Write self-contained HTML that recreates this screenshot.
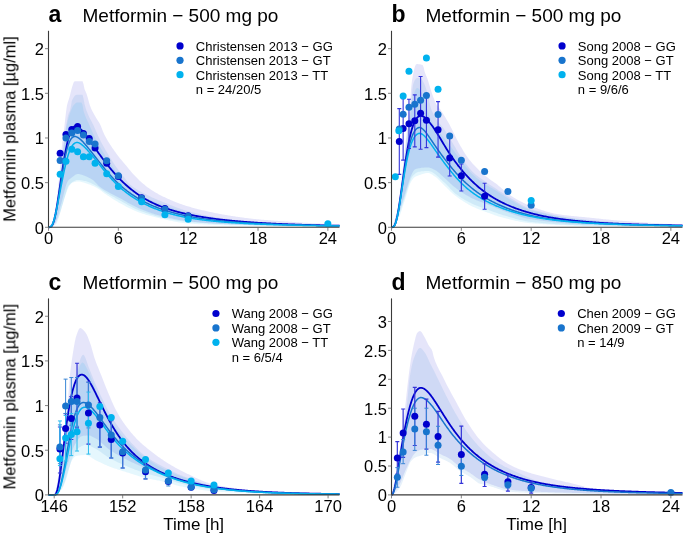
<!DOCTYPE html>
<html><head><meta charset="utf-8"><style>
html,body{margin:0;padding:0;background:#fff;}
svg{display:block;font-family:'Liberation Sans', sans-serif;-webkit-font-smoothing:antialiased;}
text{will-change:transform;}
</style></head><body>
<svg width="685" height="536" viewBox="0 0 685 536">
<rect width="685" height="536" fill="#fff"/>
<g>
<path d="M48.50,227.30 L49.47,227.00 L50.45,226.13 L51.42,224.76 L52.39,222.96 L53.37,220.79 L54.34,218.32 L55.31,213.63 L56.29,205.80 L57.26,196.08 L58.23,185.73 L59.21,175.88 L60.18,165.00 L61.15,153.50 L62.13,143.09 L63.10,135.44 L64.07,128.92 L65.05,120.40 L66.02,111.71 L66.99,105.28 L67.96,101.69 L68.94,98.90 L69.91,95.53 L70.88,91.51 L71.86,87.76 L72.83,84.75 L73.80,82.06 L74.78,81.18 L75.75,81.18 L76.72,81.18 L77.70,81.18 L78.67,81.18 L79.64,81.18 L80.62,81.18 L81.59,81.18 L82.56,81.18 L83.54,84.33 L84.51,89.02 L85.48,91.34 L86.46,93.52 L87.43,96.53 L88.40,100.11 L89.38,103.68 L90.35,106.61 L91.32,108.92 L92.30,110.96 L93.27,112.82 L94.24,114.58 L95.22,116.31 L96.19,117.90 L97.16,119.39 L98.14,120.88 L99.11,122.49 L100.08,124.34 L101.06,126.57 L102.03,129.02 L103.00,131.48 L103.97,133.76 L104.95,135.72 L105.92,137.53 L106.89,139.25 L107.87,140.88 L108.84,142.46 L109.81,143.99 L110.79,145.51 L111.76,146.99 L112.73,148.44 L113.71,149.85 L114.68,151.23 L115.65,152.58 L116.63,153.90 L117.60,155.20 L118.57,156.47 L119.55,157.71 L120.52,158.92 L121.49,160.10 L122.47,161.25 L123.44,162.40 L124.41,163.54 L125.39,164.68 L126.36,165.83 L127.33,167.01 L128.31,168.20 L129.28,169.39 L130.25,170.58 L131.23,171.75 L132.20,172.90 L133.17,174.01 L134.15,175.08 L135.12,176.10 L136.09,177.10 L137.07,178.08 L138.04,179.03 L139.01,179.96 L139.98,180.88 L140.96,181.76 L141.93,182.63 L142.90,183.48 L143.88,184.30 L144.85,185.11 L145.82,185.90 L146.80,186.66 L147.77,187.40 L148.74,188.11 L149.72,188.78 L150.69,189.43 L151.66,190.06 L152.64,190.68 L153.61,191.29 L154.58,191.89 L155.56,192.47 L156.53,193.04 L157.50,193.60 L158.48,194.14 L159.45,194.67 L160.42,195.18 L161.40,195.69 L162.37,196.18 L163.34,196.65 L164.32,197.12 L165.29,197.57 L166.26,198.03 L167.24,198.47 L168.21,198.91 L169.18,199.34 L170.16,199.76 L171.13,200.18 L172.10,200.59 L173.08,201.00 L174.05,201.40 L175.02,201.79 L175.99,202.17 L176.97,202.55 L177.94,202.92 L178.91,203.28 L179.89,203.64 L180.86,203.99 L181.83,204.34 L182.81,204.67 L183.78,205.00 L184.75,205.32 L185.73,205.64 L186.70,205.95 L187.67,206.25 L188.65,206.54 L189.62,206.83 L190.59,207.11 L191.57,207.39 L192.54,207.66 L193.51,207.93 L194.49,208.19 L195.46,208.44 L196.43,208.70 L197.41,208.94 L198.38,209.19 L199.35,209.43 L200.33,209.66 L201.30,209.90 L202.27,210.13 L203.25,210.36 L204.22,210.58 L205.19,210.81 L206.17,211.03 L207.14,211.25 L208.11,211.47 L209.09,211.68 L210.06,211.90 L211.03,212.11 L212.01,212.32 L212.98,212.53 L213.95,212.73 L214.92,212.93 L215.90,213.13 L216.87,213.32 L217.84,213.52 L218.82,213.70 L219.79,213.89 L220.76,214.07 L221.74,214.25 L222.71,214.43 L223.68,214.60 L224.66,214.76 L225.63,214.93 L226.60,215.09 L227.58,215.25 L228.55,215.41 L229.52,215.57 L230.50,215.73 L231.47,215.89 L232.44,216.04 L233.42,216.20 L234.39,216.35 L235.36,216.50 L236.34,216.65 L237.31,216.79 L238.28,216.94 L239.26,217.08 L240.23,217.22 L241.20,217.35 L242.18,217.49 L243.15,217.62 L244.12,217.75 L245.10,217.88 L246.07,218.00 L247.04,218.12 L248.02,218.24 L248.99,218.36 L249.96,218.47 L250.93,218.58 L251.91,218.69 L252.88,218.79 L253.85,218.89 L254.83,218.99 L255.80,219.08 L256.77,219.18 L257.75,219.27 L258.72,219.36 L259.69,219.45 L260.67,219.54 L261.64,219.63 L262.61,219.71 L263.59,219.80 L264.56,219.88 L265.53,219.96 L266.51,220.04 L267.48,220.12 L268.45,220.20 L269.43,220.28 L270.40,220.36 L271.37,220.43 L272.35,220.51 L273.32,220.58 L274.29,220.65 L275.27,220.72 L276.24,220.79 L277.21,220.87 L278.19,220.94 L279.16,221.00 L280.13,221.07 L281.11,221.14 L282.08,221.21 L283.05,221.28 L284.03,221.34 L285.00,221.41 L285.97,221.47 L286.94,221.54 L287.92,221.61 L288.89,221.67 L289.86,221.74 L290.84,221.80 L291.81,221.87 L292.78,221.93 L293.76,222.00 L294.73,222.06 L295.70,222.12 L296.68,222.19 L297.65,222.25 L298.62,222.31 L299.60,222.38 L300.57,222.44 L301.54,222.50 L302.52,222.56 L303.49,222.63 L304.46,222.69 L305.44,222.75 L306.41,222.81 L307.38,222.87 L308.36,222.93 L309.33,222.99 L310.30,223.05 L311.28,223.11 L312.25,223.17 L313.22,223.22 L314.20,223.28 L315.17,223.34 L316.14,223.40 L317.12,223.45 L318.09,223.51 L319.06,223.56 L320.04,223.62 L321.01,223.67 L321.98,223.73 L322.95,223.78 L323.93,223.83 L324.90,223.89 L325.87,223.94 L326.85,223.99 L327.82,224.04 L328.79,224.09 L329.77,224.14 L330.74,224.19 L331.71,224.24 L332.69,224.29 L333.66,224.34 L334.63,224.39 L335.61,224.44 L336.58,224.48 L337.55,224.53 L338.53,224.58 L339.50,224.62 L339.50,226.59 L338.53,226.58 L337.55,226.58 L336.58,226.58 L335.61,226.58 L334.63,226.57 L333.66,226.57 L332.69,226.56 L331.71,226.56 L330.74,226.55 L329.77,226.55 L328.79,226.54 L327.82,226.54 L326.85,226.53 L325.87,226.52 L324.90,226.51 L323.93,226.51 L322.95,226.50 L321.98,226.49 L321.01,226.48 L320.04,226.47 L319.06,226.46 L318.09,226.45 L317.12,226.44 L316.14,226.43 L315.17,226.42 L314.20,226.40 L313.22,226.39 L312.25,226.38 L311.28,226.37 L310.30,226.35 L309.33,226.34 L308.36,226.33 L307.38,226.31 L306.41,226.30 L305.44,226.28 L304.46,226.27 L303.49,226.25 L302.52,226.24 L301.54,226.22 L300.57,226.21 L299.60,226.19 L298.62,226.17 L297.65,226.16 L296.68,226.14 L295.70,226.12 L294.73,226.11 L293.76,226.09 L292.78,226.07 L291.81,226.05 L290.84,226.03 L289.86,226.02 L288.89,226.00 L287.92,225.98 L286.94,225.96 L285.97,225.94 L285.00,225.92 L284.03,225.90 L283.05,225.88 L282.08,225.86 L281.11,225.84 L280.13,225.82 L279.16,225.80 L278.19,225.78 L277.21,225.76 L276.24,225.74 L275.27,225.72 L274.29,225.70 L273.32,225.68 L272.35,225.65 L271.37,225.63 L270.40,225.61 L269.43,225.59 L268.45,225.57 L267.48,225.55 L266.51,225.53 L265.53,225.50 L264.56,225.48 L263.59,225.46 L262.61,225.44 L261.64,225.42 L260.67,225.39 L259.69,225.37 L258.72,225.35 L257.75,225.33 L256.77,225.31 L255.80,225.28 L254.83,225.26 L253.85,225.23 L252.88,225.21 L251.91,225.18 L250.93,225.16 L249.96,225.13 L248.99,225.10 L248.02,225.07 L247.04,225.04 L246.07,225.01 L245.10,224.98 L244.12,224.95 L243.15,224.92 L242.18,224.89 L241.20,224.85 L240.23,224.82 L239.26,224.78 L238.28,224.75 L237.31,224.71 L236.34,224.67 L235.36,224.64 L234.39,224.60 L233.42,224.56 L232.44,224.52 L231.47,224.48 L230.50,224.43 L229.52,224.39 L228.55,224.35 L227.58,224.30 L226.60,224.26 L225.63,224.21 L224.66,224.16 L223.68,224.12 L222.71,224.07 L221.74,224.02 L220.76,223.96 L219.79,223.91 L218.82,223.85 L217.84,223.80 L216.87,223.74 L215.90,223.68 L214.92,223.62 L213.95,223.55 L212.98,223.49 L212.01,223.42 L211.03,223.35 L210.06,223.28 L209.09,223.21 L208.11,223.14 L207.14,223.06 L206.17,222.99 L205.19,222.91 L204.22,222.83 L203.25,222.74 L202.27,222.66 L201.30,222.57 L200.33,222.49 L199.35,222.40 L198.38,222.31 L197.41,222.21 L196.43,222.12 L195.46,222.02 L194.49,221.92 L193.51,221.82 L192.54,221.72 L191.57,221.62 L190.59,221.51 L189.62,221.40 L188.65,221.29 L187.67,221.18 L186.70,221.06 L185.73,220.94 L184.75,220.80 L183.78,220.67 L182.81,220.52 L181.83,220.37 L180.86,220.21 L179.89,220.05 L178.91,219.88 L177.94,219.71 L176.97,219.53 L175.99,219.34 L175.02,219.16 L174.05,218.96 L173.08,218.76 L172.10,218.56 L171.13,218.35 L170.16,218.14 L169.18,217.93 L168.21,217.71 L167.24,217.49 L166.26,217.27 L165.29,217.04 L164.32,216.81 L163.34,216.58 L162.37,216.34 L161.40,216.09 L160.42,215.83 L159.45,215.56 L158.48,215.29 L157.50,215.01 L156.53,214.72 L155.56,214.43 L154.58,214.13 L153.61,213.82 L152.64,213.50 L151.66,213.18 L150.69,212.85 L149.72,212.51 L148.74,212.17 L147.77,211.82 L146.80,211.46 L145.82,211.10 L144.85,210.73 L143.88,210.36 L142.90,209.98 L141.93,209.59 L140.96,209.20 L139.98,208.81 L139.01,208.40 L138.04,207.97 L137.07,207.53 L136.09,207.06 L135.12,206.59 L134.15,206.09 L133.17,205.59 L132.20,205.07 L131.23,204.55 L130.25,204.01 L129.28,203.47 L128.31,202.93 L127.33,202.38 L126.36,201.83 L125.39,201.27 L124.41,200.72 L123.44,200.17 L122.47,199.62 L121.49,199.08 L120.52,198.55 L119.55,198.02 L118.57,197.50 L117.60,196.99 L116.63,196.49 L115.65,195.99 L114.68,195.50 L113.71,195.00 L112.73,194.50 L111.76,193.99 L110.79,193.47 L109.81,192.94 L108.84,192.40 L107.87,191.86 L106.89,191.33 L105.92,190.79 L104.95,190.24 L103.97,189.68 L103.00,189.09 L102.03,188.47 L101.06,187.81 L100.08,187.11 L99.11,186.34 L98.14,185.41 L97.16,184.37 L96.19,183.29 L95.22,182.22 L94.24,181.22 L93.27,180.36 L92.30,179.67 L91.32,179.06 L90.35,178.48 L89.38,177.95 L88.40,177.46 L87.43,177.00 L86.46,176.58 L85.48,176.19 L84.51,175.83 L83.54,175.46 L82.56,175.09 L81.59,174.74 L80.62,174.42 L79.64,174.18 L78.67,174.02 L77.70,173.98 L76.72,174.16 L75.75,174.57 L74.78,175.16 L73.80,175.88 L72.83,176.67 L71.86,177.47 L70.88,178.24 L69.91,178.96 L68.94,179.80 L67.96,180.91 L66.99,182.73 L66.02,185.48 L65.05,188.89 L64.07,192.72 L63.10,196.69 L62.13,200.56 L61.15,204.06 L60.18,207.32 L59.21,210.88 L58.23,214.51 L57.26,217.95 L56.29,220.95 L55.31,223.25 L54.34,224.60 L53.37,225.34 L52.39,225.98 L51.42,226.53 L50.45,226.94 L49.47,227.21 L48.50,227.30Z" fill="#0000CD" fill-opacity="0.1"/>
<path d="M48.50,227.30 L49.47,227.06 L50.45,226.36 L51.42,225.26 L52.39,223.82 L53.37,222.08 L54.34,220.11 L55.31,216.48 L56.29,210.38 L57.26,202.65 L58.23,194.10 L59.21,185.57 L60.18,177.27 L61.15,167.84 L62.13,157.85 L63.10,148.04 L64.07,139.16 L65.05,131.95 L66.02,126.34 L66.99,120.93 L67.96,115.83 L68.94,112.88 L69.91,110.93 L70.88,106.57 L71.86,100.77 L72.83,98.76 L73.80,97.25 L74.78,95.75 L75.75,94.88 L76.72,94.84 L77.70,94.84 L78.67,94.84 L79.64,94.84 L80.62,94.84 L81.59,94.84 L82.56,94.84 L83.54,98.84 L84.51,103.92 L85.48,107.51 L86.46,110.45 L87.43,113.05 L88.40,115.37 L89.38,117.42 L90.35,119.30 L91.32,121.10 L92.30,122.92 L93.27,124.87 L94.24,126.99 L95.22,129.21 L96.19,131.47 L97.16,133.74 L98.14,135.95 L99.11,138.07 L100.08,140.05 L101.06,141.94 L102.03,143.77 L103.00,145.55 L103.97,147.28 L104.95,148.98 L105.92,150.65 L106.89,152.30 L107.87,153.94 L108.84,155.56 L109.81,157.16 L110.79,158.74 L111.76,160.29 L112.73,161.81 L113.71,163.30 L114.68,164.75 L115.65,166.17 L116.63,167.55 L117.60,168.90 L118.57,170.22 L119.55,171.52 L120.52,172.80 L121.49,174.06 L122.47,175.31 L123.44,176.55 L124.41,177.79 L125.39,179.04 L126.36,180.34 L127.33,181.63 L128.31,182.83 L129.28,183.86 L130.25,184.71 L131.23,185.51 L132.20,186.27 L133.17,187.00 L134.15,187.69 L135.12,188.35 L136.09,188.98 L137.07,189.59 L138.04,190.17 L139.01,190.74 L139.98,191.28 L140.96,191.81 L141.93,192.33 L142.90,192.84 L143.88,193.34 L144.85,193.83 L145.82,194.32 L146.80,194.82 L147.77,195.31 L148.74,195.80 L149.72,196.28 L150.69,196.74 L151.66,197.20 L152.64,197.64 L153.61,198.08 L154.58,198.51 L155.56,198.93 L156.53,199.35 L157.50,199.75 L158.48,200.16 L159.45,200.56 L160.42,200.96 L161.40,201.35 L162.37,201.74 L163.34,202.13 L164.32,202.52 L165.29,202.92 L166.26,203.31 L167.24,203.70 L168.21,204.10 L169.18,204.49 L170.16,204.88 L171.13,205.27 L172.10,205.66 L173.08,206.05 L174.05,206.43 L175.02,206.81 L175.99,207.18 L176.97,207.55 L177.94,207.91 L178.91,208.27 L179.89,208.62 L180.86,208.96 L181.83,209.29 L182.81,209.62 L183.78,209.93 L184.75,210.24 L185.73,210.53 L186.70,210.81 L187.67,211.09 L188.65,211.35 L189.62,211.60 L190.59,211.86 L191.57,212.11 L192.54,212.35 L193.51,212.60 L194.49,212.84 L195.46,213.08 L196.43,213.31 L197.41,213.54 L198.38,213.77 L199.35,214.00 L200.33,214.22 L201.30,214.43 L202.27,214.65 L203.25,214.86 L204.22,215.07 L205.19,215.27 L206.17,215.47 L207.14,215.67 L208.11,215.86 L209.09,216.05 L210.06,216.24 L211.03,216.42 L212.01,216.60 L212.98,216.77 L213.95,216.95 L214.92,217.11 L215.90,217.28 L216.87,217.44 L217.84,217.59 L218.82,217.75 L219.79,217.89 L220.76,218.04 L221.74,218.18 L222.71,218.31 L223.68,218.45 L224.66,218.58 L225.63,218.71 L226.60,218.84 L227.58,218.96 L228.55,219.09 L229.52,219.21 L230.50,219.33 L231.47,219.45 L232.44,219.56 L233.42,219.68 L234.39,219.79 L235.36,219.90 L236.34,220.01 L237.31,220.12 L238.28,220.23 L239.26,220.33 L240.23,220.43 L241.20,220.53 L242.18,220.63 L243.15,220.73 L244.12,220.82 L245.10,220.91 L246.07,221.00 L247.04,221.09 L248.02,221.18 L248.99,221.26 L249.96,221.34 L250.93,221.42 L251.91,221.50 L252.88,221.58 L253.85,221.65 L254.83,221.72 L255.80,221.79 L256.77,221.86 L257.75,221.92 L258.72,221.99 L259.69,222.05 L260.67,222.11 L261.64,222.18 L262.61,222.24 L263.59,222.30 L264.56,222.36 L265.53,222.43 L266.51,222.49 L267.48,222.55 L268.45,222.61 L269.43,222.67 L270.40,222.74 L271.37,222.80 L272.35,222.86 L273.32,222.92 L274.29,222.98 L275.27,223.04 L276.24,223.10 L277.21,223.16 L278.19,223.22 L279.16,223.28 L280.13,223.34 L281.11,223.39 L282.08,223.45 L283.05,223.51 L284.03,223.57 L285.00,223.62 L285.97,223.68 L286.94,223.73 L287.92,223.79 L288.89,223.84 L289.86,223.90 L290.84,223.95 L291.81,224.00 L292.78,224.05 L293.76,224.10 L294.73,224.16 L295.70,224.21 L296.68,224.25 L297.65,224.30 L298.62,224.35 L299.60,224.40 L300.57,224.45 L301.54,224.49 L302.52,224.54 L303.49,224.58 L304.46,224.62 L305.44,224.67 L306.41,224.71 L307.38,224.75 L308.36,224.79 L309.33,224.83 L310.30,224.87 L311.28,224.90 L312.25,224.94 L313.22,224.98 L314.20,225.01 L315.17,225.04 L316.14,225.08 L317.12,225.11 L318.09,225.14 L319.06,225.17 L320.04,225.20 L321.01,225.22 L321.98,225.25 L322.95,225.27 L323.93,225.30 L324.90,225.32 L325.87,225.34 L326.85,225.36 L327.82,225.38 L328.79,225.40 L329.77,225.42 L330.74,225.43 L331.71,225.45 L332.69,225.46 L333.66,225.47 L334.63,225.48 L335.61,225.49 L336.58,225.50 L337.55,225.51 L338.53,225.51 L339.50,225.51 L339.50,226.76 L338.53,226.76 L337.55,226.76 L336.58,226.76 L335.61,226.76 L334.63,226.76 L333.66,226.75 L332.69,226.75 L331.71,226.75 L330.74,226.74 L329.77,226.74 L328.79,226.73 L327.82,226.73 L326.85,226.72 L325.87,226.71 L324.90,226.71 L323.93,226.70 L322.95,226.69 L321.98,226.68 L321.01,226.67 L320.04,226.66 L319.06,226.65 L318.09,226.64 L317.12,226.63 L316.14,226.62 L315.17,226.61 L314.20,226.60 L313.22,226.58 L312.25,226.57 L311.28,226.56 L310.30,226.54 L309.33,226.53 L308.36,226.51 L307.38,226.50 L306.41,226.48 L305.44,226.47 L304.46,226.45 L303.49,226.43 L302.52,226.42 L301.54,226.40 L300.57,226.38 L299.60,226.36 L298.62,226.34 L297.65,226.33 L296.68,226.31 L295.70,226.29 L294.73,226.27 L293.76,226.25 L292.78,226.22 L291.81,226.20 L290.84,226.18 L289.86,226.16 L288.89,226.14 L287.92,226.12 L286.94,226.09 L285.97,226.07 L285.00,226.05 L284.03,226.02 L283.05,226.00 L282.08,225.97 L281.11,225.95 L280.13,225.92 L279.16,225.90 L278.19,225.87 L277.21,225.85 L276.24,225.82 L275.27,225.80 L274.29,225.77 L273.32,225.74 L272.35,225.72 L271.37,225.69 L270.40,225.66 L269.43,225.63 L268.45,225.60 L267.48,225.58 L266.51,225.55 L265.53,225.52 L264.56,225.49 L263.59,225.46 L262.61,225.43 L261.64,225.40 L260.67,225.37 L259.69,225.34 L258.72,225.31 L257.75,225.28 L256.77,225.25 L255.80,225.22 L254.83,225.19 L253.85,225.15 L252.88,225.12 L251.91,225.09 L250.93,225.06 L249.96,225.03 L248.99,224.99 L248.02,224.96 L247.04,224.93 L246.07,224.90 L245.10,224.86 L244.12,224.83 L243.15,224.80 L242.18,224.76 L241.20,224.73 L240.23,224.70 L239.26,224.66 L238.28,224.63 L237.31,224.59 L236.34,224.56 L235.36,224.53 L234.39,224.49 L233.42,224.46 L232.44,224.42 L231.47,224.39 L230.50,224.35 L229.52,224.32 L228.55,224.28 L227.58,224.25 L226.60,224.21 L225.63,224.18 L224.66,224.14 L223.68,224.11 L222.71,224.07 L221.74,224.03 L220.76,224.00 L219.79,223.96 L218.82,223.92 L217.84,223.88 L216.87,223.83 L215.90,223.79 L214.92,223.75 L213.95,223.70 L212.98,223.65 L212.01,223.61 L211.03,223.56 L210.06,223.50 L209.09,223.45 L208.11,223.40 L207.14,223.34 L206.17,223.29 L205.19,223.23 L204.22,223.17 L203.25,223.11 L202.27,223.04 L201.30,222.98 L200.33,222.91 L199.35,222.84 L198.38,222.78 L197.41,222.70 L196.43,222.63 L195.46,222.56 L194.49,222.48 L193.51,222.40 L192.54,222.32 L191.57,222.24 L190.59,222.16 L189.62,222.07 L188.65,221.98 L187.67,221.89 L186.70,221.80 L185.73,221.69 L184.75,221.58 L183.78,221.46 L182.81,221.34 L181.83,221.21 L180.86,221.07 L179.89,220.93 L178.91,220.78 L177.94,220.63 L176.97,220.47 L175.99,220.31 L175.02,220.14 L174.05,219.97 L173.08,219.79 L172.10,219.61 L171.13,219.42 L170.16,219.24 L169.18,219.05 L168.21,218.85 L167.24,218.65 L166.26,218.45 L165.29,218.25 L164.32,218.04 L163.34,217.84 L162.37,217.62 L161.40,217.40 L160.42,217.17 L159.45,216.94 L158.48,216.69 L157.50,216.44 L156.53,216.18 L155.56,215.92 L154.58,215.65 L153.61,215.37 L152.64,215.08 L151.66,214.79 L150.69,214.49 L149.72,214.18 L148.74,213.87 L147.77,213.55 L146.80,213.23 L145.82,212.89 L144.85,212.56 L143.88,212.21 L142.90,211.86 L141.93,211.51 L140.96,211.14 L139.98,210.77 L139.01,210.39 L138.04,209.99 L137.07,209.57 L136.09,209.13 L135.12,208.68 L134.15,208.21 L133.17,207.73 L132.20,207.24 L131.23,206.73 L130.25,206.22 L129.28,205.69 L128.31,205.16 L127.33,204.63 L126.36,204.09 L125.39,203.54 L124.41,203.00 L123.44,202.45 L122.47,201.90 L121.49,201.35 L120.52,200.81 L119.55,200.27 L118.57,199.74 L117.60,199.21 L116.63,198.68 L115.65,198.15 L114.68,197.62 L113.71,197.08 L112.73,196.54 L111.76,196.00 L110.79,195.45 L109.81,194.89 L108.84,194.33 L107.87,193.75 L106.89,193.17 L105.92,192.58 L104.95,191.98 L103.97,191.36 L103.00,190.69 L102.03,189.98 L101.06,189.26 L100.08,188.53 L99.11,187.81 L98.14,187.10 L97.16,186.43 L96.19,185.80 L95.22,185.23 L94.24,184.72 L93.27,184.23 L92.30,183.75 L91.32,183.28 L90.35,182.83 L89.38,182.41 L88.40,182.02 L87.43,181.67 L86.46,181.35 L85.48,181.09 L84.51,180.88 L83.54,180.68 L82.56,180.49 L81.59,180.32 L80.62,180.17 L79.64,180.05 L78.67,179.98 L77.70,179.96 L76.72,180.06 L75.75,180.31 L74.78,180.69 L73.80,181.20 L72.83,181.82 L71.86,182.55 L70.88,183.37 L69.91,184.27 L68.94,185.25 L67.96,186.76 L66.99,189.23 L66.02,192.39 L65.05,195.92 L64.07,199.55 L63.10,202.99 L62.13,206.01 L61.15,209.21 L60.18,212.62 L59.21,216.00 L58.23,219.13 L57.26,221.78 L56.29,223.72 L55.31,224.74 L54.34,225.35 L53.37,225.90 L52.39,226.38 L51.42,226.77 L50.45,227.06 L49.47,227.24 L48.50,227.30Z" fill="#1874CD" fill-opacity="0.1"/>
<path d="M48.50,227.30 L49.47,227.08 L50.45,226.47 L51.42,225.51 L52.39,224.24 L53.37,222.73 L54.34,221.01 L55.31,217.89 L56.29,212.65 L57.26,205.87 L58.23,198.16 L59.21,190.12 L60.18,182.34 L61.15,173.78 L62.13,163.85 L63.10,153.46 L64.07,143.55 L65.05,135.00 L66.02,128.75 L66.99,124.12 L67.96,120.09 L68.94,116.57 L69.91,113.50 L70.88,110.80 L71.86,108.39 L72.83,106.34 L73.80,105.00 L74.78,103.92 L75.75,103.04 L76.72,102.51 L77.70,102.43 L78.67,102.43 L79.64,102.43 L80.62,102.43 L81.59,102.43 L82.56,105.10 L83.54,110.63 L84.51,114.12 L85.48,116.62 L86.46,118.76 L87.43,120.75 L88.40,122.78 L89.38,124.98 L90.35,127.24 L91.32,129.50 L92.30,131.74 L93.27,133.92 L94.24,136.03 L95.22,138.03 L96.19,139.93 L97.16,141.77 L98.14,143.56 L99.11,145.30 L100.08,147.01 L101.06,148.68 L102.03,150.34 L103.00,151.98 L103.97,153.60 L104.95,155.19 L105.92,156.76 L106.89,158.30 L107.87,159.82 L108.84,161.32 L109.81,162.80 L110.79,164.26 L111.76,165.69 L112.73,167.09 L113.71,168.47 L114.68,169.82 L115.65,171.17 L116.63,172.52 L117.60,173.87 L118.57,175.23 L119.55,176.65 L120.52,178.14 L121.49,179.63 L122.47,181.08 L123.44,182.42 L124.41,183.60 L125.39,184.59 L126.36,185.52 L127.33,186.40 L128.31,187.25 L129.28,188.07 L130.25,188.85 L131.23,189.60 L132.20,190.31 L133.17,191.00 L134.15,191.66 L135.12,192.30 L136.09,192.91 L137.07,193.50 L138.04,194.08 L139.01,194.63 L139.98,195.17 L140.96,195.69 L141.93,196.20 L142.90,196.70 L143.88,197.18 L144.85,197.64 L145.82,198.09 L146.80,198.53 L147.77,198.95 L148.74,199.37 L149.72,199.77 L150.69,200.17 L151.66,200.55 L152.64,200.93 L153.61,201.30 L154.58,201.67 L155.56,202.03 L156.53,202.38 L157.50,202.73 L158.48,203.08 L159.45,203.43 L160.42,203.78 L161.40,204.13 L162.37,204.48 L163.34,204.83 L164.32,205.18 L165.29,205.54 L166.26,205.89 L167.24,206.25 L168.21,206.61 L169.18,206.96 L170.16,207.32 L171.13,207.67 L172.10,208.02 L173.08,208.37 L174.05,208.71 L175.02,209.05 L175.99,209.39 L176.97,209.72 L177.94,210.05 L178.91,210.37 L179.89,210.68 L180.86,210.99 L181.83,211.29 L182.81,211.58 L183.78,211.86 L184.75,212.13 L185.73,212.39 L186.70,212.65 L187.67,212.89 L188.65,213.12 L189.62,213.35 L190.59,213.57 L191.57,213.79 L192.54,214.01 L193.51,214.22 L194.49,214.43 L195.46,214.64 L196.43,214.85 L197.41,215.05 L198.38,215.25 L199.35,215.45 L200.33,215.64 L201.30,215.83 L202.27,216.02 L203.25,216.20 L204.22,216.39 L205.19,216.56 L206.17,216.74 L207.14,216.91 L208.11,217.08 L209.09,217.24 L210.06,217.41 L211.03,217.56 L212.01,217.72 L212.98,217.87 L213.95,218.02 L214.92,218.17 L215.90,218.31 L216.87,218.45 L217.84,218.58 L218.82,218.72 L219.79,218.85 L220.76,218.97 L221.74,219.10 L222.71,219.21 L223.68,219.33 L224.66,219.45 L225.63,219.56 L226.60,219.67 L227.58,219.78 L228.55,219.89 L229.52,219.99 L230.50,220.10 L231.47,220.20 L232.44,220.30 L233.42,220.40 L234.39,220.50 L235.36,220.60 L236.34,220.69 L237.31,220.79 L238.28,220.88 L239.26,220.97 L240.23,221.06 L241.20,221.15 L242.18,221.23 L243.15,221.32 L244.12,221.40 L245.10,221.48 L246.07,221.56 L247.04,221.63 L248.02,221.71 L248.99,221.78 L249.96,221.86 L250.93,221.93 L251.91,221.99 L252.88,222.06 L253.85,222.13 L254.83,222.19 L255.80,222.25 L256.77,222.31 L257.75,222.37 L258.72,222.43 L259.69,222.49 L260.67,222.54 L261.64,222.60 L262.61,222.66 L263.59,222.71 L264.56,222.77 L265.53,222.83 L266.51,222.88 L267.48,222.94 L268.45,223.00 L269.43,223.05 L270.40,223.11 L271.37,223.16 L272.35,223.22 L273.32,223.27 L274.29,223.33 L275.27,223.38 L276.24,223.43 L277.21,223.49 L278.19,223.54 L279.16,223.60 L280.13,223.65 L281.11,223.70 L282.08,223.75 L283.05,223.80 L284.03,223.86 L285.00,223.91 L285.97,223.96 L286.94,224.01 L287.92,224.06 L288.89,224.11 L289.86,224.15 L290.84,224.20 L291.81,224.25 L292.78,224.30 L293.76,224.34 L294.73,224.39 L295.70,224.44 L296.68,224.48 L297.65,224.52 L298.62,224.57 L299.60,224.61 L300.57,224.65 L301.54,224.70 L302.52,224.74 L303.49,224.78 L304.46,224.82 L305.44,224.86 L306.41,224.90 L307.38,224.93 L308.36,224.97 L309.33,225.01 L310.30,225.04 L311.28,225.08 L312.25,225.11 L313.22,225.14 L314.20,225.18 L315.17,225.21 L316.14,225.24 L317.12,225.27 L318.09,225.30 L319.06,225.33 L320.04,225.35 L321.01,225.38 L321.98,225.41 L322.95,225.43 L323.93,225.45 L324.90,225.48 L325.87,225.50 L326.85,225.52 L327.82,225.54 L328.79,225.56 L329.77,225.57 L330.74,225.59 L331.71,225.61 L332.69,225.62 L333.66,225.63 L334.63,225.65 L335.61,225.66 L336.58,225.67 L337.55,225.68 L338.53,225.69 L339.50,225.69 L339.50,226.85 L338.53,226.85 L337.55,226.85 L336.58,226.84 L335.61,226.84 L334.63,226.83 L333.66,226.83 L332.69,226.82 L331.71,226.82 L330.74,226.81 L329.77,226.81 L328.79,226.80 L327.82,226.80 L326.85,226.79 L325.87,226.78 L324.90,226.78 L323.93,226.77 L322.95,226.76 L321.98,226.76 L321.01,226.75 L320.04,226.74 L319.06,226.73 L318.09,226.73 L317.12,226.72 L316.14,226.71 L315.17,226.70 L314.20,226.69 L313.22,226.68 L312.25,226.67 L311.28,226.66 L310.30,226.65 L309.33,226.64 L308.36,226.63 L307.38,226.62 L306.41,226.61 L305.44,226.60 L304.46,226.59 L303.49,226.58 L302.52,226.57 L301.54,226.56 L300.57,226.55 L299.60,226.54 L298.62,226.53 L297.65,226.51 L296.68,226.50 L295.70,226.49 L294.73,226.48 L293.76,226.47 L292.78,226.45 L291.81,226.44 L290.84,226.43 L289.86,226.42 L288.89,226.40 L287.92,226.39 L286.94,226.38 L285.97,226.36 L285.00,226.35 L284.03,226.34 L283.05,226.32 L282.08,226.31 L281.11,226.30 L280.13,226.28 L279.16,226.27 L278.19,226.25 L277.21,226.24 L276.24,226.23 L275.27,226.21 L274.29,226.20 L273.32,226.18 L272.35,226.17 L271.37,226.15 L270.40,226.14 L269.43,226.12 L268.45,226.11 L267.48,226.10 L266.51,226.08 L265.53,226.07 L264.56,226.05 L263.59,226.04 L262.61,226.02 L261.64,226.00 L260.67,225.99 L259.69,225.97 L258.72,225.96 L257.75,225.94 L256.77,225.93 L255.80,225.91 L254.83,225.90 L253.85,225.88 L252.88,225.87 L251.91,225.85 L250.93,225.84 L249.96,225.82 L248.99,225.80 L248.02,225.79 L247.04,225.77 L246.07,225.75 L245.10,225.73 L244.12,225.71 L243.15,225.69 L242.18,225.68 L241.20,225.66 L240.23,225.64 L239.26,225.61 L238.28,225.59 L237.31,225.57 L236.34,225.55 L235.36,225.53 L234.39,225.50 L233.42,225.48 L232.44,225.46 L231.47,225.43 L230.50,225.41 L229.52,225.38 L228.55,225.35 L227.58,225.33 L226.60,225.30 L225.63,225.27 L224.66,225.24 L223.68,225.21 L222.71,225.18 L221.74,225.15 L220.76,225.12 L219.79,225.09 L218.82,225.05 L217.84,225.02 L216.87,224.99 L215.90,224.95 L214.92,224.92 L213.95,224.88 L212.98,224.84 L212.01,224.81 L211.03,224.77 L210.06,224.73 L209.09,224.68 L208.11,224.64 L207.14,224.60 L206.17,224.55 L205.19,224.51 L204.22,224.46 L203.25,224.41 L202.27,224.36 L201.30,224.31 L200.33,224.26 L199.35,224.20 L198.38,224.15 L197.41,224.09 L196.43,224.03 L195.46,223.97 L194.49,223.90 L193.51,223.84 L192.54,223.77 L191.57,223.70 L190.59,223.63 L189.62,223.56 L188.65,223.49 L187.67,223.41 L186.70,223.33 L185.73,223.25 L184.75,223.17 L183.78,223.07 L182.81,222.96 L181.83,222.84 L180.86,222.70 L179.89,222.55 L178.91,222.40 L177.94,222.23 L176.97,222.05 L175.99,221.87 L175.02,221.67 L174.05,221.47 L173.08,221.27 L172.10,221.06 L171.13,220.84 L170.16,220.63 L169.18,220.41 L168.21,220.18 L167.24,219.96 L166.26,219.74 L165.29,219.52 L164.32,219.30 L163.34,219.08 L162.37,218.87 L161.40,218.65 L160.42,218.43 L159.45,218.20 L158.48,217.97 L157.50,217.74 L156.53,217.51 L155.56,217.27 L154.58,217.03 L153.61,216.79 L152.64,216.54 L151.66,216.28 L150.69,216.02 L149.72,215.75 L148.74,215.48 L147.77,215.21 L146.80,214.92 L145.82,214.63 L144.85,214.34 L143.88,214.03 L142.90,213.72 L141.93,213.40 L140.96,213.07 L139.98,212.74 L139.01,212.39 L138.04,212.03 L137.07,211.65 L136.09,211.25 L135.12,210.85 L134.15,210.42 L133.17,209.99 L132.20,209.54 L131.23,209.08 L130.25,208.62 L129.28,208.14 L128.31,207.65 L127.33,207.15 L126.36,206.65 L125.39,206.14 L124.41,205.62 L123.44,205.10 L122.47,204.57 L121.49,204.04 L120.52,203.50 L119.55,202.96 L118.57,202.42 L117.60,201.87 L116.63,201.31 L115.65,200.72 L114.68,200.12 L113.71,199.51 L112.73,198.88 L111.76,198.25 L110.79,197.61 L109.81,196.96 L108.84,196.30 L107.87,195.65 L106.89,195.00 L105.92,194.33 L104.95,193.64 L103.97,192.91 L103.00,192.17 L102.03,191.43 L101.06,190.70 L100.08,189.99 L99.11,189.31 L98.14,188.67 L97.16,188.08 L96.19,187.56 L95.22,187.05 L94.24,186.57 L93.27,186.11 L92.30,185.68 L91.32,185.26 L90.35,184.87 L89.38,184.50 L88.40,184.16 L87.43,183.85 L86.46,183.52 L85.48,183.19 L84.51,182.86 L83.54,182.54 L82.56,182.25 L81.59,181.99 L80.62,181.77 L79.64,181.61 L78.67,181.51 L77.70,181.48 L76.72,181.54 L75.75,181.69 L74.78,181.91 L73.80,182.18 L72.83,182.50 L71.86,183.05 L70.88,183.90 L69.91,184.97 L68.94,186.49 L67.96,188.60 L66.99,191.10 L66.02,193.80 L65.05,196.49 L64.07,199.30 L63.10,202.57 L62.13,206.07 L61.15,209.56 L60.18,212.82 L59.21,215.61 L58.23,217.71 L57.26,219.20 L56.29,220.62 L55.31,221.98 L54.34,223.24 L53.37,224.37 L52.39,225.36 L51.42,226.17 L50.45,226.78 L49.47,227.17 L48.50,227.30Z" fill="#00B2EE" fill-opacity="0.1"/>
<path d="M48.50,227.30 L49.08,227.29 L49.67,227.24 L50.25,227.09 L50.83,226.78 L51.42,226.24 L52.00,225.42 L52.58,224.30 L53.17,222.85 L53.75,221.06 L54.33,218.95 L54.91,216.51 L55.50,213.79 L56.08,210.79 L56.66,207.55 L57.25,204.11 L57.83,200.49 L58.41,196.73 L59.00,192.87 L59.58,188.94 L60.16,184.97 L60.75,180.99 L61.33,177.04 L61.91,173.14 L62.50,169.31 L63.08,165.58 L63.66,161.96 L64.25,158.48 L64.83,155.14 L65.41,151.96 L65.99,148.95 L66.58,146.11 L67.16,143.46 L67.74,141.00 L68.33,138.72 L68.91,136.64 L69.49,134.75 L70.08,133.05 L70.66,131.55 L71.24,130.25 L71.83,129.13 L72.41,128.21 L72.99,127.47 L73.58,126.92 L74.16,126.54 L74.74,126.31 L75.33,126.23 L75.91,126.28 L76.49,126.44 L77.08,126.68 L77.66,127.00 L78.24,127.32 L78.82,127.69 L79.41,128.11 L79.99,128.57 L80.57,129.07 L81.16,129.62 L81.74,130.20 L82.32,130.81 L82.91,131.46 L83.49,132.13 L84.07,132.84 L84.66,133.56 L85.24,134.31 L85.82,135.07 L86.41,135.86 L86.99,136.65 L87.57,137.46 L88.16,138.28 L88.74,139.10 L89.32,139.93 L89.90,140.77 L90.49,141.61 L91.07,142.45 L91.65,143.29 L92.24,144.13 L92.82,144.96 L93.40,145.80 L93.99,146.63 L94.57,147.46 L95.15,148.29 L95.74,149.11 L96.32,149.93 L96.90,150.75 L97.49,151.56 L98.07,152.37 L98.65,153.17 L99.24,153.98 L99.82,154.78 L100.40,155.57 L100.98,156.37 L101.57,157.15 L102.15,157.94 L102.73,158.72 L103.32,159.50 L103.90,160.27 L104.48,161.04 L105.07,161.80 L105.65,162.56 L106.23,163.31 L106.82,164.06 L107.40,164.80 L107.98,165.54 L108.57,166.27 L109.15,166.99 L109.73,167.71 L110.32,168.42 L110.90,169.13 L111.48,169.82 L112.07,170.51 L112.65,171.20 L113.23,171.87 L113.81,172.54 L114.40,173.21 L114.98,173.86 L115.56,174.51 L116.15,175.15 L116.73,175.79 L117.31,176.41 L117.90,177.03 L118.48,177.65 L119.06,178.25 L119.65,178.85 L120.23,179.44 L120.81,180.03 L121.40,180.61 L121.98,181.18 L122.56,181.75 L123.15,182.31 L123.73,182.86 L124.31,183.40 L124.89,183.94 L125.48,184.47 L126.06,185.00 L126.64,185.52 L127.23,186.03 L127.81,186.54 L128.39,187.04 L128.98,187.53 L129.56,188.02 L130.14,188.50 L130.73,188.98 L131.31,189.45 L131.89,189.91 L132.48,190.37 L133.06,190.82 L133.64,191.26 L134.23,191.70 L134.81,192.13 L135.39,192.56 L135.97,192.98 L136.56,193.40 L137.14,193.81 L137.72,194.22 L138.31,194.62 L138.89,195.01 L139.47,195.40 L140.06,195.78 L140.64,196.16 L141.22,196.53 L141.81,196.90 L142.39,197.26 L142.97,197.62 L143.56,197.97 L144.14,198.32 L144.72,198.66 L145.31,199.00 L145.89,199.33 L146.47,199.66 L147.06,199.98 L147.64,200.30 L148.22,200.62 L148.80,200.93 L149.39,201.23 L149.97,201.53 L150.55,201.83 L151.14,202.12 L151.72,202.41 L152.30,202.70 L152.89,202.98 L153.47,203.25 L154.05,203.52 L154.64,203.79 L155.22,204.06 L155.80,204.32 L156.39,204.57 L156.97,204.82 L157.55,205.07 L158.14,205.32 L158.72,205.56 L159.30,205.80 L159.88,206.04 L160.47,206.27 L161.05,206.50 L161.63,206.72 L162.22,206.94 L162.80,207.16 L163.38,207.38 L163.97,207.59 L164.55,207.80 L165.13,208.01 L165.72,208.21 L166.30,208.41 L166.88,208.61 L167.47,208.81 L168.05,209.00 L168.63,209.19 L169.22,209.38 L169.80,209.56 L170.38,209.74 L170.96,209.92 L171.55,210.10 L172.13,210.28 L172.71,210.45 L173.30,210.62 L173.88,210.79 L174.46,210.96 L175.05,211.12 L175.63,211.28 L176.21,211.44 L176.80,211.60 L177.38,211.76 L177.96,211.91 L178.55,212.06 L179.13,212.21 L179.71,212.36 L180.30,212.51 L180.88,212.65 L181.46,212.80 L182.05,212.94 L182.63,213.08 L183.21,213.22 L183.79,213.36 L184.38,213.49 L184.96,213.62 L185.54,213.76 L186.13,213.89 L186.71,214.02 L187.29,214.14 L187.88,214.27 L188.46,214.39 L189.04,214.52 L189.63,214.64 L190.21,214.76 L190.79,214.88 L191.38,215.00 L191.96,215.11 L192.54,215.23 L193.13,215.34 L193.71,215.46 L194.29,215.57 L194.87,215.68 L195.46,215.79 L196.04,215.90 L196.62,216.00 L197.21,216.11 L197.79,216.21 L198.37,216.32 L198.96,216.42 L199.54,216.52 L200.12,216.62 L200.71,216.72 L201.29,216.82 L201.87,216.92 L202.46,217.01 L203.04,217.11 L203.62,217.20 L204.21,217.29 L204.79,217.39 L205.37,217.48 L205.95,217.57 L206.54,217.66 L207.12,217.75 L207.70,217.83 L208.29,217.92 L208.87,218.00 L209.45,218.09 L210.04,218.17 L210.62,218.26 L211.20,218.34 L211.79,218.42 L212.37,218.50 L212.95,218.58 L213.54,218.66 L214.12,218.73 L214.70,218.81 L215.29,218.89 L215.87,218.96 L216.45,219.04 L217.04,219.11 L217.62,219.18 L218.20,219.26 L218.78,219.33 L219.37,219.40 L219.95,219.47 L220.53,219.54 L221.12,219.61 L221.70,219.67 L222.28,219.74 L222.87,219.81 L223.45,219.87 L224.03,219.94 L224.62,220.00 L225.20,220.07 L225.78,220.13 L226.37,220.19 L226.95,220.25 L227.53,220.31 L228.12,220.38 L228.70,220.44 L229.28,220.49 L229.86,220.55 L230.45,220.61 L231.03,220.67 L231.61,220.73 L232.20,220.78 L232.78,220.84 L233.36,220.89 L233.95,220.95 L234.53,221.00 L235.11,221.05 L235.70,221.11 L236.28,221.16 L236.86,221.21 L237.45,221.26 L238.03,221.31 L238.61,221.36 L239.20,221.41 L239.78,221.46 L240.36,221.51 L240.94,221.56 L241.53,221.61 L242.11,221.66 L242.69,221.70 L243.28,221.75 L243.86,221.80 L244.44,221.84 L245.03,221.89 L245.61,221.93 L246.19,221.97 L246.78,222.02 L247.36,222.06 L247.94,222.11 L248.53,222.15 L249.11,222.19 L249.69,222.23 L250.28,222.27 L250.86,222.31 L251.44,222.35 L252.03,222.39 L252.61,222.43 L253.19,222.47 L253.77,222.51 L254.36,222.55 L254.94,222.59 L255.52,222.63 L256.11,222.67 L256.69,222.70 L257.27,222.74 L257.86,222.78 L258.44,222.81 L259.02,222.85 L259.61,222.88 L260.19,222.92 L260.77,222.95 L261.36,222.99 L261.94,223.02 L262.52,223.06 L263.11,223.09 L263.69,223.12 L264.27,223.16 L264.85,223.19 L265.44,223.22 L266.02,223.25 L266.60,223.28 L267.19,223.32 L267.77,223.35 L268.35,223.38 L268.94,223.41 L269.52,223.44 L270.10,223.47 L270.69,223.50 L271.27,223.53 L271.85,223.56 L272.44,223.59 L273.02,223.62 L273.60,223.64 L274.19,223.67 L274.77,223.70 L275.35,223.73 L275.93,223.76 L276.52,223.78 L277.10,223.81 L277.68,223.84 L278.27,223.86 L278.85,223.89 L279.43,223.92 L280.02,223.94 L280.60,223.97 L281.18,223.99 L281.77,224.02 L282.35,224.04 L282.93,224.07 L283.52,224.09 L284.10,224.12 L284.68,224.14 L285.27,224.17 L285.85,224.19 L286.43,224.21 L287.02,224.24 L287.60,224.26 L288.18,224.28 L288.76,224.30 L289.35,224.33 L289.93,224.35 L290.51,224.37 L291.10,224.39 L291.68,224.42 L292.26,224.44 L292.85,224.46 L293.43,224.48 L294.01,224.50 L294.60,224.52 L295.18,224.54 L295.76,224.56 L296.35,224.58 L296.93,224.60 L297.51,224.62 L298.10,224.64 L298.68,224.66 L299.26,224.68 L299.84,224.70 L300.43,224.72 L301.01,224.74 L301.59,224.76 L302.18,224.78 L302.76,224.80 L303.34,224.81 L303.93,224.83 L304.51,224.85 L305.09,224.87 L305.68,224.89 L306.26,224.90 L306.84,224.92 L307.43,224.94 L308.01,224.96 L308.59,224.97 L309.18,224.99 L309.76,225.01 L310.34,225.02 L310.92,225.04 L311.51,225.06 L312.09,225.07 L312.67,225.09 L313.26,225.10 L313.84,225.12 L314.42,225.14 L315.01,225.15 L315.59,225.17 L316.17,225.18 L316.76,225.20 L317.34,225.21 L317.92,225.23 L318.51,225.24 L319.09,225.26 L319.67,225.27 L320.26,225.29 L320.84,225.30 L321.42,225.31 L322.01,225.33 L322.59,225.34 L323.17,225.36 L323.75,225.37 L324.34,225.38 L324.92,225.40 L325.50,225.41 L326.09,225.42 L326.67,225.44 L327.25,225.45 L327.84,225.46 L328.42,225.48 L329.00,225.49 L329.59,225.50 L330.17,225.52 L330.75,225.53 L331.34,225.54 L331.92,225.55 L332.50,225.56 L333.09,225.58 L333.67,225.59 L334.25,225.60 L334.83,225.61 L335.42,225.62 L336.00,225.64 L336.58,225.65 L337.17,225.66 L337.75,225.67 L338.33,225.68 L338.92,225.69 L339.50,225.70" fill="none" stroke="#0000CD" stroke-width="1.8" stroke-linejoin="round"/>
<path d="M48.50,227.30 L49.08,227.29 L49.67,227.26 L50.25,227.16 L50.83,226.92 L51.42,226.49 L52.00,225.81 L52.58,224.84 L53.17,223.56 L53.75,221.94 L54.33,219.99 L54.91,217.71 L55.50,215.13 L56.08,212.26 L56.66,209.14 L57.25,205.80 L57.83,202.28 L58.41,198.62 L59.00,194.84 L59.58,190.99 L60.16,187.10 L60.75,183.24 L61.33,179.41 L61.91,175.66 L62.50,172.00 L63.08,168.47 L63.66,165.08 L64.25,161.86 L64.83,158.81 L65.41,155.96 L65.99,153.31 L66.58,150.87 L67.16,148.63 L67.74,146.61 L68.33,144.80 L68.91,143.20 L69.49,141.79 L70.08,140.57 L70.66,139.53 L71.24,138.67 L71.83,137.97 L72.41,137.41 L72.99,137.00 L73.58,136.72 L74.16,136.55 L74.74,136.49 L75.33,136.52 L75.91,136.64 L76.49,136.84 L77.08,137.11 L77.66,137.43 L78.24,137.77 L78.82,138.15 L79.41,138.58 L79.99,139.04 L80.57,139.55 L81.16,140.09 L81.74,140.65 L82.32,141.24 L82.91,141.85 L83.49,142.48 L84.07,143.13 L84.66,143.79 L85.24,144.46 L85.82,145.14 L86.41,145.83 L86.99,146.52 L87.57,147.22 L88.16,147.93 L88.74,148.64 L89.32,149.36 L89.90,150.08 L90.49,150.80 L91.07,151.53 L91.65,152.26 L92.24,152.99 L92.82,153.72 L93.40,154.46 L93.99,155.20 L94.57,155.94 L95.15,156.68 L95.74,157.43 L96.32,158.17 L96.90,158.92 L97.49,159.66 L98.07,160.41 L98.65,161.15 L99.24,161.90 L99.82,162.64 L100.40,163.38 L100.98,164.12 L101.57,164.86 L102.15,165.59 L102.73,166.32 L103.32,167.05 L103.90,167.77 L104.48,168.48 L105.07,169.20 L105.65,169.90 L106.23,170.60 L106.82,171.29 L107.40,171.98 L107.98,172.66 L108.57,173.34 L109.15,174.01 L109.73,174.67 L110.32,175.32 L110.90,175.97 L111.48,176.60 L112.07,177.24 L112.65,177.86 L113.23,178.48 L113.81,179.09 L114.40,179.69 L114.98,180.28 L115.56,180.87 L116.15,181.44 L116.73,182.01 L117.31,182.58 L117.90,183.13 L118.48,183.68 L119.06,184.22 L119.65,184.76 L120.23,185.28 L120.81,185.80 L121.40,186.31 L121.98,186.82 L122.56,187.32 L123.15,187.81 L123.73,188.29 L124.31,188.77 L124.89,189.24 L125.48,189.71 L126.06,190.16 L126.64,190.62 L127.23,191.06 L127.81,191.50 L128.39,191.94 L128.98,192.37 L129.56,192.79 L130.14,193.21 L130.73,193.62 L131.31,194.02 L131.89,194.43 L132.48,194.82 L133.06,195.21 L133.64,195.60 L134.23,195.98 L134.81,196.35 L135.39,196.72 L135.97,197.09 L136.56,197.45 L137.14,197.81 L137.72,198.16 L138.31,198.51 L138.89,198.85 L139.47,199.19 L140.06,199.52 L140.64,199.85 L141.22,200.18 L141.81,200.50 L142.39,200.81 L142.97,201.13 L143.56,201.43 L144.14,201.74 L144.72,202.04 L145.31,202.34 L145.89,202.63 L146.47,202.92 L147.06,203.20 L147.64,203.48 L148.22,203.76 L148.80,204.04 L149.39,204.31 L149.97,204.57 L150.55,204.83 L151.14,205.09 L151.72,205.35 L152.30,205.60 L152.89,205.85 L153.47,206.10 L154.05,206.34 L154.64,206.58 L155.22,206.81 L155.80,207.05 L156.39,207.28 L156.97,207.50 L157.55,207.73 L158.14,207.95 L158.72,208.16 L159.30,208.38 L159.88,208.59 L160.47,208.80 L161.05,209.01 L161.63,209.21 L162.22,209.41 L162.80,209.61 L163.38,209.80 L163.97,210.00 L164.55,210.19 L165.13,210.37 L165.72,210.56 L166.30,210.74 L166.88,210.92 L167.47,211.10 L168.05,211.28 L168.63,211.45 L169.22,211.62 L169.80,211.79 L170.38,211.96 L170.96,212.12 L171.55,212.29 L172.13,212.45 L172.71,212.61 L173.30,212.76 L173.88,212.92 L174.46,213.07 L175.05,213.22 L175.63,213.37 L176.21,213.52 L176.80,213.67 L177.38,213.81 L177.96,213.95 L178.55,214.09 L179.13,214.23 L179.71,214.37 L180.30,214.51 L180.88,214.64 L181.46,214.77 L182.05,214.90 L182.63,215.03 L183.21,215.16 L183.79,215.29 L184.38,215.41 L184.96,215.54 L185.54,215.66 L186.13,215.78 L186.71,215.90 L187.29,216.01 L187.88,216.13 L188.46,216.25 L189.04,216.36 L189.63,216.47 L190.21,216.58 L190.79,216.69 L191.38,216.80 L191.96,216.91 L192.54,217.01 L193.13,217.12 L193.71,217.22 L194.29,217.32 L194.87,217.42 L195.46,217.52 L196.04,217.62 L196.62,217.72 L197.21,217.81 L197.79,217.91 L198.37,218.00 L198.96,218.10 L199.54,218.19 L200.12,218.28 L200.71,218.37 L201.29,218.45 L201.87,218.54 L202.46,218.63 L203.04,218.71 L203.62,218.80 L204.21,218.88 L204.79,218.96 L205.37,219.04 L205.95,219.12 L206.54,219.20 L207.12,219.28 L207.70,219.36 L208.29,219.43 L208.87,219.51 L209.45,219.58 L210.04,219.66 L210.62,219.73 L211.20,219.80 L211.79,219.87 L212.37,219.94 L212.95,220.01 L213.54,220.08 L214.12,220.15 L214.70,220.21 L215.29,220.28 L215.87,220.35 L216.45,220.41 L217.04,220.47 L217.62,220.54 L218.20,220.60 L218.78,220.66 L219.37,220.72 L219.95,220.78 L220.53,220.84 L221.12,220.90 L221.70,220.95 L222.28,221.01 L222.87,221.07 L223.45,221.12 L224.03,221.18 L224.62,221.23 L225.20,221.29 L225.78,221.34 L226.37,221.39 L226.95,221.44 L227.53,221.49 L228.12,221.54 L228.70,221.59 L229.28,221.64 L229.86,221.69 L230.45,221.74 L231.03,221.79 L231.61,221.84 L232.20,221.88 L232.78,221.93 L233.36,221.97 L233.95,222.02 L234.53,222.06 L235.11,222.11 L235.70,222.15 L236.28,222.19 L236.86,222.24 L237.45,222.28 L238.03,222.32 L238.61,222.36 L239.20,222.40 L239.78,222.44 L240.36,222.48 L240.94,222.52 L241.53,222.56 L242.11,222.60 L242.69,222.64 L243.28,222.67 L243.86,222.71 L244.44,222.75 L245.03,222.78 L245.61,222.82 L246.19,222.86 L246.78,222.89 L247.36,222.93 L247.94,222.96 L248.53,223.00 L249.11,223.03 L249.69,223.06 L250.28,223.10 L250.86,223.13 L251.44,223.16 L252.03,223.19 L252.61,223.22 L253.19,223.26 L253.77,223.29 L254.36,223.32 L254.94,223.35 L255.52,223.38 L256.11,223.41 L256.69,223.44 L257.27,223.47 L257.86,223.50 L258.44,223.53 L259.02,223.55 L259.61,223.58 L260.19,223.61 L260.77,223.64 L261.36,223.67 L261.94,223.69 L262.52,223.72 L263.11,223.75 L263.69,223.77 L264.27,223.80 L264.85,223.82 L265.44,223.85 L266.02,223.88 L266.60,223.90 L267.19,223.93 L267.77,223.95 L268.35,223.97 L268.94,224.00 L269.52,224.02 L270.10,224.05 L270.69,224.07 L271.27,224.09 L271.85,224.12 L272.44,224.14 L273.02,224.16 L273.60,224.18 L274.19,224.21 L274.77,224.23 L275.35,224.25 L275.93,224.27 L276.52,224.29 L277.10,224.31 L277.68,224.34 L278.27,224.36 L278.85,224.38 L279.43,224.40 L280.02,224.42 L280.60,224.44 L281.18,224.46 L281.77,224.48 L282.35,224.50 L282.93,224.52 L283.52,224.54 L284.10,224.55 L284.68,224.57 L285.27,224.59 L285.85,224.61 L286.43,224.63 L287.02,224.65 L287.60,224.67 L288.18,224.68 L288.76,224.70 L289.35,224.72 L289.93,224.74 L290.51,224.75 L291.10,224.77 L291.68,224.79 L292.26,224.80 L292.85,224.82 L293.43,224.84 L294.01,224.85 L294.60,224.87 L295.18,224.89 L295.76,224.90 L296.35,224.92 L296.93,224.93 L297.51,224.95 L298.10,224.96 L298.68,224.98 L299.26,224.99 L299.84,225.01 L300.43,225.02 L301.01,225.04 L301.59,225.05 L302.18,225.07 L302.76,225.08 L303.34,225.10 L303.93,225.11 L304.51,225.12 L305.09,225.14 L305.68,225.15 L306.26,225.16 L306.84,225.18 L307.43,225.19 L308.01,225.20 L308.59,225.22 L309.18,225.23 L309.76,225.24 L310.34,225.26 L310.92,225.27 L311.51,225.28 L312.09,225.29 L312.67,225.31 L313.26,225.32 L313.84,225.33 L314.42,225.34 L315.01,225.35 L315.59,225.37 L316.17,225.38 L316.76,225.39 L317.34,225.40 L317.92,225.41 L318.51,225.42 L319.09,225.43 L319.67,225.45 L320.26,225.46 L320.84,225.47 L321.42,225.48 L322.01,225.49 L322.59,225.50 L323.17,225.51 L323.75,225.52 L324.34,225.53 L324.92,225.54 L325.50,225.55 L326.09,225.56 L326.67,225.57 L327.25,225.58 L327.84,225.59 L328.42,225.60 L329.00,225.61 L329.59,225.62 L330.17,225.63 L330.75,225.64 L331.34,225.65 L331.92,225.66 L332.50,225.67 L333.09,225.68 L333.67,225.69 L334.25,225.69 L334.83,225.70 L335.42,225.71 L336.00,225.72 L336.58,225.73 L337.17,225.74 L337.75,225.75 L338.33,225.76 L338.92,225.76 L339.50,225.77" fill="none" stroke="#1874CD" stroke-width="1.5" stroke-linejoin="round"/>
<path d="M48.50,227.30 L49.08,227.28 L49.67,227.19 L50.25,226.95 L50.83,226.51 L51.42,225.83 L52.00,224.90 L52.58,223.71 L53.17,222.25 L53.75,220.54 L54.33,218.59 L54.91,216.42 L55.50,214.06 L56.08,211.53 L56.66,208.85 L57.25,206.06 L57.83,203.17 L58.41,200.21 L59.00,197.21 L59.58,194.18 L60.16,191.14 L60.75,188.09 L61.33,185.06 L61.91,182.07 L62.50,179.13 L63.08,176.24 L63.66,173.42 L64.25,170.68 L64.83,168.02 L65.41,165.46 L65.99,163.02 L66.58,160.69 L67.16,158.51 L67.74,156.46 L68.33,154.57 L68.91,152.83 L69.49,151.25 L70.08,149.81 L70.66,148.53 L71.24,147.38 L71.83,146.37 L72.41,145.49 L72.99,144.73 L73.58,144.09 L74.16,143.57 L74.74,143.15 L75.33,142.84 L75.91,142.62 L76.49,142.49 L77.08,142.46 L77.66,142.51 L78.24,142.64 L78.82,142.83 L79.41,143.09 L79.99,143.40 L80.57,143.75 L81.16,144.15 L81.74,144.59 L82.32,145.06 L82.91,145.56 L83.49,146.08 L84.07,146.63 L84.66,147.19 L85.24,147.77 L85.82,148.37 L86.41,148.98 L86.99,149.61 L87.57,150.24 L88.16,150.89 L88.74,151.55 L89.32,152.21 L89.90,152.89 L90.49,153.57 L91.07,154.26 L91.65,154.95 L92.24,155.66 L92.82,156.36 L93.40,157.08 L93.99,157.79 L94.57,158.51 L95.15,159.24 L95.74,159.97 L96.32,160.70 L96.90,161.43 L97.49,162.16 L98.07,162.90 L98.65,163.63 L99.24,164.36 L99.82,165.10 L100.40,165.83 L100.98,166.56 L101.57,167.29 L102.15,168.02 L102.73,168.75 L103.32,169.47 L103.90,170.18 L104.48,170.90 L105.07,171.61 L105.65,172.31 L106.23,173.01 L106.82,173.70 L107.40,174.39 L107.98,175.06 L108.57,175.74 L109.15,176.40 L109.73,177.06 L110.32,177.71 L110.90,178.36 L111.48,178.99 L112.07,179.62 L112.65,180.24 L113.23,180.85 L113.81,181.46 L114.40,182.06 L114.98,182.64 L115.56,183.22 L116.15,183.80 L116.73,184.36 L117.31,184.92 L117.90,185.46 L118.48,186.01 L119.06,186.54 L119.65,187.06 L120.23,187.58 L120.81,188.09 L121.40,188.60 L121.98,189.09 L122.56,189.58 L123.15,190.07 L123.73,190.54 L124.31,191.01 L124.89,191.47 L125.48,191.93 L126.06,192.38 L126.64,192.82 L127.23,193.26 L127.81,193.69 L128.39,194.12 L128.98,194.54 L129.56,194.95 L130.14,195.36 L130.73,195.76 L131.31,196.16 L131.89,196.55 L132.48,196.94 L133.06,197.32 L133.64,197.70 L134.23,198.07 L134.81,198.44 L135.39,198.80 L135.97,199.16 L136.56,199.51 L137.14,199.86 L137.72,200.20 L138.31,200.54 L138.89,200.87 L139.47,201.20 L140.06,201.53 L140.64,201.85 L141.22,202.17 L141.81,202.48 L142.39,202.79 L142.97,203.10 L143.56,203.40 L144.14,203.70 L144.72,203.99 L145.31,204.28 L145.89,204.57 L146.47,204.85 L147.06,205.13 L147.64,205.41 L148.22,205.68 L148.80,205.95 L149.39,206.21 L149.97,206.48 L150.55,206.74 L151.14,206.99 L151.72,207.24 L152.30,207.49 L152.89,207.74 L153.47,207.98 L154.05,208.22 L154.64,208.46 L155.22,208.69 L155.80,208.92 L156.39,209.15 L156.97,209.38 L157.55,209.60 L158.14,209.82 L158.72,210.03 L159.30,210.24 L159.88,210.45 L160.47,210.66 L161.05,210.87 L161.63,211.07 L162.22,211.27 L162.80,211.46 L163.38,211.65 L163.97,211.84 L164.55,212.03 L165.13,212.22 L165.72,212.40 L166.30,212.58 L166.88,212.76 L167.47,212.93 L168.05,213.10 L168.63,213.27 L169.22,213.44 L169.80,213.60 L170.38,213.77 L170.96,213.93 L171.55,214.08 L172.13,214.24 L172.71,214.39 L173.30,214.54 L173.88,214.69 L174.46,214.84 L175.05,214.98 L175.63,215.13 L176.21,215.27 L176.80,215.41 L177.38,215.54 L177.96,215.68 L178.55,215.81 L179.13,215.94 L179.71,216.07 L180.30,216.19 L180.88,216.32 L181.46,216.44 L182.05,216.56 L182.63,216.68 L183.21,216.80 L183.79,216.92 L184.38,217.03 L184.96,217.14 L185.54,217.26 L186.13,217.37 L186.71,217.47 L187.29,217.58 L187.88,217.69 L188.46,217.79 L189.04,217.89 L189.63,217.99 L190.21,218.09 L190.79,218.19 L191.38,218.29 L191.96,218.38 L192.54,218.48 L193.13,218.57 L193.71,218.66 L194.29,218.75 L194.87,218.84 L195.46,218.93 L196.04,219.01 L196.62,219.10 L197.21,219.18 L197.79,219.27 L198.37,219.35 L198.96,219.43 L199.54,219.51 L200.12,219.59 L200.71,219.67 L201.29,219.74 L201.87,219.82 L202.46,219.89 L203.04,219.97 L203.62,220.04 L204.21,220.11 L204.79,220.18 L205.37,220.25 L205.95,220.32 L206.54,220.39 L207.12,220.46 L207.70,220.53 L208.29,220.59 L208.87,220.66 L209.45,220.72 L210.04,220.78 L210.62,220.85 L211.20,220.91 L211.79,220.97 L212.37,221.03 L212.95,221.09 L213.54,221.15 L214.12,221.20 L214.70,221.26 L215.29,221.32 L215.87,221.37 L216.45,221.43 L217.04,221.48 L217.62,221.54 L218.20,221.59 L218.78,221.64 L219.37,221.69 L219.95,221.74 L220.53,221.79 L221.12,221.84 L221.70,221.89 L222.28,221.94 L222.87,221.99 L223.45,222.04 L224.03,222.08 L224.62,222.13 L225.20,222.17 L225.78,222.22 L226.37,222.26 L226.95,222.31 L227.53,222.35 L228.12,222.40 L228.70,222.44 L229.28,222.48 L229.86,222.52 L230.45,222.56 L231.03,222.60 L231.61,222.64 L232.20,222.68 L232.78,222.72 L233.36,222.76 L233.95,222.80 L234.53,222.84 L235.11,222.87 L235.70,222.91 L236.28,222.95 L236.86,222.98 L237.45,223.02 L238.03,223.05 L238.61,223.09 L239.20,223.12 L239.78,223.16 L240.36,223.19 L240.94,223.22 L241.53,223.26 L242.11,223.29 L242.69,223.32 L243.28,223.35 L243.86,223.39 L244.44,223.42 L245.03,223.45 L245.61,223.48 L246.19,223.51 L246.78,223.54 L247.36,223.57 L247.94,223.60 L248.53,223.63 L249.11,223.65 L249.69,223.68 L250.28,223.71 L250.86,223.74 L251.44,223.77 L252.03,223.79 L252.61,223.82 L253.19,223.85 L253.77,223.87 L254.36,223.90 L254.94,223.92 L255.52,223.95 L256.11,223.97 L256.69,224.00 L257.27,224.02 L257.86,224.05 L258.44,224.07 L259.02,224.10 L259.61,224.12 L260.19,224.14 L260.77,224.17 L261.36,224.19 L261.94,224.21 L262.52,224.24 L263.11,224.26 L263.69,224.28 L264.27,224.30 L264.85,224.32 L265.44,224.35 L266.02,224.37 L266.60,224.39 L267.19,224.41 L267.77,224.43 L268.35,224.45 L268.94,224.47 L269.52,224.49 L270.10,224.51 L270.69,224.53 L271.27,224.55 L271.85,224.57 L272.44,224.59 L273.02,224.61 L273.60,224.63 L274.19,224.64 L274.77,224.66 L275.35,224.68 L275.93,224.70 L276.52,224.72 L277.10,224.73 L277.68,224.75 L278.27,224.77 L278.85,224.79 L279.43,224.80 L280.02,224.82 L280.60,224.84 L281.18,224.85 L281.77,224.87 L282.35,224.89 L282.93,224.90 L283.52,224.92 L284.10,224.94 L284.68,224.95 L285.27,224.97 L285.85,224.98 L286.43,225.00 L287.02,225.01 L287.60,225.03 L288.18,225.04 L288.76,225.06 L289.35,225.07 L289.93,225.09 L290.51,225.10 L291.10,225.12 L291.68,225.13 L292.26,225.14 L292.85,225.16 L293.43,225.17 L294.01,225.19 L294.60,225.20 L295.18,225.21 L295.76,225.23 L296.35,225.24 L296.93,225.25 L297.51,225.26 L298.10,225.28 L298.68,225.29 L299.26,225.30 L299.84,225.32 L300.43,225.33 L301.01,225.34 L301.59,225.35 L302.18,225.36 L302.76,225.38 L303.34,225.39 L303.93,225.40 L304.51,225.41 L305.09,225.42 L305.68,225.44 L306.26,225.45 L306.84,225.46 L307.43,225.47 L308.01,225.48 L308.59,225.49 L309.18,225.50 L309.76,225.51 L310.34,225.52 L310.92,225.54 L311.51,225.55 L312.09,225.56 L312.67,225.57 L313.26,225.58 L313.84,225.59 L314.42,225.60 L315.01,225.61 L315.59,225.62 L316.17,225.63 L316.76,225.64 L317.34,225.65 L317.92,225.66 L318.51,225.67 L319.09,225.68 L319.67,225.69 L320.26,225.69 L320.84,225.70 L321.42,225.71 L322.01,225.72 L322.59,225.73 L323.17,225.74 L323.75,225.75 L324.34,225.76 L324.92,225.77 L325.50,225.78 L326.09,225.79 L326.67,225.79 L327.25,225.80 L327.84,225.81 L328.42,225.82 L329.00,225.83 L329.59,225.84 L330.17,225.84 L330.75,225.85 L331.34,225.86 L331.92,225.87 L332.50,225.88 L333.09,225.88 L333.67,225.89 L334.25,225.90 L334.83,225.91 L335.42,225.92 L336.00,225.92 L336.58,225.93 L337.17,225.94 L337.75,225.95 L338.33,225.95 L338.92,225.96 L339.50,225.97" fill="none" stroke="#00B2EE" stroke-width="1.5" stroke-linejoin="round"/>
<circle cx="60.14" cy="153.34" r="3.5" fill="#0000CD"/>
<circle cx="65.96" cy="134.50" r="3.5" fill="#0000CD"/>
<circle cx="71.78" cy="129.59" r="3.5" fill="#0000CD"/>
<circle cx="77.60" cy="126.55" r="3.5" fill="#0000CD"/>
<circle cx="83.42" cy="133.52" r="3.5" fill="#0000CD"/>
<circle cx="89.24" cy="138.52" r="3.5" fill="#0000CD"/>
<circle cx="95.06" cy="147.90" r="3.5" fill="#0000CD"/>
<circle cx="106.70" cy="163.26" r="3.5" fill="#0000CD"/>
<circle cx="118.34" cy="176.39" r="3.5" fill="#0000CD"/>
<circle cx="141.62" cy="197.83" r="3.5" fill="#0000CD"/>
<circle cx="164.90" cy="208.54" r="3.5" fill="#0000CD"/>
<circle cx="188.18" cy="215.69" r="3.5" fill="#0000CD"/>
<circle cx="60.14" cy="160.58" r="3.5" fill="#1874CD"/>
<circle cx="65.96" cy="137.98" r="3.5" fill="#1874CD"/>
<circle cx="71.78" cy="132.98" r="3.5" fill="#1874CD"/>
<circle cx="77.60" cy="130.57" r="3.5" fill="#1874CD"/>
<circle cx="83.42" cy="135.03" r="3.5" fill="#1874CD"/>
<circle cx="89.24" cy="141.47" r="3.5" fill="#1874CD"/>
<circle cx="95.06" cy="143.97" r="3.5" fill="#1874CD"/>
<circle cx="106.70" cy="160.76" r="3.5" fill="#1874CD"/>
<circle cx="118.34" cy="175.67" r="3.5" fill="#1874CD"/>
<circle cx="141.62" cy="198.36" r="3.5" fill="#1874CD"/>
<circle cx="164.90" cy="209.35" r="3.5" fill="#1874CD"/>
<circle cx="188.18" cy="216.22" r="3.5" fill="#1874CD"/>
<circle cx="60.14" cy="174.33" r="3.5" fill="#00B2EE"/>
<circle cx="65.96" cy="161.29" r="3.5" fill="#00B2EE"/>
<circle cx="71.78" cy="149.33" r="3.5" fill="#00B2EE"/>
<circle cx="77.60" cy="151.83" r="3.5" fill="#00B2EE"/>
<circle cx="83.42" cy="156.83" r="3.5" fill="#00B2EE"/>
<circle cx="89.24" cy="156.83" r="3.5" fill="#00B2EE"/>
<circle cx="95.06" cy="163.26" r="3.5" fill="#00B2EE"/>
<circle cx="106.70" cy="173.71" r="3.5" fill="#00B2EE"/>
<circle cx="118.34" cy="186.48" r="3.5" fill="#00B2EE"/>
<circle cx="141.62" cy="201.84" r="3.5" fill="#00B2EE"/>
<circle cx="164.90" cy="214.71" r="3.5" fill="#00B2EE"/>
<circle cx="188.18" cy="219.17" r="3.5" fill="#00B2EE"/>
<circle cx="327.86" cy="223.82" r="3.5" fill="#00B2EE"/>
</g>
<path d="M391.50,227.30 L392.47,226.04 L393.45,223.88 L394.42,220.97 L395.39,217.47 L396.37,213.54 L397.34,209.35 L398.31,204.16 L399.29,197.47 L400.26,189.72 L401.23,181.35 L402.21,172.78 L403.18,164.45 L404.15,155.91 L405.13,146.93 L406.10,138.09 L407.07,130.11 L408.05,123.57 L409.02,116.59 L409.99,106.83 L410.96,89.64 L411.94,80.83 L412.91,75.04 L413.88,70.62 L414.86,66.84 L415.83,64.46 L416.80,64.03 L417.78,64.06 L418.75,64.14 L419.72,64.28 L420.70,64.46 L421.67,64.71 L422.64,65.04 L423.62,67.14 L424.59,71.38 L425.56,74.21 L426.54,76.62 L427.51,79.07 L428.48,81.96 L429.46,85.21 L430.43,88.56 L431.40,91.70 L432.38,94.48 L433.35,97.20 L434.32,99.78 L435.30,102.13 L436.27,104.14 L437.24,105.75 L438.22,107.03 L439.19,108.17 L440.16,109.34 L441.14,110.69 L442.11,112.14 L443.08,113.65 L444.06,115.20 L445.03,116.81 L446.00,118.45 L446.97,120.13 L447.95,121.84 L448.92,123.58 L449.89,125.34 L450.87,127.14 L451.84,129.04 L452.81,131.02 L453.79,133.03 L454.76,135.05 L455.73,137.05 L456.71,138.99 L457.68,140.85 L458.65,142.63 L459.63,144.40 L460.60,146.15 L461.57,147.87 L462.55,149.56 L463.52,151.20 L464.49,152.79 L465.47,154.31 L466.44,155.76 L467.41,157.12 L468.39,158.42 L469.36,159.67 L470.33,160.87 L471.31,162.04 L472.28,163.16 L473.25,164.26 L474.23,165.32 L475.20,166.35 L476.17,167.35 L477.15,168.34 L478.12,169.30 L479.09,170.24 L480.07,171.16 L481.04,172.06 L482.01,172.93 L482.98,173.78 L483.96,174.62 L484.93,175.43 L485.90,176.23 L486.88,177.02 L487.85,177.79 L488.82,178.54 L489.80,179.28 L490.77,179.99 L491.74,180.66 L492.72,181.32 L493.69,181.97 L494.66,182.64 L495.64,183.33 L496.61,184.07 L497.58,184.84 L498.56,185.65 L499.53,186.48 L500.50,187.33 L501.48,188.19 L502.45,189.05 L503.42,189.92 L504.40,190.77 L505.37,191.61 L506.34,192.43 L507.32,193.22 L508.29,193.97 L509.26,194.68 L510.24,195.34 L511.21,195.97 L512.18,196.58 L513.16,197.18 L514.13,197.77 L515.10,198.35 L516.08,198.92 L517.05,199.47 L518.02,200.02 L518.99,200.55 L519.97,201.07 L520.94,201.58 L521.91,202.08 L522.89,202.57 L523.86,203.04 L524.83,203.51 L525.81,203.96 L526.78,204.40 L527.75,204.82 L528.73,205.24 L529.70,205.64 L530.67,206.02 L531.65,206.40 L532.62,206.77 L533.59,207.13 L534.57,207.49 L535.54,207.85 L536.51,208.21 L537.49,208.56 L538.46,208.90 L539.43,209.24 L540.41,209.57 L541.38,209.90 L542.35,210.22 L543.33,210.54 L544.30,210.84 L545.27,211.14 L546.25,211.44 L547.22,211.72 L548.19,211.99 L549.17,212.26 L550.14,212.51 L551.11,212.76 L552.09,212.99 L553.06,213.22 L554.03,213.43 L555.01,213.63 L555.98,213.82 L556.95,214.00 L557.92,214.17 L558.90,214.32 L559.87,214.47 L560.84,214.61 L561.82,214.75 L562.79,214.88 L563.76,215.01 L564.74,215.13 L565.71,215.25 L566.68,215.37 L567.66,215.48 L568.63,215.59 L569.60,215.69 L570.58,215.79 L571.55,215.89 L572.52,215.99 L573.50,216.09 L574.47,216.18 L575.44,216.27 L576.42,216.36 L577.39,216.46 L578.36,216.55 L579.34,216.64 L580.31,216.73 L581.28,216.82 L582.26,216.91 L583.23,217.00 L584.20,217.10 L585.18,217.19 L586.15,217.29 L587.12,217.39 L588.10,217.49 L589.07,217.60 L590.04,217.70 L591.02,217.80 L591.99,217.91 L592.96,218.01 L593.93,218.11 L594.91,218.21 L595.88,218.32 L596.85,218.42 L597.83,218.52 L598.80,218.62 L599.77,218.73 L600.75,218.83 L601.72,218.93 L602.69,219.03 L603.67,219.13 L604.64,219.23 L605.61,219.32 L606.59,219.42 L607.56,219.52 L608.53,219.61 L609.51,219.71 L610.48,219.80 L611.45,219.89 L612.43,219.98 L613.40,220.07 L614.37,220.16 L615.35,220.24 L616.32,220.33 L617.29,220.41 L618.27,220.49 L619.24,220.57 L620.21,220.65 L621.19,220.72 L622.16,220.80 L623.13,220.88 L624.11,220.95 L625.08,221.03 L626.05,221.10 L627.03,221.18 L628.00,221.25 L628.97,221.33 L629.94,221.40 L630.92,221.48 L631.89,221.55 L632.86,221.62 L633.84,221.70 L634.81,221.77 L635.78,221.84 L636.76,221.91 L637.73,221.98 L638.70,222.05 L639.68,222.13 L640.65,222.20 L641.62,222.26 L642.60,222.33 L643.57,222.40 L644.54,222.47 L645.52,222.54 L646.49,222.60 L647.46,222.67 L648.44,222.74 L649.41,222.80 L650.38,222.87 L651.36,222.93 L652.33,222.99 L653.30,223.06 L654.28,223.12 L655.25,223.18 L656.22,223.24 L657.20,223.30 L658.17,223.36 L659.14,223.42 L660.12,223.48 L661.09,223.54 L662.06,223.60 L663.04,223.65 L664.01,223.71 L664.98,223.76 L665.95,223.82 L666.93,223.87 L667.90,223.92 L668.87,223.98 L669.85,224.03 L670.82,224.08 L671.79,224.13 L672.77,224.18 L673.74,224.22 L674.71,224.27 L675.69,224.32 L676.66,224.36 L677.63,224.41 L678.61,224.45 L679.58,224.50 L680.55,224.54 L681.53,224.58 L682.50,224.62 L682.50,226.41 L681.53,226.41 L680.55,226.41 L679.58,226.40 L678.61,226.40 L677.63,226.40 L676.66,226.40 L675.69,226.40 L674.71,226.39 L673.74,226.39 L672.77,226.38 L671.79,226.38 L670.82,226.37 L669.85,226.37 L668.87,226.36 L667.90,226.36 L666.93,226.35 L665.95,226.34 L664.98,226.34 L664.01,226.33 L663.04,226.32 L662.06,226.31 L661.09,226.30 L660.12,226.29 L659.14,226.28 L658.17,226.27 L657.20,226.26 L656.22,226.25 L655.25,226.24 L654.28,226.23 L653.30,226.21 L652.33,226.20 L651.36,226.19 L650.38,226.17 L649.41,226.16 L648.44,226.15 L647.46,226.13 L646.49,226.12 L645.52,226.10 L644.54,226.09 L643.57,226.07 L642.60,226.05 L641.62,226.04 L640.65,226.02 L639.68,226.00 L638.70,225.99 L637.73,225.97 L636.76,225.95 L635.78,225.93 L634.81,225.91 L633.84,225.89 L632.86,225.87 L631.89,225.85 L630.92,225.83 L629.94,225.81 L628.97,225.79 L628.00,225.77 L627.03,225.75 L626.05,225.73 L625.08,225.70 L624.11,225.68 L623.13,225.66 L622.16,225.63 L621.19,225.61 L620.21,225.59 L619.24,225.56 L618.27,225.54 L617.29,225.51 L616.32,225.49 L615.35,225.46 L614.37,225.44 L613.40,225.41 L612.43,225.39 L611.45,225.36 L610.48,225.33 L609.51,225.31 L608.53,225.28 L607.56,225.25 L606.59,225.23 L605.61,225.20 L604.64,225.17 L603.67,225.14 L602.69,225.11 L601.72,225.08 L600.75,225.05 L599.77,225.03 L598.80,225.00 L597.83,224.97 L596.85,224.94 L595.88,224.91 L594.91,224.87 L593.93,224.84 L592.96,224.81 L591.99,224.78 L591.02,224.75 L590.04,224.72 L589.07,224.69 L588.10,224.66 L587.12,224.62 L586.15,224.59 L585.18,224.55 L584.20,224.52 L583.23,224.48 L582.26,224.43 L581.28,224.39 L580.31,224.34 L579.34,224.29 L578.36,224.24 L577.39,224.19 L576.42,224.13 L575.44,224.08 L574.47,224.02 L573.50,223.95 L572.52,223.89 L571.55,223.82 L570.58,223.75 L569.60,223.68 L568.63,223.61 L567.66,223.54 L566.68,223.46 L565.71,223.38 L564.74,223.30 L563.76,223.22 L562.79,223.13 L561.82,223.04 L560.84,222.95 L559.87,222.86 L558.90,222.77 L557.92,222.67 L556.95,222.57 L555.98,222.47 L555.01,222.37 L554.03,222.27 L553.06,222.16 L552.09,222.05 L551.11,221.94 L550.14,221.83 L549.17,221.72 L548.19,221.60 L547.22,221.48 L546.25,221.36 L545.27,221.24 L544.30,221.12 L543.33,220.99 L542.35,220.87 L541.38,220.74 L540.41,220.60 L539.43,220.47 L538.46,220.33 L537.49,220.20 L536.51,220.06 L535.54,219.92 L534.57,219.77 L533.59,219.63 L532.62,219.48 L531.65,219.33 L530.67,219.18 L529.70,219.01 L528.73,218.83 L527.75,218.63 L526.78,218.42 L525.81,218.20 L524.83,217.96 L523.86,217.71 L522.89,217.45 L521.91,217.18 L520.94,216.89 L519.97,216.60 L518.99,216.30 L518.02,215.99 L517.05,215.67 L516.08,215.35 L515.10,215.02 L514.13,214.68 L513.16,214.34 L512.18,214.00 L511.21,213.65 L510.24,213.30 L509.26,212.95 L508.29,212.59 L507.32,212.23 L506.34,211.88 L505.37,211.52 L504.40,211.17 L503.42,210.81 L502.45,210.46 L501.48,210.11 L500.50,209.74 L499.53,209.36 L498.56,208.97 L497.58,208.57 L496.61,208.16 L495.64,207.75 L494.66,207.33 L493.69,206.92 L492.72,206.50 L491.74,206.09 L490.77,205.68 L489.80,205.28 L488.82,204.88 L487.85,204.50 L486.88,204.13 L485.90,203.77 L484.93,203.41 L483.96,203.06 L482.98,202.71 L482.01,202.36 L481.04,202.01 L480.07,201.65 L479.09,201.29 L478.12,200.91 L477.15,200.53 L476.17,200.14 L475.20,199.72 L474.23,199.30 L473.25,198.85 L472.28,198.38 L471.31,197.89 L470.33,197.39 L469.36,196.87 L468.39,196.34 L467.41,195.79 L466.44,195.22 L465.47,194.64 L464.49,194.05 L463.52,193.43 L462.55,192.81 L461.57,192.17 L460.60,191.52 L459.63,190.85 L458.65,190.17 L457.68,189.48 L456.71,188.78 L455.73,188.06 L454.76,187.33 L453.79,186.55 L452.81,185.72 L451.84,184.85 L450.87,183.95 L449.89,183.03 L448.92,182.10 L447.95,181.17 L446.97,180.25 L446.00,179.34 L445.03,178.47 L444.06,177.61 L443.08,176.72 L442.11,175.81 L441.14,174.89 L440.16,173.98 L439.19,173.10 L438.22,172.27 L437.24,171.50 L436.27,170.81 L435.30,170.22 L434.32,169.72 L433.35,169.23 L432.38,168.76 L431.40,168.32 L430.43,167.95 L429.46,167.66 L428.48,167.49 L427.51,167.46 L426.54,167.47 L425.56,167.51 L424.59,167.56 L423.62,167.64 L422.64,167.73 L421.67,167.85 L420.70,168.00 L419.72,168.17 L418.75,168.36 L417.78,168.59 L416.80,168.84 L415.83,169.12 L414.86,169.44 L413.88,170.39 L412.91,171.93 L411.94,173.74 L410.96,175.96 L409.99,178.51 L409.02,181.32 L408.05,184.31 L407.07,187.40 L406.10,190.51 L405.13,193.56 L404.15,196.49 L403.18,199.52 L402.21,202.70 L401.23,205.91 L400.26,209.00 L399.29,211.84 L398.31,214.31 L397.34,216.56 L396.37,218.72 L395.39,220.75 L394.42,222.65 L393.45,224.38 L392.47,225.94 L391.50,227.30Z" fill="#0000CD" fill-opacity="0.1"/>
<path d="M391.50,227.30 L392.47,226.28 L393.45,224.38 L394.42,221.75 L395.39,218.56 L396.37,214.97 L397.34,211.14 L398.31,206.37 L399.29,200.15 L400.26,192.89 L401.23,185.00 L402.21,176.88 L403.18,168.93 L404.15,160.76 L405.13,152.06 L406.10,143.25 L407.07,134.72 L408.05,126.78 L409.02,119.24 L409.99,111.68 L410.96,103.70 L411.94,93.96 L412.91,84.95 L413.88,82.15 L414.86,80.04 L415.83,78.64 L416.80,78.00 L417.78,77.96 L418.75,77.96 L419.72,77.96 L420.70,78.19 L421.67,79.21 L422.64,80.75 L423.62,82.52 L424.59,84.51 L425.56,87.17 L426.54,90.32 L427.51,93.74 L428.48,97.63 L429.46,102.41 L430.43,106.77 L431.40,109.68 L432.38,112.05 L433.35,114.12 L434.32,115.95 L435.30,117.60 L436.27,119.15 L437.24,120.64 L438.22,121.99 L439.19,123.22 L440.16,124.36 L441.14,125.47 L442.11,126.60 L443.08,127.80 L444.06,129.12 L445.03,130.54 L446.00,132.04 L446.97,133.59 L447.95,135.18 L448.92,136.79 L449.89,138.42 L450.87,140.04 L451.84,141.64 L452.81,143.27 L453.79,144.93 L454.76,146.62 L455.73,148.32 L456.71,150.01 L457.68,151.67 L458.65,153.29 L459.63,154.86 L460.60,156.35 L461.57,157.77 L462.55,159.16 L463.52,160.54 L464.49,161.89 L465.47,163.23 L466.44,164.53 L467.41,165.80 L468.39,167.03 L469.36,168.22 L470.33,169.35 L471.31,170.44 L472.28,171.47 L473.25,172.43 L474.23,173.34 L475.20,174.19 L476.17,175.00 L477.15,175.78 L478.12,176.52 L479.09,177.24 L480.07,177.93 L481.04,178.61 L482.01,179.28 L482.98,179.94 L483.96,180.60 L484.93,181.27 L485.90,181.94 L486.88,182.63 L487.85,183.30 L488.82,183.97 L489.80,184.63 L490.77,185.28 L491.74,185.93 L492.72,186.57 L493.69,187.21 L494.66,187.85 L495.64,188.49 L496.61,189.12 L497.58,189.76 L498.56,190.40 L499.53,191.04 L500.50,191.68 L501.48,192.32 L502.45,192.96 L503.42,193.59 L504.40,194.22 L505.37,194.84 L506.34,195.45 L507.32,196.06 L508.29,196.66 L509.26,197.25 L510.24,197.83 L511.21,198.41 L512.18,199.00 L513.16,199.60 L514.13,200.21 L515.10,200.82 L516.08,201.43 L517.05,202.04 L518.02,202.64 L518.99,203.24 L519.97,203.83 L520.94,204.42 L521.91,204.98 L522.89,205.54 L523.86,206.07 L524.83,206.59 L525.81,207.08 L526.78,207.55 L527.75,207.99 L528.73,208.40 L529.70,208.78 L530.67,209.13 L531.65,209.44 L532.62,209.72 L533.59,210.01 L534.57,210.29 L535.54,210.56 L536.51,210.83 L537.49,211.10 L538.46,211.36 L539.43,211.61 L540.41,211.87 L541.38,212.11 L542.35,212.36 L543.33,212.60 L544.30,212.83 L545.27,213.07 L546.25,213.29 L547.22,213.52 L548.19,213.74 L549.17,213.95 L550.14,214.16 L551.11,214.37 L552.09,214.58 L553.06,214.78 L554.03,214.97 L555.01,215.17 L555.98,215.36 L556.95,215.54 L557.92,215.73 L558.90,215.90 L559.87,216.08 L560.84,216.25 L561.82,216.42 L562.79,216.58 L563.76,216.75 L564.74,216.90 L565.71,217.06 L566.68,217.21 L567.66,217.36 L568.63,217.50 L569.60,217.65 L570.58,217.79 L571.55,217.92 L572.52,218.06 L573.50,218.19 L574.47,218.31 L575.44,218.44 L576.42,218.56 L577.39,218.68 L578.36,218.79 L579.34,218.91 L580.31,219.02 L581.28,219.12 L582.26,219.23 L583.23,219.33 L584.20,219.43 L585.18,219.53 L586.15,219.62 L587.12,219.71 L588.10,219.81 L589.07,219.90 L590.04,219.99 L591.02,220.08 L591.99,220.17 L592.96,220.26 L593.93,220.35 L594.91,220.44 L595.88,220.53 L596.85,220.61 L597.83,220.70 L598.80,220.79 L599.77,220.88 L600.75,220.96 L601.72,221.05 L602.69,221.14 L603.67,221.22 L604.64,221.31 L605.61,221.39 L606.59,221.48 L607.56,221.56 L608.53,221.64 L609.51,221.73 L610.48,221.81 L611.45,221.89 L612.43,221.97 L613.40,222.05 L614.37,222.13 L615.35,222.21 L616.32,222.29 L617.29,222.37 L618.27,222.45 L619.24,222.52 L620.21,222.60 L621.19,222.67 L622.16,222.75 L623.13,222.82 L624.11,222.89 L625.08,222.97 L626.05,223.04 L627.03,223.11 L628.00,223.18 L628.97,223.25 L629.94,223.31 L630.92,223.38 L631.89,223.45 L632.86,223.51 L633.84,223.58 L634.81,223.64 L635.78,223.71 L636.76,223.77 L637.73,223.83 L638.70,223.89 L639.68,223.95 L640.65,224.00 L641.62,224.06 L642.60,224.12 L643.57,224.17 L644.54,224.23 L645.52,224.28 L646.49,224.33 L647.46,224.38 L648.44,224.43 L649.41,224.48 L650.38,224.52 L651.36,224.57 L652.33,224.62 L653.30,224.66 L654.28,224.70 L655.25,224.74 L656.22,224.78 L657.20,224.82 L658.17,224.86 L659.14,224.89 L660.12,224.93 L661.09,224.96 L662.06,224.99 L663.04,225.02 L664.01,225.05 L664.98,225.08 L665.95,225.11 L666.93,225.13 L667.90,225.16 L668.87,225.18 L669.85,225.20 L670.82,225.22 L671.79,225.24 L672.77,225.25 L673.74,225.27 L674.71,225.28 L675.69,225.30 L676.66,225.31 L677.63,225.31 L678.61,225.32 L679.58,225.33 L680.55,225.33 L681.53,225.33 L682.50,225.34 L682.50,226.59 L681.53,226.59 L680.55,226.58 L679.58,226.58 L678.61,226.58 L677.63,226.58 L676.66,226.58 L675.69,226.58 L674.71,226.58 L673.74,226.57 L672.77,226.57 L671.79,226.57 L670.82,226.57 L669.85,226.56 L668.87,226.56 L667.90,226.56 L666.93,226.55 L665.95,226.55 L664.98,226.54 L664.01,226.54 L663.04,226.53 L662.06,226.53 L661.09,226.52 L660.12,226.52 L659.14,226.51 L658.17,226.51 L657.20,226.50 L656.22,226.49 L655.25,226.49 L654.28,226.48 L653.30,226.47 L652.33,226.46 L651.36,226.46 L650.38,226.45 L649.41,226.44 L648.44,226.43 L647.46,226.42 L646.49,226.42 L645.52,226.41 L644.54,226.40 L643.57,226.39 L642.60,226.38 L641.62,226.37 L640.65,226.36 L639.68,226.35 L638.70,226.34 L637.73,226.33 L636.76,226.32 L635.78,226.30 L634.81,226.29 L633.84,226.28 L632.86,226.27 L631.89,226.26 L630.92,226.25 L629.94,226.23 L628.97,226.22 L628.00,226.21 L627.03,226.19 L626.05,226.18 L625.08,226.17 L624.11,226.16 L623.13,226.14 L622.16,226.13 L621.19,226.11 L620.21,226.10 L619.24,226.08 L618.27,226.07 L617.29,226.06 L616.32,226.04 L615.35,226.03 L614.37,226.01 L613.40,225.99 L612.43,225.98 L611.45,225.96 L610.48,225.95 L609.51,225.93 L608.53,225.91 L607.56,225.90 L606.59,225.88 L605.61,225.86 L604.64,225.85 L603.67,225.83 L602.69,225.81 L601.72,225.80 L600.75,225.78 L599.77,225.76 L598.80,225.74 L597.83,225.72 L596.85,225.71 L595.88,225.69 L594.91,225.67 L593.93,225.65 L592.96,225.63 L591.99,225.61 L591.02,225.59 L590.04,225.57 L589.07,225.55 L588.10,225.53 L587.12,225.52 L586.15,225.49 L585.18,225.47 L584.20,225.45 L583.23,225.42 L582.26,225.40 L581.28,225.37 L580.31,225.34 L579.34,225.31 L578.36,225.28 L577.39,225.24 L576.42,225.21 L575.44,225.17 L574.47,225.14 L573.50,225.10 L572.52,225.05 L571.55,225.01 L570.58,224.97 L569.60,224.92 L568.63,224.88 L567.66,224.83 L566.68,224.78 L565.71,224.73 L564.74,224.67 L563.76,224.62 L562.79,224.56 L561.82,224.51 L560.84,224.45 L559.87,224.39 L558.90,224.33 L557.92,224.26 L556.95,224.20 L555.98,224.13 L555.01,224.06 L554.03,224.00 L553.06,223.93 L552.09,223.85 L551.11,223.78 L550.14,223.70 L549.17,223.63 L548.19,223.55 L547.22,223.47 L546.25,223.39 L545.27,223.31 L544.30,223.22 L543.33,223.14 L542.35,223.05 L541.38,222.96 L540.41,222.87 L539.43,222.78 L538.46,222.69 L537.49,222.59 L536.51,222.49 L535.54,222.40 L534.57,222.30 L533.59,222.20 L532.62,222.09 L531.65,221.99 L530.67,221.88 L529.70,221.76 L528.73,221.63 L527.75,221.48 L526.78,221.33 L525.81,221.15 L524.83,220.97 L523.86,220.78 L522.89,220.58 L521.91,220.36 L520.94,220.14 L519.97,219.91 L518.99,219.67 L518.02,219.42 L517.05,219.17 L516.08,218.91 L515.10,218.64 L514.13,218.37 L513.16,218.10 L512.18,217.82 L511.21,217.53 L510.24,217.24 L509.26,216.96 L508.29,216.66 L507.32,216.37 L506.34,216.08 L505.37,215.78 L504.40,215.49 L503.42,215.20 L502.45,214.91 L501.48,214.61 L500.50,214.31 L499.53,213.99 L498.56,213.66 L497.58,213.32 L496.61,212.97 L495.64,212.61 L494.66,212.25 L493.69,211.89 L492.72,211.52 L491.74,211.16 L490.77,210.79 L489.80,210.43 L488.82,210.07 L487.85,209.72 L486.88,209.37 L485.90,209.03 L484.93,208.69 L483.96,208.35 L482.98,208.01 L482.01,207.66 L481.04,207.31 L480.07,206.96 L479.09,206.60 L478.12,206.23 L477.15,205.85 L476.17,205.46 L475.20,205.06 L474.23,204.64 L473.25,204.20 L472.28,203.75 L471.31,203.29 L470.33,202.81 L469.36,202.33 L468.39,201.83 L467.41,201.32 L466.44,200.79 L465.47,200.25 L464.49,199.69 L463.52,199.12 L462.55,198.53 L461.57,197.92 L460.60,197.29 L459.63,196.65 L458.65,195.99 L457.68,195.31 L456.71,194.60 L455.73,193.88 L454.76,193.13 L453.79,192.29 L452.81,191.35 L451.84,190.35 L450.87,189.29 L449.89,188.21 L448.92,187.11 L447.95,186.04 L446.97,185.00 L446.00,184.01 L445.03,183.11 L444.06,182.27 L443.08,181.40 L442.11,180.50 L441.14,179.59 L440.16,178.66 L439.19,177.74 L438.22,176.84 L437.24,175.95 L436.27,175.11 L435.30,174.31 L434.32,173.57 L433.35,172.90 L432.38,172.31 L431.40,171.81 L430.43,171.42 L429.46,171.13 L428.48,170.97 L427.51,170.94 L426.54,170.96 L425.56,171.00 L424.59,171.06 L423.62,171.14 L422.64,171.24 L421.67,171.37 L420.70,171.50 L419.72,171.66 L418.75,171.83 L417.78,172.05 L416.80,172.47 L415.83,173.09 L414.86,173.88 L413.88,174.81 L412.91,175.86 L411.94,177.08 L410.96,178.88 L409.99,181.19 L409.02,183.91 L408.05,186.90 L407.07,190.04 L406.10,193.22 L405.13,196.29 L404.15,199.15 L403.18,202.07 L402.21,205.14 L401.23,208.21 L400.26,211.15 L399.29,213.81 L398.31,216.05 L397.34,218.08 L396.37,220.00 L395.39,221.80 L394.42,223.46 L393.45,224.94 L392.47,226.23 L391.50,227.30Z" fill="#1874CD" fill-opacity="0.1"/>
<path d="M391.50,227.30 L392.47,226.52 L393.45,224.87 L394.42,222.52 L395.39,219.65 L396.37,216.40 L397.34,212.94 L398.31,208.52 L399.29,202.65 L400.26,195.76 L401.23,188.30 L402.21,180.71 L403.18,173.43 L404.15,166.27 L405.13,158.87 L406.10,151.31 L407.07,143.67 L408.05,135.97 L409.02,127.23 L409.99,117.91 L410.96,109.03 L411.94,101.66 L412.91,96.83 L413.88,93.73 L414.86,91.04 L415.83,89.04 L416.80,88.03 L417.78,88.10 L418.75,88.73 L419.72,89.79 L420.70,91.18 L421.67,92.79 L422.64,94.53 L423.62,96.83 L424.59,100.20 L425.56,103.98 L426.54,107.45 L427.51,110.28 L428.48,113.04 L429.46,115.71 L430.43,118.23 L431.40,120.57 L432.38,122.67 L433.35,124.49 L434.32,126.05 L435.30,127.42 L436.27,128.67 L437.24,129.83 L438.22,130.95 L439.19,132.07 L440.16,133.23 L441.14,134.46 L442.11,135.67 L443.08,136.87 L444.06,138.06 L445.03,139.26 L446.00,140.46 L446.97,141.66 L447.95,142.88 L448.92,144.12 L449.89,145.38 L450.87,146.67 L451.84,148.00 L452.81,149.34 L453.79,150.70 L454.76,152.06 L455.73,153.43 L456.71,154.78 L457.68,156.12 L458.65,157.43 L459.63,158.71 L460.60,159.96 L461.57,161.21 L462.55,162.46 L463.52,163.70 L464.49,164.95 L465.47,166.17 L466.44,167.38 L467.41,168.57 L468.39,169.73 L469.36,170.85 L470.33,171.92 L471.31,172.95 L472.28,173.93 L473.25,174.85 L474.23,175.74 L475.20,176.59 L476.17,177.41 L477.15,178.20 L478.12,178.97 L479.09,179.72 L480.07,180.44 L481.04,181.15 L482.01,181.85 L482.98,182.53 L483.96,183.20 L484.93,183.86 L485.90,184.51 L486.88,185.14 L487.85,185.75 L488.82,186.34 L489.80,186.91 L490.77,187.48 L491.74,188.04 L492.72,188.59 L493.69,189.15 L494.66,189.72 L495.64,190.30 L496.61,190.90 L497.58,191.51 L498.56,192.13 L499.53,192.77 L500.50,193.41 L501.48,194.06 L502.45,194.71 L503.42,195.35 L504.40,195.99 L505.37,196.63 L506.34,197.26 L507.32,197.87 L508.29,198.47 L509.26,199.05 L510.24,199.62 L511.21,200.17 L512.18,200.73 L513.16,201.30 L514.13,201.86 L515.10,202.43 L516.08,203.00 L517.05,203.56 L518.02,204.11 L518.99,204.66 L519.97,205.20 L520.94,205.74 L521.91,206.25 L522.89,206.76 L523.86,207.24 L524.83,207.71 L525.81,208.16 L526.78,208.59 L527.75,208.99 L528.73,209.37 L529.70,209.72 L530.67,210.04 L531.65,210.33 L532.62,210.60 L533.59,210.87 L534.57,211.13 L535.54,211.39 L536.51,211.65 L537.49,211.90 L538.46,212.15 L539.43,212.39 L540.41,212.63 L541.38,212.87 L542.35,213.10 L543.33,213.33 L544.30,213.56 L545.27,213.78 L546.25,213.99 L547.22,214.21 L548.19,214.42 L549.17,214.62 L550.14,214.83 L551.11,215.03 L552.09,215.22 L553.06,215.41 L554.03,215.60 L555.01,215.79 L555.98,215.97 L556.95,216.15 L557.92,216.32 L558.90,216.50 L559.87,216.66 L560.84,216.83 L561.82,216.99 L562.79,217.15 L563.76,217.31 L564.74,217.46 L565.71,217.61 L566.68,217.75 L567.66,217.90 L568.63,218.04 L569.60,218.17 L570.58,218.31 L571.55,218.44 L572.52,218.57 L573.50,218.69 L574.47,218.81 L575.44,218.93 L576.42,219.05 L577.39,219.17 L578.36,219.28 L579.34,219.39 L580.31,219.49 L581.28,219.59 L582.26,219.70 L583.23,219.79 L584.20,219.89 L585.18,219.98 L586.15,220.07 L587.12,220.16 L588.10,220.25 L589.07,220.33 L590.04,220.42 L591.02,220.51 L591.99,220.59 L592.96,220.68 L593.93,220.76 L594.91,220.85 L595.88,220.93 L596.85,221.02 L597.83,221.10 L598.80,221.19 L599.77,221.27 L600.75,221.35 L601.72,221.43 L602.69,221.52 L603.67,221.60 L604.64,221.68 L605.61,221.76 L606.59,221.84 L607.56,221.92 L608.53,222.00 L609.51,222.08 L610.48,222.16 L611.45,222.23 L612.43,222.31 L613.40,222.39 L614.37,222.46 L615.35,222.54 L616.32,222.61 L617.29,222.69 L618.27,222.76 L619.24,222.84 L620.21,222.91 L621.19,222.98 L622.16,223.05 L623.13,223.12 L624.11,223.19 L625.08,223.26 L626.05,223.33 L627.03,223.39 L628.00,223.46 L628.97,223.53 L629.94,223.59 L630.92,223.66 L631.89,223.72 L632.86,223.78 L633.84,223.84 L634.81,223.90 L635.78,223.96 L636.76,224.02 L637.73,224.08 L638.70,224.14 L639.68,224.19 L640.65,224.25 L641.62,224.30 L642.60,224.35 L643.57,224.41 L644.54,224.46 L645.52,224.51 L646.49,224.56 L647.46,224.61 L648.44,224.65 L649.41,224.70 L650.38,224.74 L651.36,224.79 L652.33,224.83 L653.30,224.87 L654.28,224.91 L655.25,224.95 L656.22,224.99 L657.20,225.02 L658.17,225.06 L659.14,225.09 L660.12,225.13 L661.09,225.16 L662.06,225.19 L663.04,225.22 L664.01,225.25 L664.98,225.27 L665.95,225.30 L666.93,225.32 L667.90,225.34 L668.87,225.37 L669.85,225.39 L670.82,225.40 L671.79,225.42 L672.77,225.44 L673.74,225.45 L674.71,225.46 L675.69,225.48 L676.66,225.49 L677.63,225.49 L678.61,225.50 L679.58,225.51 L680.55,225.51 L681.53,225.51 L682.50,225.51 L682.50,226.85 L681.53,226.85 L680.55,226.85 L679.58,226.85 L678.61,226.85 L677.63,226.85 L676.66,226.85 L675.69,226.85 L674.71,226.85 L673.74,226.84 L672.77,226.84 L671.79,226.84 L670.82,226.84 L669.85,226.83 L668.87,226.83 L667.90,226.83 L666.93,226.83 L665.95,226.82 L664.98,226.82 L664.01,226.81 L663.04,226.81 L662.06,226.81 L661.09,226.80 L660.12,226.80 L659.14,226.79 L658.17,226.79 L657.20,226.78 L656.22,226.77 L655.25,226.77 L654.28,226.76 L653.30,226.76 L652.33,226.75 L651.36,226.74 L650.38,226.74 L649.41,226.73 L648.44,226.72 L647.46,226.72 L646.49,226.71 L645.52,226.70 L644.54,226.69 L643.57,226.69 L642.60,226.68 L641.62,226.67 L640.65,226.66 L639.68,226.65 L638.70,226.64 L637.73,226.63 L636.76,226.62 L635.78,226.62 L634.81,226.61 L633.84,226.60 L632.86,226.59 L631.89,226.58 L630.92,226.57 L629.94,226.56 L628.97,226.55 L628.00,226.53 L627.03,226.52 L626.05,226.51 L625.08,226.50 L624.11,226.49 L623.13,226.48 L622.16,226.47 L621.19,226.46 L620.21,226.44 L619.24,226.43 L618.27,226.42 L617.29,226.41 L616.32,226.39 L615.35,226.38 L614.37,226.37 L613.40,226.36 L612.43,226.34 L611.45,226.33 L610.48,226.32 L609.51,226.30 L608.53,226.29 L607.56,226.28 L606.59,226.26 L605.61,226.25 L604.64,226.23 L603.67,226.22 L602.69,226.21 L601.72,226.19 L600.75,226.18 L599.77,226.16 L598.80,226.15 L597.83,226.13 L596.85,226.12 L595.88,226.10 L594.91,226.09 L593.93,226.07 L592.96,226.06 L591.99,226.04 L591.02,226.03 L590.04,226.01 L589.07,225.99 L588.10,225.98 L587.12,225.96 L586.15,225.94 L585.18,225.93 L584.20,225.91 L583.23,225.89 L582.26,225.87 L581.28,225.85 L580.31,225.82 L579.34,225.80 L578.36,225.78 L577.39,225.75 L576.42,225.73 L575.44,225.70 L574.47,225.67 L573.50,225.64 L572.52,225.61 L571.55,225.58 L570.58,225.55 L569.60,225.51 L568.63,225.48 L567.66,225.44 L566.68,225.40 L565.71,225.37 L564.74,225.33 L563.76,225.29 L562.79,225.25 L561.82,225.20 L560.84,225.16 L559.87,225.12 L558.90,225.07 L557.92,225.02 L556.95,224.98 L555.98,224.93 L555.01,224.88 L554.03,224.83 L553.06,224.77 L552.09,224.72 L551.11,224.67 L550.14,224.61 L549.17,224.55 L548.19,224.49 L547.22,224.44 L546.25,224.37 L545.27,224.31 L544.30,224.25 L543.33,224.19 L542.35,224.12 L541.38,224.05 L540.41,223.99 L539.43,223.92 L538.46,223.85 L537.49,223.78 L536.51,223.70 L535.54,223.63 L534.57,223.55 L533.59,223.48 L532.62,223.40 L531.65,223.32 L530.67,223.24 L529.70,223.15 L528.73,223.04 L527.75,222.93 L526.78,222.81 L525.81,222.67 L524.83,222.53 L523.86,222.38 L522.89,222.22 L521.91,222.05 L520.94,221.88 L519.97,221.70 L518.99,221.51 L518.02,221.31 L517.05,221.11 L516.08,220.90 L515.10,220.68 L514.13,220.47 L513.16,220.24 L512.18,220.01 L511.21,219.78 L510.24,219.54 L509.26,219.30 L508.29,219.06 L507.32,218.82 L506.34,218.57 L505.37,218.32 L504.40,218.07 L503.42,217.82 L502.45,217.57 L501.48,217.32 L500.50,217.04 L499.53,216.76 L498.56,216.45 L497.58,216.14 L496.61,215.82 L495.64,215.48 L494.66,215.14 L493.69,214.79 L492.72,214.44 L491.74,214.08 L490.77,213.73 L489.80,213.37 L488.82,213.02 L487.85,212.67 L486.88,212.32 L485.90,211.97 L484.93,211.62 L483.96,211.26 L482.98,210.91 L482.01,210.55 L481.04,210.18 L480.07,209.80 L479.09,209.42 L478.12,209.03 L477.15,208.63 L476.17,208.21 L475.20,207.78 L474.23,207.34 L473.25,206.89 L472.28,206.42 L471.31,205.93 L470.33,205.43 L469.36,204.91 L468.39,204.38 L467.41,203.83 L466.44,203.27 L465.47,202.69 L464.49,202.10 L463.52,201.49 L462.55,200.87 L461.57,200.24 L460.60,199.58 L459.63,198.92 L458.65,198.24 L457.68,197.54 L456.71,196.83 L455.73,196.11 L454.76,195.37 L453.79,194.57 L452.81,193.73 L451.84,192.85 L450.87,191.92 L449.89,190.98 L448.92,190.01 L447.95,189.04 L446.97,188.07 L446.00,187.11 L445.03,186.17 L444.06,185.24 L443.08,184.26 L442.11,183.26 L441.14,182.24 L440.16,181.22 L439.19,180.23 L438.22,179.27 L437.24,178.37 L436.27,177.55 L435.30,176.81 L434.32,176.16 L433.35,175.50 L432.38,174.85 L431.40,174.23 L430.43,173.70 L429.46,173.29 L428.48,173.05 L427.51,173.00 L426.54,173.07 L425.56,173.21 L424.59,173.42 L423.62,173.67 L422.64,173.97 L421.67,174.30 L420.70,174.64 L419.72,174.99 L418.75,175.33 L417.78,175.66 L416.80,176.00 L415.83,176.41 L414.86,176.95 L413.88,177.77 L412.91,178.94 L411.94,180.37 L410.96,182.00 L409.99,184.10 L409.02,186.78 L408.05,189.83 L407.07,193.07 L406.10,196.30 L405.13,199.34 L404.15,202.27 L403.18,205.36 L402.21,208.50 L401.23,211.53 L400.26,214.32 L399.29,216.75 L398.31,218.67 L397.34,220.36 L396.37,221.95 L395.39,223.42 L394.42,224.73 L393.45,225.84 L392.47,226.70 L391.50,227.30Z" fill="#00B2EE" fill-opacity="0.1"/>
<path d="M391.50,227.30 L392.08,227.29 L392.67,227.20 L393.25,226.93 L393.83,226.41 L394.42,225.57 L395.00,224.38 L395.58,222.83 L396.17,220.89 L396.75,218.59 L397.33,215.94 L397.91,212.96 L398.50,209.69 L399.08,206.16 L399.66,202.41 L400.25,198.49 L400.83,194.42 L401.41,190.25 L402.00,186.02 L402.58,181.75 L403.16,177.50 L403.75,173.31 L404.33,169.19 L404.91,165.16 L405.50,161.24 L406.08,157.46 L406.66,153.83 L407.25,150.35 L407.83,147.05 L408.41,143.92 L408.99,140.97 L409.58,138.21 L410.16,135.63 L410.74,133.24 L411.33,131.03 L411.91,128.99 L412.49,127.12 L413.08,125.42 L413.66,123.89 L414.24,122.50 L414.83,121.27 L415.41,120.18 L415.99,119.23 L416.58,118.40 L417.16,117.71 L417.74,117.13 L418.33,116.66 L418.91,116.30 L419.49,116.05 L420.08,115.89 L420.66,115.83 L421.24,115.85 L421.82,115.95 L422.41,116.13 L422.99,116.38 L423.57,116.70 L424.16,117.08 L424.74,117.51 L425.32,117.98 L425.91,118.50 L426.49,119.06 L427.07,119.65 L427.66,120.26 L428.24,120.91 L428.82,121.58 L429.41,122.27 L429.99,122.98 L430.57,123.71 L431.16,124.47 L431.74,125.24 L432.32,126.03 L432.90,126.85 L433.49,127.68 L434.07,128.53 L434.65,129.40 L435.24,130.29 L435.82,131.19 L436.40,132.11 L436.99,133.04 L437.57,133.98 L438.15,134.93 L438.74,135.89 L439.32,136.86 L439.90,137.83 L440.49,138.81 L441.07,139.79 L441.65,140.77 L442.24,141.75 L442.82,142.72 L443.40,143.69 L443.98,144.66 L444.57,145.62 L445.15,146.58 L445.73,147.53 L446.32,148.47 L446.90,149.40 L447.48,150.32 L448.07,151.24 L448.65,152.14 L449.23,153.04 L449.82,153.92 L450.40,154.80 L450.98,155.67 L451.57,156.52 L452.15,157.37 L452.73,158.21 L453.32,159.03 L453.90,159.85 L454.48,160.66 L455.07,161.46 L455.65,162.25 L456.23,163.03 L456.81,163.81 L457.40,164.57 L457.98,165.33 L458.56,166.07 L459.15,166.81 L459.73,167.54 L460.31,168.26 L460.90,168.98 L461.48,169.68 L462.06,170.38 L462.65,171.07 L463.23,171.75 L463.81,172.43 L464.40,173.09 L464.98,173.75 L465.56,174.41 L466.15,175.05 L466.73,175.69 L467.31,176.32 L467.89,176.94 L468.48,177.56 L469.06,178.17 L469.64,178.77 L470.23,179.36 L470.81,179.95 L471.39,180.53 L471.98,181.10 L472.56,181.67 L473.14,182.23 L473.73,182.78 L474.31,183.33 L474.89,183.86 L475.48,184.40 L476.06,184.92 L476.64,185.44 L477.23,185.95 L477.81,186.46 L478.39,186.95 L478.97,187.45 L479.56,187.93 L480.14,188.41 L480.72,188.88 L481.31,189.35 L481.89,189.81 L482.47,190.26 L483.06,190.71 L483.64,191.15 L484.22,191.59 L484.81,192.02 L485.39,192.44 L485.97,192.86 L486.56,193.27 L487.14,193.68 L487.72,194.08 L488.31,194.47 L488.89,194.87 L489.47,195.25 L490.06,195.63 L490.64,196.01 L491.22,196.38 L491.80,196.74 L492.39,197.10 L492.97,197.46 L493.55,197.81 L494.14,198.16 L494.72,198.50 L495.30,198.84 L495.89,199.17 L496.47,199.50 L497.05,199.82 L497.64,200.14 L498.22,200.46 L498.80,200.77 L499.39,201.08 L499.97,201.39 L500.55,201.69 L501.14,201.98 L501.72,202.28 L502.30,202.57 L502.88,202.85 L503.47,203.13 L504.05,203.41 L504.63,203.69 L505.22,203.96 L505.80,204.23 L506.38,204.49 L506.97,204.76 L507.55,205.01 L508.13,205.27 L508.72,205.52 L509.30,205.77 L509.88,206.02 L510.47,206.26 L511.05,206.50 L511.63,206.74 L512.22,206.97 L512.80,207.21 L513.38,207.43 L513.96,207.66 L514.55,207.88 L515.13,208.10 L515.71,208.32 L516.30,208.54 L516.88,208.75 L517.46,208.96 L518.05,209.17 L518.63,209.37 L519.21,209.57 L519.80,209.77 L520.38,209.97 L520.96,210.17 L521.55,210.36 L522.13,210.55 L522.71,210.74 L523.30,210.92 L523.88,211.11 L524.46,211.29 L525.05,211.46 L525.63,211.64 L526.21,211.82 L526.79,211.99 L527.38,212.16 L527.96,212.33 L528.54,212.49 L529.13,212.66 L529.71,212.82 L530.29,212.98 L530.88,213.13 L531.46,213.29 L532.04,213.44 L532.63,213.60 L533.21,213.75 L533.79,213.89 L534.38,214.04 L534.96,214.18 L535.54,214.33 L536.13,214.47 L536.71,214.61 L537.29,214.74 L537.87,214.88 L538.46,215.01 L539.04,215.15 L539.62,215.28 L540.21,215.40 L540.79,215.53 L541.37,215.66 L541.96,215.78 L542.54,215.90 L543.12,216.02 L543.71,216.14 L544.29,216.26 L544.87,216.38 L545.46,216.49 L546.04,216.61 L546.62,216.72 L547.21,216.83 L547.79,216.94 L548.37,217.04 L548.95,217.15 L549.54,217.26 L550.12,217.36 L550.70,217.46 L551.29,217.56 L551.87,217.66 L552.45,217.76 L553.04,217.86 L553.62,217.95 L554.20,218.05 L554.79,218.14 L555.37,218.23 L555.95,218.33 L556.54,218.42 L557.12,218.51 L557.70,218.59 L558.29,218.68 L558.87,218.77 L559.45,218.85 L560.04,218.93 L560.62,219.02 L561.20,219.10 L561.78,219.18 L562.37,219.26 L562.95,219.34 L563.53,219.41 L564.12,219.49 L564.70,219.57 L565.28,219.64 L565.87,219.71 L566.45,219.79 L567.03,219.86 L567.62,219.93 L568.20,220.00 L568.78,220.07 L569.37,220.14 L569.95,220.21 L570.53,220.27 L571.12,220.34 L571.70,220.40 L572.28,220.47 L572.86,220.53 L573.45,220.60 L574.03,220.66 L574.61,220.72 L575.20,220.78 L575.78,220.84 L576.36,220.90 L576.95,220.96 L577.53,221.02 L578.11,221.07 L578.70,221.13 L579.28,221.19 L579.86,221.24 L580.45,221.30 L581.03,221.35 L581.61,221.40 L582.20,221.46 L582.78,221.51 L583.36,221.56 L583.94,221.61 L584.53,221.66 L585.11,221.71 L585.69,221.76 L586.28,221.81 L586.86,221.85 L587.44,221.90 L588.03,221.95 L588.61,221.99 L589.19,222.04 L589.78,222.09 L590.36,222.13 L590.94,222.17 L591.53,222.22 L592.11,222.26 L592.69,222.30 L593.28,222.35 L593.86,222.39 L594.44,222.43 L595.03,222.47 L595.61,222.51 L596.19,222.55 L596.77,222.59 L597.36,222.63 L597.94,222.67 L598.52,222.70 L599.11,222.74 L599.69,222.78 L600.27,222.81 L600.86,222.85 L601.44,222.89 L602.02,222.92 L602.61,222.96 L603.19,222.99 L603.77,223.03 L604.36,223.06 L604.94,223.09 L605.52,223.13 L606.11,223.16 L606.69,223.19 L607.27,223.22 L607.85,223.26 L608.44,223.29 L609.02,223.32 L609.60,223.35 L610.19,223.38 L610.77,223.41 L611.35,223.44 L611.94,223.47 L612.52,223.50 L613.10,223.53 L613.69,223.55 L614.27,223.58 L614.85,223.61 L615.44,223.64 L616.02,223.66 L616.60,223.69 L617.19,223.72 L617.77,223.74 L618.35,223.77 L618.93,223.79 L619.52,223.82 L620.10,223.85 L620.68,223.87 L621.27,223.89 L621.85,223.92 L622.43,223.94 L623.02,223.97 L623.60,223.99 L624.18,224.01 L624.77,224.04 L625.35,224.06 L625.93,224.08 L626.52,224.10 L627.10,224.13 L627.68,224.15 L628.27,224.17 L628.85,224.19 L629.43,224.21 L630.02,224.23 L630.60,224.25 L631.18,224.27 L631.76,224.29 L632.35,224.31 L632.93,224.33 L633.51,224.35 L634.10,224.37 L634.68,224.39 L635.26,224.41 L635.85,224.43 L636.43,224.45 L637.01,224.47 L637.60,224.48 L638.18,224.50 L638.76,224.52 L639.35,224.54 L639.93,224.55 L640.51,224.57 L641.10,224.59 L641.68,224.61 L642.26,224.62 L642.84,224.64 L643.43,224.66 L644.01,224.67 L644.59,224.69 L645.18,224.70 L645.76,224.72 L646.34,224.73 L646.93,224.75 L647.51,224.76 L648.09,224.78 L648.68,224.79 L649.26,224.81 L649.84,224.82 L650.43,224.84 L651.01,224.85 L651.59,224.87 L652.18,224.88 L652.76,224.89 L653.34,224.91 L653.92,224.92 L654.51,224.93 L655.09,224.95 L655.67,224.96 L656.26,224.97 L656.84,224.99 L657.42,225.00 L658.01,225.01 L658.59,225.02 L659.17,225.04 L659.76,225.05 L660.34,225.06 L660.92,225.07 L661.51,225.08 L662.09,225.10 L662.67,225.11 L663.26,225.12 L663.84,225.13 L664.42,225.14 L665.01,225.15 L665.59,225.16 L666.17,225.17 L666.75,225.18 L667.34,225.19 L667.92,225.21 L668.50,225.22 L669.09,225.23 L669.67,225.24 L670.25,225.25 L670.84,225.26 L671.42,225.27 L672.00,225.28 L672.59,225.29 L673.17,225.30 L673.75,225.30 L674.34,225.31 L674.92,225.32 L675.50,225.33 L676.09,225.34 L676.67,225.35 L677.25,225.36 L677.83,225.37 L678.42,225.38 L679.00,225.39 L679.58,225.39 L680.17,225.40 L680.75,225.41 L681.33,225.42 L681.92,225.43 L682.50,225.44" fill="none" stroke="#0000CD" stroke-width="1.8" stroke-linejoin="round"/>
<path d="M391.50,227.30 L392.08,227.29 L392.67,227.22 L393.25,227.00 L393.83,226.55 L394.42,225.81 L395.00,224.73 L395.58,223.29 L396.17,221.47 L396.75,219.28 L397.33,216.74 L397.91,213.87 L398.50,210.71 L399.08,207.31 L399.66,203.69 L400.25,199.90 L400.83,195.98 L401.41,191.99 L402.00,187.95 L402.58,183.90 L403.16,179.88 L403.75,175.95 L404.33,172.10 L404.91,168.37 L405.50,164.78 L406.08,161.33 L406.66,158.06 L407.25,154.96 L407.83,152.05 L408.41,149.33 L408.99,146.79 L409.58,144.44 L410.16,142.28 L410.74,140.29 L411.33,138.48 L411.91,136.83 L412.49,135.34 L413.08,134.00 L413.66,132.80 L414.24,131.74 L414.83,130.81 L415.41,130.00 L415.99,129.31 L416.58,128.74 L417.16,128.28 L417.74,127.94 L418.33,127.69 L418.91,127.56 L419.49,127.52 L420.08,127.58 L420.66,127.74 L421.24,128.01 L421.82,128.37 L422.41,128.79 L422.99,129.29 L423.57,129.84 L424.16,130.45 L424.74,131.10 L425.32,131.79 L425.91,132.51 L426.49,133.26 L427.07,134.04 L427.66,134.84 L428.24,135.66 L428.82,136.49 L429.41,137.33 L429.99,138.19 L430.57,139.05 L431.16,139.91 L431.74,140.78 L432.32,141.64 L432.90,142.51 L433.49,143.37 L434.07,144.23 L434.65,145.09 L435.24,145.93 L435.82,146.78 L436.40,147.62 L436.99,148.45 L437.57,149.28 L438.15,150.10 L438.74,150.92 L439.32,151.73 L439.90,152.54 L440.49,153.34 L441.07,154.14 L441.65,154.94 L442.24,155.73 L442.82,156.51 L443.40,157.30 L443.98,158.08 L444.57,158.85 L445.15,159.62 L445.73,160.38 L446.32,161.14 L446.90,161.89 L447.48,162.64 L448.07,163.38 L448.65,164.12 L449.23,164.85 L449.82,165.58 L450.40,166.30 L450.98,167.01 L451.57,167.72 L452.15,168.42 L452.73,169.11 L453.32,169.80 L453.90,170.49 L454.48,171.16 L455.07,171.83 L455.65,172.49 L456.23,173.15 L456.81,173.79 L457.40,174.44 L457.98,175.07 L458.56,175.70 L459.15,176.32 L459.73,176.93 L460.31,177.54 L460.90,178.14 L461.48,178.73 L462.06,179.31 L462.65,179.89 L463.23,180.46 L463.81,181.03 L464.40,181.58 L464.98,182.13 L465.56,182.68 L466.15,183.22 L466.73,183.75 L467.31,184.27 L467.89,184.79 L468.48,185.30 L469.06,185.80 L469.64,186.30 L470.23,186.80 L470.81,187.28 L471.39,187.76 L471.98,188.24 L472.56,188.70 L473.14,189.17 L473.73,189.62 L474.31,190.08 L474.89,190.52 L475.48,190.96 L476.06,191.39 L476.64,191.82 L477.23,192.25 L477.81,192.67 L478.39,193.08 L478.97,193.49 L479.56,193.89 L480.14,194.29 L480.72,194.68 L481.31,195.07 L481.89,195.45 L482.47,195.83 L483.06,196.20 L483.64,196.57 L484.22,196.94 L484.81,197.30 L485.39,197.65 L485.97,198.01 L486.56,198.35 L487.14,198.70 L487.72,199.03 L488.31,199.37 L488.89,199.70 L489.47,200.03 L490.06,200.35 L490.64,200.67 L491.22,200.98 L491.80,201.29 L492.39,201.60 L492.97,201.90 L493.55,202.20 L494.14,202.50 L494.72,202.79 L495.30,203.08 L495.89,203.37 L496.47,203.65 L497.05,203.93 L497.64,204.21 L498.22,204.48 L498.80,204.75 L499.39,205.02 L499.97,205.28 L500.55,205.54 L501.14,205.80 L501.72,206.05 L502.30,206.30 L502.88,206.55 L503.47,206.79 L504.05,207.03 L504.63,207.27 L505.22,207.51 L505.80,207.74 L506.38,207.97 L506.97,208.20 L507.55,208.42 L508.13,208.65 L508.72,208.87 L509.30,209.08 L509.88,209.30 L510.47,209.51 L511.05,209.72 L511.63,209.92 L512.22,210.13 L512.80,210.33 L513.38,210.53 L513.96,210.72 L514.55,210.92 L515.13,211.11 L515.71,211.30 L516.30,211.48 L516.88,211.67 L517.46,211.85 L518.05,212.03 L518.63,212.21 L519.21,212.38 L519.80,212.56 L520.38,212.73 L520.96,212.90 L521.55,213.07 L522.13,213.23 L522.71,213.39 L523.30,213.55 L523.88,213.71 L524.46,213.87 L525.05,214.02 L525.63,214.18 L526.21,214.33 L526.79,214.48 L527.38,214.62 L527.96,214.77 L528.54,214.91 L529.13,215.05 L529.71,215.19 L530.29,215.33 L530.88,215.46 L531.46,215.60 L532.04,215.73 L532.63,215.86 L533.21,215.99 L533.79,216.12 L534.38,216.24 L534.96,216.36 L535.54,216.49 L536.13,216.61 L536.71,216.73 L537.29,216.84 L537.87,216.96 L538.46,217.07 L539.04,217.18 L539.62,217.29 L540.21,217.40 L540.79,217.51 L541.37,217.62 L541.96,217.72 L542.54,217.83 L543.12,217.93 L543.71,218.03 L544.29,218.13 L544.87,218.22 L545.46,218.32 L546.04,218.42 L546.62,218.51 L547.21,218.60 L547.79,218.69 L548.37,218.78 L548.95,218.87 L549.54,218.96 L550.12,219.04 L550.70,219.13 L551.29,219.21 L551.87,219.29 L552.45,219.38 L553.04,219.46 L553.62,219.54 L554.20,219.61 L554.79,219.69 L555.37,219.77 L555.95,219.84 L556.54,219.91 L557.12,219.99 L557.70,220.06 L558.29,220.13 L558.87,220.20 L559.45,220.27 L560.04,220.34 L560.62,220.40 L561.20,220.47 L561.78,220.54 L562.37,220.60 L562.95,220.66 L563.53,220.73 L564.12,220.79 L564.70,220.85 L565.28,220.91 L565.87,220.97 L566.45,221.03 L567.03,221.09 L567.62,221.14 L568.20,221.20 L568.78,221.26 L569.37,221.31 L569.95,221.37 L570.53,221.42 L571.12,221.47 L571.70,221.53 L572.28,221.58 L572.86,221.63 L573.45,221.68 L574.03,221.73 L574.61,221.78 L575.20,221.83 L575.78,221.88 L576.36,221.92 L576.95,221.97 L577.53,222.02 L578.11,222.06 L578.70,222.11 L579.28,222.15 L579.86,222.20 L580.45,222.24 L581.03,222.29 L581.61,222.33 L582.20,222.37 L582.78,222.41 L583.36,222.45 L583.94,222.50 L584.53,222.54 L585.11,222.58 L585.69,222.62 L586.28,222.65 L586.86,222.69 L587.44,222.73 L588.03,222.77 L588.61,222.81 L589.19,222.84 L589.78,222.88 L590.36,222.92 L590.94,222.95 L591.53,222.99 L592.11,223.02 L592.69,223.06 L593.28,223.09 L593.86,223.13 L594.44,223.16 L595.03,223.19 L595.61,223.22 L596.19,223.26 L596.77,223.29 L597.36,223.32 L597.94,223.35 L598.52,223.38 L599.11,223.41 L599.69,223.44 L600.27,223.47 L600.86,223.50 L601.44,223.53 L602.02,223.56 L602.61,223.59 L603.19,223.62 L603.77,223.65 L604.36,223.68 L604.94,223.70 L605.52,223.73 L606.11,223.76 L606.69,223.78 L607.27,223.81 L607.85,223.84 L608.44,223.86 L609.02,223.89 L609.60,223.91 L610.19,223.94 L610.77,223.96 L611.35,223.99 L611.94,224.01 L612.52,224.04 L613.10,224.06 L613.69,224.08 L614.27,224.11 L614.85,224.13 L615.44,224.15 L616.02,224.18 L616.60,224.20 L617.19,224.22 L617.77,224.24 L618.35,224.27 L618.93,224.29 L619.52,224.31 L620.10,224.33 L620.68,224.35 L621.27,224.37 L621.85,224.39 L622.43,224.41 L623.02,224.43 L623.60,224.45 L624.18,224.47 L624.77,224.49 L625.35,224.51 L625.93,224.53 L626.52,224.55 L627.10,224.57 L627.68,224.59 L628.27,224.61 L628.85,224.62 L629.43,224.64 L630.02,224.66 L630.60,224.68 L631.18,224.70 L631.76,224.71 L632.35,224.73 L632.93,224.75 L633.51,224.76 L634.10,224.78 L634.68,224.80 L635.26,224.81 L635.85,224.83 L636.43,224.85 L637.01,224.86 L637.60,224.88 L638.18,224.89 L638.76,224.91 L639.35,224.92 L639.93,224.94 L640.51,224.95 L641.10,224.97 L641.68,224.98 L642.26,225.00 L642.84,225.01 L643.43,225.03 L644.01,225.04 L644.59,225.05 L645.18,225.07 L645.76,225.08 L646.34,225.10 L646.93,225.11 L647.51,225.12 L648.09,225.14 L648.68,225.15 L649.26,225.16 L649.84,225.17 L650.43,225.19 L651.01,225.20 L651.59,225.21 L652.18,225.22 L652.76,225.24 L653.34,225.25 L653.92,225.26 L654.51,225.27 L655.09,225.28 L655.67,225.30 L656.26,225.31 L656.84,225.32 L657.42,225.33 L658.01,225.34 L658.59,225.35 L659.17,225.36 L659.76,225.37 L660.34,225.38 L660.92,225.39 L661.51,225.41 L662.09,225.42 L662.67,225.43 L663.26,225.44 L663.84,225.45 L664.42,225.46 L665.01,225.47 L665.59,225.48 L666.17,225.49 L666.75,225.49 L667.34,225.50 L667.92,225.51 L668.50,225.52 L669.09,225.53 L669.67,225.54 L670.25,225.55 L670.84,225.56 L671.42,225.57 L672.00,225.58 L672.59,225.59 L673.17,225.59 L673.75,225.60 L674.34,225.61 L674.92,225.62 L675.50,225.63 L676.09,225.64 L676.67,225.64 L677.25,225.65 L677.83,225.66 L678.42,225.67 L679.00,225.68 L679.58,225.68 L680.17,225.69 L680.75,225.70 L681.33,225.71 L681.92,225.71 L682.50,225.72" fill="none" stroke="#1874CD" stroke-width="1.5" stroke-linejoin="round"/>
<path d="M391.50,227.30 L392.08,227.29 L392.67,227.21 L393.25,226.96 L393.83,226.48 L394.42,225.69 L395.00,224.58 L395.58,223.11 L396.17,221.29 L396.75,219.13 L397.33,216.63 L397.91,213.85 L398.50,210.80 L399.08,207.53 L399.66,204.07 L400.25,200.47 L400.83,196.76 L401.41,192.98 L402.00,189.17 L402.58,185.37 L403.16,181.61 L403.75,177.94 L404.33,174.36 L404.91,170.89 L405.50,167.56 L406.08,164.38 L406.66,161.36 L407.25,158.51 L407.83,155.83 L408.41,153.33 L408.99,151.02 L409.58,148.88 L410.16,146.91 L410.74,145.10 L411.33,143.46 L411.91,141.97 L412.49,140.62 L413.08,139.40 L413.66,138.31 L414.24,137.35 L414.83,136.49 L415.41,135.75 L415.99,135.12 L416.58,134.58 L417.16,134.15 L417.74,133.82 L418.33,133.57 L418.91,133.43 L419.49,133.36 L420.08,133.39 L420.66,133.50 L421.24,133.71 L421.82,133.99 L422.41,134.34 L422.99,134.75 L423.57,135.22 L424.16,135.74 L424.74,136.30 L425.32,136.91 L425.91,137.55 L426.49,138.23 L427.07,138.94 L427.66,139.67 L428.24,140.42 L428.82,141.19 L429.41,141.98 L429.99,142.78 L430.57,143.59 L431.16,144.41 L431.74,145.24 L432.32,146.07 L432.90,146.91 L433.49,147.74 L434.07,148.58 L434.65,149.42 L435.24,150.25 L435.82,151.09 L436.40,151.92 L436.99,152.75 L437.57,153.58 L438.15,154.40 L438.74,155.22 L439.32,156.04 L439.90,156.85 L440.49,157.66 L441.07,158.47 L441.65,159.27 L442.24,160.07 L442.82,160.86 L443.40,161.65 L443.98,162.43 L444.57,163.21 L445.15,163.99 L445.73,164.76 L446.32,165.52 L446.90,166.28 L447.48,167.04 L448.07,167.79 L448.65,168.54 L449.23,169.28 L449.82,170.01 L450.40,170.74 L450.98,171.46 L451.57,172.18 L452.15,172.89 L452.73,173.59 L453.32,174.29 L453.90,174.98 L454.48,175.66 L455.07,176.34 L455.65,177.00 L456.23,177.66 L456.81,178.31 L457.40,178.96 L457.98,179.59 L458.56,180.21 L459.15,180.83 L459.73,181.44 L460.31,182.04 L460.90,182.63 L461.48,183.21 L462.06,183.79 L462.65,184.35 L463.23,184.91 L463.81,185.46 L464.40,186.00 L464.98,186.53 L465.56,187.05 L466.15,187.56 L466.73,188.07 L467.31,188.57 L467.89,189.06 L468.48,189.54 L469.06,190.01 L469.64,190.48 L470.23,190.94 L470.81,191.39 L471.39,191.83 L471.98,192.27 L472.56,192.70 L473.14,193.12 L473.73,193.53 L474.31,193.94 L474.89,194.35 L475.48,194.74 L476.06,195.13 L476.64,195.52 L477.23,195.90 L477.81,196.27 L478.39,196.64 L478.97,197.00 L479.56,197.36 L480.14,197.71 L480.72,198.06 L481.31,198.40 L481.89,198.74 L482.47,199.07 L483.06,199.40 L483.64,199.72 L484.22,200.04 L484.81,200.36 L485.39,200.67 L485.97,200.98 L486.56,201.29 L487.14,201.59 L487.72,201.88 L488.31,202.18 L488.89,202.47 L489.47,202.75 L490.06,203.04 L490.64,203.32 L491.22,203.59 L491.80,203.87 L492.39,204.14 L492.97,204.41 L493.55,204.67 L494.14,204.93 L494.72,205.19 L495.30,205.44 L495.89,205.69 L496.47,205.94 L497.05,206.19 L497.64,206.43 L498.22,206.67 L498.80,206.91 L499.39,207.14 L499.97,207.38 L500.55,207.61 L501.14,207.83 L501.72,208.06 L502.30,208.28 L502.88,208.50 L503.47,208.71 L504.05,208.93 L504.63,209.14 L505.22,209.35 L505.80,209.55 L506.38,209.76 L506.97,209.96 L507.55,210.16 L508.13,210.35 L508.72,210.55 L509.30,210.74 L509.88,210.93 L510.47,211.12 L511.05,211.30 L511.63,211.48 L512.22,211.66 L512.80,211.84 L513.38,212.02 L513.96,212.19 L514.55,212.37 L515.13,212.54 L515.71,212.70 L516.30,212.87 L516.88,213.03 L517.46,213.19 L518.05,213.35 L518.63,213.51 L519.21,213.67 L519.80,213.82 L520.38,213.97 L520.96,214.12 L521.55,214.27 L522.13,214.42 L522.71,214.56 L523.30,214.70 L523.88,214.85 L524.46,214.98 L525.05,215.12 L525.63,215.26 L526.21,215.39 L526.79,215.52 L527.38,215.65 L527.96,215.78 L528.54,215.91 L529.13,216.04 L529.71,216.16 L530.29,216.28 L530.88,216.40 L531.46,216.52 L532.04,216.64 L532.63,216.76 L533.21,216.87 L533.79,216.99 L534.38,217.10 L534.96,217.21 L535.54,217.32 L536.13,217.42 L536.71,217.53 L537.29,217.64 L537.87,217.74 L538.46,217.84 L539.04,217.94 L539.62,218.04 L540.21,218.14 L540.79,218.24 L541.37,218.33 L541.96,218.43 L542.54,218.52 L543.12,218.61 L543.71,218.70 L544.29,218.79 L544.87,218.88 L545.46,218.97 L546.04,219.05 L546.62,219.14 L547.21,219.22 L547.79,219.30 L548.37,219.38 L548.95,219.46 L549.54,219.54 L550.12,219.62 L550.70,219.70 L551.29,219.78 L551.87,219.85 L552.45,219.92 L553.04,220.00 L553.62,220.07 L554.20,220.14 L554.79,220.21 L555.37,220.28 L555.95,220.35 L556.54,220.42 L557.12,220.48 L557.70,220.55 L558.29,220.61 L558.87,220.68 L559.45,220.74 L560.04,220.80 L560.62,220.86 L561.20,220.92 L561.78,220.98 L562.37,221.04 L562.95,221.10 L563.53,221.16 L564.12,221.22 L564.70,221.27 L565.28,221.33 L565.87,221.38 L566.45,221.44 L567.03,221.49 L567.62,221.54 L568.20,221.59 L568.78,221.64 L569.37,221.70 L569.95,221.75 L570.53,221.79 L571.12,221.84 L571.70,221.89 L572.28,221.94 L572.86,221.99 L573.45,222.03 L574.03,222.08 L574.61,222.12 L575.20,222.17 L575.78,222.21 L576.36,222.26 L576.95,222.30 L577.53,222.34 L578.11,222.38 L578.70,222.43 L579.28,222.47 L579.86,222.51 L580.45,222.55 L581.03,222.59 L581.61,222.63 L582.20,222.67 L582.78,222.70 L583.36,222.74 L583.94,222.78 L584.53,222.82 L585.11,222.85 L585.69,222.89 L586.28,222.93 L586.86,222.96 L587.44,223.00 L588.03,223.03 L588.61,223.06 L589.19,223.10 L589.78,223.13 L590.36,223.17 L590.94,223.20 L591.53,223.23 L592.11,223.26 L592.69,223.29 L593.28,223.33 L593.86,223.36 L594.44,223.39 L595.03,223.42 L595.61,223.45 L596.19,223.48 L596.77,223.51 L597.36,223.54 L597.94,223.57 L598.52,223.59 L599.11,223.62 L599.69,223.65 L600.27,223.68 L600.86,223.71 L601.44,223.73 L602.02,223.76 L602.61,223.79 L603.19,223.81 L603.77,223.84 L604.36,223.86 L604.94,223.89 L605.52,223.91 L606.11,223.94 L606.69,223.96 L607.27,223.99 L607.85,224.01 L608.44,224.04 L609.02,224.06 L609.60,224.08 L610.19,224.11 L610.77,224.13 L611.35,224.15 L611.94,224.18 L612.52,224.20 L613.10,224.22 L613.69,224.24 L614.27,224.27 L614.85,224.29 L615.44,224.31 L616.02,224.33 L616.60,224.35 L617.19,224.37 L617.77,224.39 L618.35,224.41 L618.93,224.43 L619.52,224.45 L620.10,224.47 L620.68,224.49 L621.27,224.51 L621.85,224.53 L622.43,224.55 L623.02,224.57 L623.60,224.59 L624.18,224.61 L624.77,224.63 L625.35,224.64 L625.93,224.66 L626.52,224.68 L627.10,224.70 L627.68,224.72 L628.27,224.73 L628.85,224.75 L629.43,224.77 L630.02,224.78 L630.60,224.80 L631.18,224.82 L631.76,224.83 L632.35,224.85 L632.93,224.87 L633.51,224.88 L634.10,224.90 L634.68,224.92 L635.26,224.93 L635.85,224.95 L636.43,224.96 L637.01,224.98 L637.60,224.99 L638.18,225.01 L638.76,225.02 L639.35,225.04 L639.93,225.05 L640.51,225.07 L641.10,225.08 L641.68,225.10 L642.26,225.11 L642.84,225.12 L643.43,225.14 L644.01,225.15 L644.59,225.16 L645.18,225.18 L645.76,225.19 L646.34,225.21 L646.93,225.22 L647.51,225.23 L648.09,225.24 L648.68,225.26 L649.26,225.27 L649.84,225.28 L650.43,225.30 L651.01,225.31 L651.59,225.32 L652.18,225.33 L652.76,225.34 L653.34,225.36 L653.92,225.37 L654.51,225.38 L655.09,225.39 L655.67,225.40 L656.26,225.42 L656.84,225.43 L657.42,225.44 L658.01,225.45 L658.59,225.46 L659.17,225.47 L659.76,225.48 L660.34,225.49 L660.92,225.50 L661.51,225.51 L662.09,225.53 L662.67,225.54 L663.26,225.55 L663.84,225.56 L664.42,225.57 L665.01,225.58 L665.59,225.59 L666.17,225.60 L666.75,225.61 L667.34,225.62 L667.92,225.63 L668.50,225.64 L669.09,225.65 L669.67,225.66 L670.25,225.67 L670.84,225.67 L671.42,225.68 L672.00,225.69 L672.59,225.70 L673.17,225.71 L673.75,225.72 L674.34,225.73 L674.92,225.74 L675.50,225.75 L676.09,225.76 L676.67,225.76 L677.25,225.77 L677.83,225.78 L678.42,225.79 L679.00,225.80 L679.58,225.81 L680.17,225.82 L680.75,225.82 L681.33,225.83 L681.92,225.84 L682.50,225.85" fill="none" stroke="#00B2EE" stroke-width="1.5" stroke-linejoin="round"/>
<path d="M399.30,174.42 V108.60 M397.30,174.42 H401.30 M397.30,108.60 H401.30" stroke="#3434dc" stroke-width="1.1" fill="none"/>
<path d="M403.14,160.13 V98.68 M401.14,160.13 H405.14 M401.14,98.68 H405.14" stroke="#3434dc" stroke-width="1.1" fill="none"/>
<path d="M408.96,148.43 V99.31 M406.96,148.43 H410.96 M406.96,99.31 H410.96" stroke="#3434dc" stroke-width="1.1" fill="none"/>
<path d="M414.78,146.91 V94.84 M412.78,146.91 H416.78 M412.78,94.84 H416.78" stroke="#3434dc" stroke-width="1.1" fill="none"/>
<path d="M420.60,149.24 V76.53 M418.60,149.24 H422.60 M418.60,76.53 H422.60" stroke="#3434dc" stroke-width="1.1" fill="none"/>
<path d="M426.42,147.63 V96.00 M424.42,147.63 H428.42 M424.42,96.00 H428.42" stroke="#3434dc" stroke-width="1.1" fill="none"/>
<path d="M438.06,157.10 V101.63 M436.06,157.10 H440.06 M436.06,101.63 H440.06" stroke="#3434dc" stroke-width="1.1" fill="none"/>
<path d="M449.70,175.94 V137.98 M447.70,175.94 H451.70 M447.70,137.98 H451.70" stroke="#3434dc" stroke-width="1.1" fill="none"/>
<path d="M461.34,191.04 V164.06 M459.34,191.04 H463.34 M459.34,164.06 H463.34" stroke="#3434dc" stroke-width="1.1" fill="none"/>
<path d="M484.62,209.26 V183.27 M482.62,209.26 H486.62 M482.62,183.27 H486.62" stroke="#3434dc" stroke-width="1.1" fill="none"/>
<circle cx="399.30" cy="141.55" r="3.5" fill="#0000CD"/>
<circle cx="403.14" cy="128.60" r="3.5" fill="#0000CD"/>
<circle cx="408.96" cy="123.87" r="3.5" fill="#0000CD"/>
<circle cx="414.78" cy="120.83" r="3.5" fill="#0000CD"/>
<circle cx="420.60" cy="113.24" r="3.5" fill="#0000CD"/>
<circle cx="426.42" cy="120.30" r="3.5" fill="#0000CD"/>
<circle cx="438.06" cy="129.68" r="3.5" fill="#0000CD"/>
<circle cx="449.70" cy="157.90" r="3.5" fill="#0000CD"/>
<circle cx="461.34" cy="175.85" r="3.5" fill="#0000CD"/>
<circle cx="484.62" cy="196.22" r="3.5" fill="#0000CD"/>
<circle cx="399.30" cy="129.05" r="3.5" fill="#1874CD"/>
<circle cx="403.14" cy="114.13" r="3.5" fill="#1874CD"/>
<circle cx="408.96" cy="107.35" r="3.5" fill="#1874CD"/>
<circle cx="414.78" cy="104.13" r="3.5" fill="#1874CD"/>
<circle cx="420.60" cy="100.20" r="3.5" fill="#1874CD"/>
<circle cx="426.42" cy="95.56" r="3.5" fill="#1874CD"/>
<circle cx="438.06" cy="114.58" r="3.5" fill="#1874CD"/>
<circle cx="449.70" cy="136.02" r="3.5" fill="#1874CD"/>
<circle cx="461.34" cy="160.31" r="3.5" fill="#1874CD"/>
<circle cx="484.62" cy="171.39" r="3.5" fill="#1874CD"/>
<circle cx="507.90" cy="191.57" r="3.5" fill="#1874CD"/>
<circle cx="531.18" cy="205.15" r="3.5" fill="#1874CD"/>
<circle cx="395.34" cy="176.75" r="3.5" fill="#00B2EE"/>
<circle cx="398.83" cy="130.84" r="3.5" fill="#00B2EE"/>
<circle cx="403.14" cy="96.00" r="3.5" fill="#00B2EE"/>
<circle cx="408.96" cy="71.26" r="3.5" fill="#00B2EE"/>
<circle cx="426.42" cy="57.95" r="3.5" fill="#00B2EE"/>
<circle cx="438.06" cy="89.30" r="3.5" fill="#00B2EE"/>
<circle cx="531.18" cy="200.42" r="3.5" fill="#00B2EE"/>
<circle cx="562.05" cy="45.90" r="3.6" fill="#0000CD"/>
<text x="577.85" y="50.80" font-size="13">Song 2008 − GG</text>
<circle cx="562.05" cy="60.30" r="3.6" fill="#1874CD"/>
<text x="577.85" y="65.20" font-size="13">Song 2008 − GT</text>
<circle cx="562.05" cy="74.70" r="3.6" fill="#00B2EE"/>
<text x="577.85" y="79.60" font-size="13">Song 2008 − TT</text>
<text x="577.85" y="94.00" font-size="13">n = 9/6/6</text>
<path d="M48.50,494.90 L49.47,494.90 L50.45,494.90 L51.42,494.90 L52.39,494.90 L53.37,494.90 L54.34,494.87 L55.31,492.93 L56.29,488.54 L57.26,482.47 L58.23,475.50 L59.21,468.42 L60.18,461.93 L61.15,455.55 L62.13,448.91 L63.10,441.95 L64.07,434.59 L65.05,426.78 L66.02,418.45 L66.99,409.54 L67.96,399.59 L68.94,386.88 L69.91,375.35 L70.88,366.94 L71.86,359.72 L72.83,353.39 L73.80,347.54 L74.78,342.06 L75.75,337.56 L76.72,334.45 L77.70,331.68 L78.67,329.44 L79.64,328.14 L80.62,328.02 L81.59,328.43 L82.56,329.16 L83.54,330.13 L84.51,331.26 L85.48,332.48 L86.46,333.97 L87.43,336.01 L88.40,338.45 L89.38,341.11 L90.35,343.83 L91.32,346.85 L92.30,350.25 L93.27,353.77 L94.24,357.13 L95.22,360.09 L96.19,362.73 L97.16,365.21 L98.14,367.59 L99.11,369.96 L100.08,372.38 L101.06,374.85 L102.03,377.33 L103.00,379.81 L103.97,382.28 L104.95,384.74 L105.92,387.16 L106.89,389.55 L107.87,391.89 L108.84,394.20 L109.81,396.53 L110.79,398.84 L111.76,401.13 L112.73,403.36 L113.71,405.51 L114.68,407.56 L115.65,409.50 L116.63,411.31 L117.60,413.07 L118.57,414.76 L119.55,416.40 L120.52,417.99 L121.49,419.52 L122.47,421.01 L123.44,422.46 L124.41,423.86 L125.39,425.22 L126.36,426.54 L127.33,427.83 L128.31,429.09 L129.28,430.33 L130.25,431.53 L131.23,432.71 L132.20,433.85 L133.17,434.97 L134.15,436.06 L135.12,437.12 L136.09,438.15 L137.07,439.15 L138.04,440.13 L139.01,441.08 L139.98,442.00 L140.96,442.90 L141.93,443.78 L142.90,444.64 L143.88,445.48 L144.85,446.31 L145.82,447.12 L146.80,447.91 L147.77,448.70 L148.74,449.47 L149.72,450.24 L150.69,451.00 L151.66,451.76 L152.64,452.52 L153.61,453.27 L154.58,454.01 L155.56,454.74 L156.53,455.46 L157.50,456.18 L158.48,456.89 L159.45,457.59 L160.42,458.28 L161.40,458.95 L162.37,459.62 L163.34,460.28 L164.32,460.92 L165.29,461.55 L166.26,462.17 L167.24,462.78 L168.21,463.38 L169.18,463.98 L170.16,464.57 L171.13,465.16 L172.10,465.73 L173.08,466.30 L174.05,466.86 L175.02,467.41 L175.99,467.95 L176.97,468.49 L177.94,469.02 L178.91,469.53 L179.89,470.04 L180.86,470.54 L181.83,471.03 L182.81,471.51 L183.78,471.98 L184.75,472.45 L185.73,472.93 L186.70,473.40 L187.67,473.88 L188.65,474.36 L189.62,474.84 L190.59,475.31 L191.57,475.79 L192.54,476.26 L193.51,476.73 L194.49,477.19 L195.46,477.65 L196.43,478.10 L197.41,478.55 L198.38,478.99 L199.35,479.42 L200.33,479.84 L201.30,480.25 L202.27,480.66 L203.25,481.05 L204.22,481.43 L205.19,481.80 L206.17,482.16 L207.14,482.50 L208.11,482.83 L209.09,483.15 L210.06,483.45 L211.03,483.73 L212.01,484.00 L212.98,484.24 L213.95,484.47 L214.92,484.69 L215.90,484.89 L216.87,485.09 L217.84,485.29 L218.82,485.48 L219.79,485.67 L220.76,485.86 L221.74,486.04 L222.71,486.23 L223.68,486.40 L224.66,486.58 L225.63,486.75 L226.60,486.92 L227.58,487.09 L228.55,487.25 L229.52,487.41 L230.50,487.56 L231.47,487.72 L232.44,487.87 L233.42,488.01 L234.39,488.16 L235.36,488.30 L236.34,488.44 L237.31,488.57 L238.28,488.70 L239.26,488.83 L240.23,488.95 L241.20,489.08 L242.18,489.20 L243.15,489.31 L244.12,489.42 L245.10,489.53 L246.07,489.64 L247.04,489.74 L248.02,489.84 L248.99,489.94 L249.96,490.03 L250.93,490.12 L251.91,490.21 L252.88,490.29 L253.85,490.37 L254.83,490.45 L255.80,490.53 L256.77,490.60 L257.75,490.67 L258.72,490.73 L259.69,490.80 L260.67,490.86 L261.64,490.92 L262.61,490.98 L263.59,491.04 L264.56,491.10 L265.53,491.16 L266.51,491.22 L267.48,491.28 L268.45,491.33 L269.43,491.39 L270.40,491.45 L271.37,491.51 L272.35,491.56 L273.32,491.62 L274.29,491.68 L275.27,491.73 L276.24,491.79 L277.21,491.84 L278.19,491.89 L279.16,491.95 L280.13,492.00 L281.11,492.05 L282.08,492.11 L283.05,492.16 L284.03,492.21 L285.00,492.26 L285.97,492.31 L286.94,492.36 L287.92,492.41 L288.89,492.45 L289.86,492.50 L290.84,492.55 L291.81,492.59 L292.78,492.64 L293.76,492.68 L294.73,492.73 L295.70,492.77 L296.68,492.81 L297.65,492.86 L298.62,492.90 L299.60,492.94 L300.57,492.98 L301.54,493.02 L302.52,493.06 L303.49,493.09 L304.46,493.13 L305.44,493.17 L306.41,493.20 L307.38,493.24 L308.36,493.27 L309.33,493.30 L310.30,493.33 L311.28,493.36 L312.25,493.39 L313.22,493.42 L314.20,493.45 L315.17,493.48 L316.14,493.50 L317.12,493.53 L318.09,493.55 L319.06,493.58 L320.04,493.60 L321.01,493.62 L321.98,493.64 L322.95,493.66 L323.93,493.68 L324.90,493.70 L325.87,493.71 L326.85,493.73 L327.82,493.74 L328.79,493.76 L329.77,493.77 L330.74,493.78 L331.71,493.79 L332.69,493.80 L333.66,493.81 L334.63,493.81 L335.61,493.82 L336.58,493.82 L337.55,493.83 L338.53,493.83 L339.50,493.83 L339.50,494.45 L338.53,494.45 L337.55,494.45 L336.58,494.45 L335.61,494.45 L334.63,494.44 L333.66,494.44 L332.69,494.43 L331.71,494.42 L330.74,494.42 L329.77,494.41 L328.79,494.40 L327.82,494.39 L326.85,494.38 L325.87,494.37 L324.90,494.35 L323.93,494.34 L322.95,494.33 L321.98,494.31 L321.01,494.30 L320.04,494.28 L319.06,494.26 L318.09,494.25 L317.12,494.23 L316.14,494.21 L315.17,494.19 L314.20,494.17 L313.22,494.15 L312.25,494.12 L311.28,494.10 L310.30,494.08 L309.33,494.05 L308.36,494.03 L307.38,494.00 L306.41,493.98 L305.44,493.95 L304.46,493.93 L303.49,493.90 L302.52,493.87 L301.54,493.84 L300.57,493.81 L299.60,493.78 L298.62,493.75 L297.65,493.72 L296.68,493.69 L295.70,493.66 L294.73,493.63 L293.76,493.59 L292.78,493.56 L291.81,493.53 L290.84,493.49 L289.86,493.46 L288.89,493.42 L287.92,493.39 L286.94,493.35 L285.97,493.32 L285.00,493.28 L284.03,493.24 L283.05,493.21 L282.08,493.17 L281.11,493.13 L280.13,493.09 L279.16,493.05 L278.19,493.01 L277.21,492.97 L276.24,492.93 L275.27,492.89 L274.29,492.85 L273.32,492.81 L272.35,492.77 L271.37,492.73 L270.40,492.69 L269.43,492.65 L268.45,492.61 L267.48,492.57 L266.51,492.52 L265.53,492.48 L264.56,492.44 L263.59,492.40 L262.61,492.35 L261.64,492.31 L260.67,492.27 L259.69,492.22 L258.72,492.18 L257.75,492.13 L256.77,492.09 L255.80,492.04 L254.83,491.98 L253.85,491.93 L252.88,491.87 L251.91,491.82 L250.93,491.76 L249.96,491.70 L248.99,491.63 L248.02,491.57 L247.04,491.50 L246.07,491.43 L245.10,491.36 L244.12,491.29 L243.15,491.22 L242.18,491.14 L241.20,491.07 L240.23,490.99 L239.26,490.90 L238.28,490.82 L237.31,490.74 L236.34,490.65 L235.36,490.56 L234.39,490.47 L233.42,490.38 L232.44,490.29 L231.47,490.19 L230.50,490.10 L229.52,490.00 L228.55,489.90 L227.58,489.80 L226.60,489.69 L225.63,489.59 L224.66,489.48 L223.68,489.37 L222.71,489.26 L221.74,489.15 L220.76,489.04 L219.79,488.92 L218.82,488.81 L217.84,488.69 L216.87,488.57 L215.90,488.45 L214.92,488.32 L213.95,488.20 L212.98,488.07 L212.01,487.93 L211.03,487.79 L210.06,487.64 L209.09,487.49 L208.11,487.32 L207.14,487.16 L206.17,486.98 L205.19,486.80 L204.22,486.62 L203.25,486.43 L202.27,486.23 L201.30,486.03 L200.33,485.82 L199.35,485.61 L198.38,485.39 L197.41,485.17 L196.43,484.95 L195.46,484.72 L194.49,484.48 L193.51,484.25 L192.54,484.00 L191.57,483.76 L190.59,483.51 L189.62,483.26 L188.65,483.00 L187.67,482.74 L186.70,482.48 L185.73,482.21 L184.75,481.95 L183.78,481.68 L182.81,481.40 L181.83,481.11 L180.86,480.81 L179.89,480.48 L178.91,480.14 L177.94,479.79 L176.97,479.43 L175.99,479.06 L175.02,478.68 L174.05,478.29 L173.08,477.90 L172.10,477.51 L171.13,477.11 L170.16,476.71 L169.18,476.31 L168.21,475.92 L167.24,475.53 L166.26,475.15 L165.29,474.77 L164.32,474.40 L163.34,474.05 L162.37,473.70 L161.40,473.36 L160.42,473.03 L159.45,472.71 L158.48,472.39 L157.50,472.07 L156.53,471.76 L155.56,471.45 L154.58,471.14 L153.61,470.83 L152.64,470.51 L151.66,470.19 L150.69,469.87 L149.72,469.55 L148.74,469.22 L147.77,468.88 L146.80,468.53 L145.82,468.17 L144.85,467.80 L143.88,467.43 L142.90,467.05 L141.93,466.66 L140.96,466.26 L139.98,465.86 L139.01,465.45 L138.04,465.04 L137.07,464.62 L136.09,464.19 L135.12,463.76 L134.15,463.32 L133.17,462.87 L132.20,462.42 L131.23,461.97 L130.25,461.50 L129.28,461.03 L128.31,460.56 L127.33,460.08 L126.36,459.59 L125.39,459.09 L124.41,458.59 L123.44,458.08 L122.47,457.57 L121.49,457.04 L120.52,456.51 L119.55,455.96 L118.57,455.40 L117.60,454.84 L116.63,454.26 L115.65,453.68 L114.68,453.08 L113.71,452.47 L112.73,451.85 L111.76,451.22 L110.79,450.57 L109.81,449.92 L108.84,449.22 L107.87,448.46 L106.89,447.65 L105.92,446.81 L104.95,445.95 L103.97,445.06 L103.00,444.17 L102.03,443.29 L101.06,442.42 L100.08,441.58 L99.11,440.78 L98.14,440.02 L97.16,439.32 L96.19,438.69 L95.22,438.14 L94.24,437.65 L93.27,437.13 L92.30,436.64 L91.32,436.19 L90.35,435.83 L89.38,435.59 L88.40,435.50 L87.43,435.52 L86.46,435.56 L85.48,435.63 L84.51,435.72 L83.54,435.83 L82.56,435.96 L81.59,436.16 L80.62,436.69 L79.64,437.56 L78.67,438.70 L77.70,440.06 L76.72,441.58 L75.75,443.19 L74.78,444.83 L73.80,446.70 L72.83,448.99 L71.86,451.61 L70.88,454.46 L69.91,457.45 L68.94,460.48 L67.96,463.45 L66.99,466.55 L66.02,470.02 L65.05,473.64 L64.07,477.23 L63.10,480.58 L62.13,483.50 L61.15,485.78 L60.18,487.61 L59.21,489.40 L58.23,491.08 L57.26,492.56 L56.29,493.75 L55.31,494.55 L54.34,494.89 L53.37,494.90 L52.39,494.90 L51.42,494.90 L50.45,494.90 L49.47,494.90 L48.50,494.90Z" fill="#0000CD" fill-opacity="0.1"/>
<path d="M48.50,494.90 L49.47,494.90 L50.45,494.90 L51.42,494.90 L52.39,494.90 L53.37,494.90 L54.34,494.88 L55.31,493.78 L56.29,491.20 L57.26,487.48 L58.23,482.92 L59.21,477.88 L60.18,472.66 L61.15,467.60 L62.13,461.98 L63.10,455.38 L64.07,448.08 L65.05,440.36 L66.02,432.48 L66.99,424.73 L67.96,417.38 L68.94,410.70 L69.91,404.60 L70.88,398.67 L71.86,393.01 L72.83,387.74 L73.80,382.94 L74.78,378.55 L75.75,374.43 L76.72,370.71 L77.70,367.48 L78.67,364.50 L79.64,361.44 L80.62,358.61 L81.59,356.34 L82.56,354.95 L83.54,354.76 L84.51,355.91 L85.48,358.05 L86.46,360.78 L87.43,363.70 L88.40,366.43 L89.38,368.80 L90.35,371.24 L91.32,373.73 L92.30,376.24 L93.27,378.72 L94.24,381.13 L95.22,383.43 L96.19,385.66 L97.16,387.84 L98.14,389.97 L99.11,392.07 L100.08,394.14 L101.06,396.18 L102.03,398.21 L103.00,400.24 L103.97,402.26 L104.95,404.27 L105.92,406.25 L106.89,408.18 L107.87,410.05 L108.84,411.85 L109.81,413.58 L110.79,415.27 L111.76,416.92 L112.73,418.52 L113.71,420.07 L114.68,421.57 L115.65,423.02 L116.63,424.43 L117.60,425.81 L118.57,427.17 L119.55,428.51 L120.52,429.82 L121.49,431.11 L122.47,432.37 L123.44,433.61 L124.41,434.83 L125.39,436.02 L126.36,437.18 L127.33,438.33 L128.31,439.44 L129.28,440.54 L130.25,441.61 L131.23,442.66 L132.20,443.71 L133.17,444.75 L134.15,445.77 L135.12,446.78 L136.09,447.77 L137.07,448.75 L138.04,449.70 L139.01,450.63 L139.98,451.54 L140.96,452.42 L141.93,453.28 L142.90,454.11 L143.88,454.90 L144.85,455.67 L145.82,456.40 L146.80,457.10 L147.77,457.77 L148.74,458.43 L149.72,459.07 L150.69,459.69 L151.66,460.30 L152.64,460.89 L153.61,461.46 L154.58,462.02 L155.56,462.58 L156.53,463.12 L157.50,463.65 L158.48,464.17 L159.45,464.69 L160.42,465.20 L161.40,465.71 L162.37,466.21 L163.34,466.71 L164.32,467.22 L165.29,467.72 L166.26,468.22 L167.24,468.72 L168.21,469.22 L169.18,469.72 L170.16,470.21 L171.13,470.70 L172.10,471.19 L173.08,471.67 L174.05,472.15 L175.02,472.61 L175.99,473.07 L176.97,473.52 L177.94,473.96 L178.91,474.40 L179.89,474.82 L180.86,475.23 L181.83,475.62 L182.81,476.01 L183.78,476.38 L184.75,476.75 L185.73,477.12 L186.70,477.49 L187.67,477.86 L188.65,478.23 L189.62,478.59 L190.59,478.95 L191.57,479.31 L192.54,479.66 L193.51,480.01 L194.49,480.36 L195.46,480.70 L196.43,481.03 L197.41,481.36 L198.38,481.69 L199.35,482.01 L200.33,482.32 L201.30,482.63 L202.27,482.93 L203.25,483.22 L204.22,483.50 L205.19,483.78 L206.17,484.05 L207.14,484.31 L208.11,484.56 L209.09,484.80 L210.06,485.03 L211.03,485.25 L212.01,485.46 L212.98,485.65 L213.95,485.84 L214.92,486.02 L215.90,486.19 L216.87,486.35 L217.84,486.52 L218.82,486.69 L219.79,486.85 L220.76,487.01 L221.74,487.16 L222.71,487.32 L223.68,487.47 L224.66,487.62 L225.63,487.77 L226.60,487.91 L227.58,488.06 L228.55,488.20 L229.52,488.34 L230.50,488.47 L231.47,488.61 L232.44,488.74 L233.42,488.87 L234.39,488.99 L235.36,489.11 L236.34,489.24 L237.31,489.35 L238.28,489.47 L239.26,489.58 L240.23,489.69 L241.20,489.80 L242.18,489.91 L243.15,490.01 L244.12,490.11 L245.10,490.21 L246.07,490.30 L247.04,490.39 L248.02,490.48 L248.99,490.57 L249.96,490.65 L250.93,490.73 L251.91,490.81 L252.88,490.89 L253.85,490.96 L254.83,491.03 L255.80,491.09 L256.77,491.16 L257.75,491.22 L258.72,491.28 L259.69,491.33 L260.67,491.39 L261.64,491.44 L262.61,491.49 L263.59,491.54 L264.56,491.60 L265.53,491.65 L266.51,491.70 L267.48,491.75 L268.45,491.80 L269.43,491.86 L270.40,491.91 L271.37,491.96 L272.35,492.01 L273.32,492.06 L274.29,492.11 L275.27,492.15 L276.24,492.20 L277.21,492.25 L278.19,492.30 L279.16,492.35 L280.13,492.39 L281.11,492.44 L282.08,492.48 L283.05,492.53 L284.03,492.58 L285.00,492.62 L285.97,492.66 L286.94,492.71 L287.92,492.75 L288.89,492.79 L289.86,492.83 L290.84,492.88 L291.81,492.92 L292.78,492.96 L293.76,493.00 L294.73,493.03 L295.70,493.07 L296.68,493.11 L297.65,493.15 L298.62,493.18 L299.60,493.22 L300.57,493.26 L301.54,493.29 L302.52,493.32 L303.49,493.36 L304.46,493.39 L305.44,493.42 L306.41,493.45 L307.38,493.48 L308.36,493.51 L309.33,493.54 L310.30,493.57 L311.28,493.60 L312.25,493.62 L313.22,493.65 L314.20,493.67 L315.17,493.70 L316.14,493.72 L317.12,493.74 L318.09,493.76 L319.06,493.79 L320.04,493.81 L321.01,493.82 L321.98,493.84 L322.95,493.86 L323.93,493.88 L324.90,493.89 L325.87,493.91 L326.85,493.92 L327.82,493.93 L328.79,493.94 L329.77,493.95 L330.74,493.96 L331.71,493.97 L332.69,493.98 L333.66,493.99 L334.63,493.99 L335.61,494.00 L336.58,494.00 L337.55,494.00 L338.53,494.01 L339.50,494.01 L339.50,494.54 L338.53,494.54 L337.55,494.54 L336.58,494.54 L335.61,494.54 L334.63,494.53 L333.66,494.53 L332.69,494.52 L331.71,494.52 L330.74,494.51 L329.77,494.50 L328.79,494.50 L327.82,494.49 L326.85,494.48 L325.87,494.47 L324.90,494.46 L323.93,494.45 L322.95,494.43 L321.98,494.42 L321.01,494.41 L320.04,494.39 L319.06,494.38 L318.09,494.36 L317.12,494.35 L316.14,494.33 L315.17,494.32 L314.20,494.30 L313.22,494.28 L312.25,494.26 L311.28,494.24 L310.30,494.22 L309.33,494.20 L308.36,494.18 L307.38,494.16 L306.41,494.14 L305.44,494.12 L304.46,494.09 L303.49,494.07 L302.52,494.05 L301.54,494.02 L300.57,494.00 L299.60,493.97 L298.62,493.95 L297.65,493.92 L296.68,493.89 L295.70,493.87 L294.73,493.84 L293.76,493.81 L292.78,493.78 L291.81,493.76 L290.84,493.73 L289.86,493.70 L288.89,493.67 L287.92,493.64 L286.94,493.61 L285.97,493.58 L285.00,493.55 L284.03,493.52 L283.05,493.48 L282.08,493.45 L281.11,493.42 L280.13,493.39 L279.16,493.36 L278.19,493.32 L277.21,493.29 L276.24,493.26 L275.27,493.23 L274.29,493.19 L273.32,493.16 L272.35,493.12 L271.37,493.09 L270.40,493.06 L269.43,493.02 L268.45,492.99 L267.48,492.95 L266.51,492.92 L265.53,492.88 L264.56,492.85 L263.59,492.81 L262.61,492.78 L261.64,492.74 L260.67,492.71 L259.69,492.67 L258.72,492.63 L257.75,492.60 L256.77,492.56 L255.80,492.52 L254.83,492.48 L253.85,492.43 L252.88,492.39 L251.91,492.34 L250.93,492.30 L249.96,492.25 L248.99,492.20 L248.02,492.15 L247.04,492.10 L246.07,492.05 L245.10,491.99 L244.12,491.93 L243.15,491.88 L242.18,491.82 L241.20,491.76 L240.23,491.70 L239.26,491.64 L238.28,491.57 L237.31,491.51 L236.34,491.44 L235.36,491.37 L234.39,491.30 L233.42,491.23 L232.44,491.16 L231.47,491.09 L230.50,491.01 L229.52,490.94 L228.55,490.86 L227.58,490.78 L226.60,490.70 L225.63,490.62 L224.66,490.54 L223.68,490.45 L222.71,490.37 L221.74,490.28 L220.76,490.19 L219.79,490.10 L218.82,490.01 L217.84,489.92 L216.87,489.83 L215.90,489.73 L214.92,489.64 L213.95,489.54 L212.98,489.44 L212.01,489.33 L211.03,489.22 L210.06,489.10 L209.09,488.98 L208.11,488.85 L207.14,488.72 L206.17,488.58 L205.19,488.44 L204.22,488.29 L203.25,488.14 L202.27,487.98 L201.30,487.82 L200.33,487.66 L199.35,487.49 L198.38,487.31 L197.41,487.14 L196.43,486.96 L195.46,486.77 L194.49,486.58 L193.51,486.39 L192.54,486.20 L191.57,486.00 L190.59,485.80 L189.62,485.60 L188.65,485.39 L187.67,485.18 L186.70,484.97 L185.73,484.76 L184.75,484.54 L183.78,484.32 L182.81,484.10 L181.83,483.87 L180.86,483.61 L179.89,483.35 L178.91,483.07 L177.94,482.78 L176.97,482.48 L175.99,482.17 L175.02,481.86 L174.05,481.54 L173.08,481.21 L172.10,480.89 L171.13,480.56 L170.16,480.23 L169.18,479.90 L168.21,479.57 L167.24,479.25 L166.26,478.94 L165.29,478.63 L164.32,478.33 L163.34,478.04 L162.37,477.76 L161.40,477.49 L160.42,477.23 L159.45,476.97 L158.48,476.71 L157.50,476.46 L156.53,476.22 L155.56,475.97 L154.58,475.73 L153.61,475.48 L152.64,475.23 L151.66,474.98 L150.69,474.73 L149.72,474.47 L148.74,474.20 L147.77,473.93 L146.80,473.65 L145.82,473.36 L144.85,473.06 L143.88,472.75 L142.90,472.44 L141.93,472.11 L140.96,471.78 L139.98,471.44 L139.01,471.09 L138.04,470.73 L137.07,470.37 L136.09,470.01 L135.12,469.63 L134.15,469.25 L133.17,468.87 L132.20,468.48 L131.23,468.09 L130.25,467.69 L129.28,467.29 L128.31,466.89 L127.33,466.48 L126.36,466.07 L125.39,465.66 L124.41,465.24 L123.44,464.82 L122.47,464.40 L121.49,463.97 L120.52,463.54 L119.55,463.10 L118.57,462.65 L117.60,462.20 L116.63,461.74 L115.65,461.27 L114.68,460.79 L113.71,460.30 L112.73,459.80 L111.76,459.29 L110.79,458.77 L109.81,458.23 L108.84,457.67 L107.87,457.07 L106.89,456.43 L105.92,455.76 L104.95,455.08 L103.97,454.38 L103.00,453.67 L102.03,452.97 L101.06,452.27 L100.08,451.59 L99.11,450.92 L98.14,450.28 L97.16,449.68 L96.19,449.11 L95.22,448.59 L94.24,448.10 L93.27,447.57 L92.30,447.04 L91.32,446.52 L90.35,446.03 L89.38,445.60 L88.40,445.25 L87.43,445.01 L86.46,444.89 L85.48,444.91 L84.51,445.05 L83.54,445.30 L82.56,445.65 L81.59,446.09 L80.62,446.63 L79.64,447.24 L78.67,447.93 L77.70,448.68 L76.72,449.50 L75.75,450.37 L74.78,451.80 L73.80,453.91 L72.83,456.53 L71.86,459.48 L70.88,462.56 L69.91,465.59 L68.94,468.39 L67.96,471.30 L66.99,474.49 L66.02,477.76 L65.05,480.92 L64.07,483.79 L63.10,486.16 L62.13,487.85 L61.15,489.18 L60.18,490.45 L59.21,491.62 L58.23,492.68 L57.26,493.56 L56.29,494.25 L55.31,494.71 L54.34,494.90 L53.37,494.90 L52.39,494.90 L51.42,494.90 L50.45,494.90 L49.47,494.90 L48.50,494.90Z" fill="#1874CD" fill-opacity="0.1"/>
<path d="M48.50,494.90 L49.47,494.90 L50.45,494.90 L51.42,494.90 L52.39,494.90 L53.37,494.90 L54.34,494.89 L55.31,494.18 L56.29,492.46 L57.26,489.92 L58.23,486.69 L59.21,482.94 L60.18,478.84 L61.15,474.54 L62.13,470.19 L63.10,465.21 L64.07,458.87 L65.05,451.52 L66.02,443.50 L66.99,435.18 L67.96,426.89 L68.94,419.00 L69.91,411.86 L70.88,405.41 L71.86,398.98 L72.83,392.87 L73.80,387.46 L74.78,383.14 L75.75,379.40 L76.72,375.71 L77.70,372.20 L78.67,369.02 L79.64,366.31 L80.62,364.22 L81.59,362.88 L82.56,362.44 L83.54,362.90 L84.51,364.03 L85.48,365.66 L86.46,367.59 L87.43,369.62 L88.40,371.57 L89.38,373.54 L90.35,375.77 L91.32,378.18 L92.30,380.71 L93.27,383.29 L94.24,385.85 L95.22,388.31 L96.19,390.63 L97.16,392.90 L98.14,395.16 L99.11,397.42 L100.08,399.65 L101.06,401.84 L102.03,404.00 L103.00,406.09 L103.97,408.12 L104.95,410.07 L105.92,411.93 L106.89,413.71 L107.87,415.44 L108.84,417.13 L109.81,418.77 L110.79,420.37 L111.76,421.92 L112.73,423.41 L113.71,424.86 L114.68,426.26 L115.65,427.61 L116.63,428.91 L117.60,430.18 L118.57,431.41 L119.55,432.61 L120.52,433.79 L121.49,434.93 L122.47,436.05 L123.44,437.14 L124.41,438.21 L125.39,439.26 L126.36,440.30 L127.33,441.31 L128.31,442.31 L129.28,443.29 L130.25,444.26 L131.23,445.22 L132.20,446.17 L133.17,447.11 L134.15,448.04 L135.12,448.96 L136.09,449.86 L137.07,450.75 L138.04,451.63 L139.01,452.48 L139.98,453.32 L140.96,454.14 L141.93,454.94 L142.90,455.72 L143.88,456.48 L144.85,457.21 L145.82,457.92 L146.80,458.61 L147.77,459.28 L148.74,459.94 L149.72,460.60 L150.69,461.23 L151.66,461.86 L152.64,462.48 L153.61,463.08 L154.58,463.67 L155.56,464.25 L156.53,464.83 L157.50,465.39 L158.48,465.94 L159.45,466.48 L160.42,467.01 L161.40,467.53 L162.37,468.04 L163.34,468.54 L164.32,469.04 L165.29,469.52 L166.26,470.00 L167.24,470.47 L168.21,470.93 L169.18,471.38 L170.16,471.82 L171.13,472.26 L172.10,472.69 L173.08,473.11 L174.05,473.52 L175.02,473.92 L175.99,474.32 L176.97,474.71 L177.94,475.10 L178.91,475.47 L179.89,475.84 L180.86,476.21 L181.83,476.56 L182.81,476.91 L183.78,477.26 L184.75,477.60 L185.73,477.95 L186.70,478.29 L187.67,478.64 L188.65,478.98 L189.62,479.32 L190.59,479.66 L191.57,480.00 L192.54,480.34 L193.51,480.67 L194.49,481.01 L195.46,481.33 L196.43,481.65 L197.41,481.97 L198.38,482.29 L199.35,482.59 L200.33,482.90 L201.30,483.19 L202.27,483.48 L203.25,483.76 L204.22,484.04 L205.19,484.31 L206.17,484.57 L207.14,484.82 L208.11,485.06 L209.09,485.29 L210.06,485.51 L211.03,485.72 L212.01,485.92 L212.98,486.11 L213.95,486.29 L214.92,486.46 L215.90,486.62 L216.87,486.78 L217.84,486.94 L218.82,487.10 L219.79,487.25 L220.76,487.40 L221.74,487.55 L222.71,487.70 L223.68,487.84 L224.66,487.99 L225.63,488.13 L226.60,488.27 L227.58,488.40 L228.55,488.54 L229.52,488.67 L230.50,488.80 L231.47,488.92 L232.44,489.05 L233.42,489.17 L234.39,489.29 L235.36,489.41 L236.34,489.52 L237.31,489.64 L238.28,489.75 L239.26,489.85 L240.23,489.96 L241.20,490.06 L242.18,490.16 L243.15,490.26 L244.12,490.35 L245.10,490.45 L246.07,490.54 L247.04,490.62 L248.02,490.71 L248.99,490.79 L249.96,490.87 L250.93,490.94 L251.91,491.02 L252.88,491.09 L253.85,491.16 L254.83,491.22 L255.80,491.29 L256.77,491.35 L257.75,491.40 L258.72,491.46 L259.69,491.51 L260.67,491.56 L261.64,491.61 L262.61,491.66 L263.59,491.71 L264.56,491.76 L265.53,491.81 L266.51,491.86 L267.48,491.90 L268.45,491.95 L269.43,492.00 L270.40,492.05 L271.37,492.10 L272.35,492.14 L273.32,492.19 L274.29,492.23 L275.27,492.28 L276.24,492.33 L277.21,492.37 L278.19,492.41 L279.16,492.46 L280.13,492.50 L281.11,492.55 L282.08,492.59 L283.05,492.63 L284.03,492.67 L285.00,492.71 L285.97,492.76 L286.94,492.80 L287.92,492.84 L288.89,492.88 L289.86,492.91 L290.84,492.95 L291.81,492.99 L292.78,493.03 L293.76,493.07 L294.73,493.10 L295.70,493.14 L296.68,493.17 L297.65,493.21 L298.62,493.24 L299.60,493.27 L300.57,493.31 L301.54,493.34 L302.52,493.37 L303.49,493.40 L304.46,493.43 L305.44,493.46 L306.41,493.49 L307.38,493.52 L308.36,493.55 L309.33,493.57 L310.30,493.60 L311.28,493.62 L312.25,493.65 L313.22,493.67 L314.20,493.70 L315.17,493.72 L316.14,493.74 L317.12,493.76 L318.09,493.78 L319.06,493.80 L320.04,493.82 L321.01,493.84 L321.98,493.85 L322.95,493.87 L323.93,493.89 L324.90,493.90 L325.87,493.91 L326.85,493.93 L327.82,493.94 L328.79,493.95 L329.77,493.96 L330.74,493.97 L331.71,493.98 L332.69,493.98 L333.66,493.99 L334.63,493.99 L335.61,494.00 L336.58,494.00 L337.55,494.00 L338.53,494.01 L339.50,494.01 L339.50,494.63 L338.53,494.63 L337.55,494.63 L336.58,494.63 L335.61,494.63 L334.63,494.63 L333.66,494.62 L332.69,494.62 L331.71,494.62 L330.74,494.62 L329.77,494.61 L328.79,494.61 L327.82,494.60 L326.85,494.60 L325.87,494.59 L324.90,494.59 L323.93,494.58 L322.95,494.57 L321.98,494.57 L321.01,494.56 L320.04,494.55 L319.06,494.54 L318.09,494.54 L317.12,494.53 L316.14,494.52 L315.17,494.51 L314.20,494.50 L313.22,494.49 L312.25,494.48 L311.28,494.47 L310.30,494.46 L309.33,494.45 L308.36,494.43 L307.38,494.42 L306.41,494.41 L305.44,494.40 L304.46,494.39 L303.49,494.37 L302.52,494.36 L301.54,494.35 L300.57,494.33 L299.60,494.32 L298.62,494.30 L297.65,494.29 L296.68,494.27 L295.70,494.26 L294.73,494.24 L293.76,494.23 L292.78,494.21 L291.81,494.20 L290.84,494.18 L289.86,494.16 L288.89,494.15 L287.92,494.13 L286.94,494.11 L285.97,494.10 L285.00,494.08 L284.03,494.06 L283.05,494.04 L282.08,494.02 L281.11,494.01 L280.13,493.99 L279.16,493.97 L278.19,493.95 L277.21,493.93 L276.24,493.91 L275.27,493.89 L274.29,493.87 L273.32,493.85 L272.35,493.83 L271.37,493.81 L270.40,493.79 L269.43,493.77 L268.45,493.75 L267.48,493.73 L266.51,493.71 L265.53,493.69 L264.56,493.67 L263.59,493.65 L262.61,493.63 L261.64,493.60 L260.67,493.58 L259.69,493.56 L258.72,493.54 L257.75,493.52 L256.77,493.49 L255.80,493.47 L254.83,493.44 L253.85,493.41 L252.88,493.38 L251.91,493.35 L250.93,493.32 L249.96,493.29 L248.99,493.26 L248.02,493.22 L247.04,493.19 L246.07,493.15 L245.10,493.11 L244.12,493.08 L243.15,493.04 L242.18,492.99 L241.20,492.95 L240.23,492.91 L239.26,492.87 L238.28,492.82 L237.31,492.77 L236.34,492.73 L235.36,492.68 L234.39,492.63 L233.42,492.58 L232.44,492.52 L231.47,492.47 L230.50,492.42 L229.52,492.36 L228.55,492.31 L227.58,492.25 L226.60,492.19 L225.63,492.13 L224.66,492.07 L223.68,492.01 L222.71,491.94 L221.74,491.88 L220.76,491.81 L219.79,491.75 L218.82,491.68 L217.84,491.61 L216.87,491.54 L215.90,491.47 L214.92,491.40 L213.95,491.33 L212.98,491.25 L212.01,491.17 L211.03,491.08 L210.06,490.99 L209.09,490.89 L208.11,490.79 L207.14,490.68 L206.17,490.56 L205.19,490.45 L204.22,490.33 L203.25,490.20 L202.27,490.07 L201.30,489.93 L200.33,489.80 L199.35,489.65 L198.38,489.51 L197.41,489.36 L196.43,489.21 L195.46,489.05 L194.49,488.89 L193.51,488.73 L192.54,488.56 L191.57,488.40 L190.59,488.23 L189.62,488.05 L188.65,487.88 L187.67,487.70 L186.70,487.53 L185.73,487.34 L184.75,487.16 L183.78,486.98 L182.81,486.79 L181.83,486.60 L180.86,486.38 L179.89,486.16 L178.91,485.92 L177.94,485.67 L176.97,485.42 L175.99,485.16 L175.02,484.89 L174.05,484.61 L173.08,484.34 L172.10,484.06 L171.13,483.78 L170.16,483.50 L169.18,483.22 L168.21,482.95 L167.24,482.68 L166.26,482.42 L165.29,482.16 L164.32,481.92 L163.34,481.68 L162.37,481.46 L161.40,481.24 L160.42,481.03 L159.45,480.82 L158.48,480.62 L157.50,480.43 L156.53,480.24 L155.56,480.04 L154.58,479.85 L153.61,479.67 L152.64,479.47 L151.66,479.28 L150.69,479.09 L149.72,478.88 L148.74,478.68 L147.77,478.47 L146.80,478.25 L145.82,478.02 L144.85,477.79 L143.88,477.54 L142.90,477.29 L141.93,477.02 L140.96,476.75 L139.98,476.48 L139.01,476.19 L138.04,475.90 L137.07,475.60 L136.09,475.30 L135.12,474.99 L134.15,474.68 L133.17,474.37 L132.20,474.06 L131.23,473.74 L130.25,473.43 L129.28,473.11 L128.31,472.79 L127.33,472.48 L126.36,472.16 L125.39,471.85 L124.41,471.54 L123.44,471.24 L122.47,470.93 L121.49,470.63 L120.52,470.33 L119.55,470.03 L118.57,469.73 L117.60,469.42 L116.63,469.11 L115.65,468.80 L114.68,468.47 L113.71,468.15 L112.73,467.81 L111.76,467.46 L110.79,467.10 L109.81,466.73 L108.84,466.35 L107.87,465.95 L106.89,465.54 L105.92,465.11 L104.95,464.67 L103.97,464.23 L103.00,463.77 L102.03,463.31 L101.06,462.84 L100.08,462.36 L99.11,461.88 L98.14,461.39 L97.16,460.91 L96.19,460.42 L95.22,459.93 L94.24,459.42 L93.27,458.81 L92.30,458.14 L91.32,457.45 L90.35,456.78 L89.38,456.17 L88.40,455.66 L87.43,455.28 L86.46,455.08 L85.48,455.07 L84.51,455.09 L83.54,455.12 L82.56,455.18 L81.59,455.25 L80.62,455.34 L79.64,455.45 L78.67,455.58 L77.70,455.74 L76.72,455.91 L75.75,456.11 L74.78,456.68 L73.80,457.64 L72.83,458.88 L71.86,460.31 L70.88,462.54 L69.91,465.70 L68.94,469.39 L67.96,473.23 L66.99,476.84 L66.02,479.83 L65.05,482.35 L64.07,484.81 L63.10,487.06 L62.13,488.95 L61.15,490.33 L60.18,491.32 L59.21,492.25 L58.23,493.09 L57.26,493.80 L56.29,494.37 L55.31,494.74 L54.34,494.90 L53.37,494.90 L52.39,494.90 L51.42,494.90 L50.45,494.90 L49.47,494.90 L48.50,494.90Z" fill="#00B2EE" fill-opacity="0.1"/>
<path d="M48.50,494.90 L49.08,494.90 L49.67,494.90 L50.25,494.90 L50.83,494.90 L51.42,494.90 L52.00,494.90 L52.58,494.90 L53.17,494.90 L53.75,494.90 L54.33,494.90 L54.91,494.77 L55.50,494.30 L56.08,493.37 L56.66,491.94 L57.25,490.00 L57.83,487.58 L58.41,484.69 L59.00,481.39 L59.58,477.73 L60.16,473.75 L60.75,469.52 L61.33,465.09 L61.91,460.51 L62.50,455.84 L63.08,451.11 L63.66,446.38 L64.25,441.68 L64.83,437.05 L65.41,432.53 L65.99,428.14 L66.58,423.89 L67.16,419.81 L67.74,415.90 L68.33,412.16 L68.91,408.62 L69.49,405.26 L70.08,402.10 L70.66,399.13 L71.24,396.36 L71.83,393.78 L72.41,391.38 L72.99,389.16 L73.58,387.13 L74.16,385.27 L74.74,383.57 L75.33,382.04 L75.91,380.67 L76.49,379.45 L77.08,378.38 L77.66,377.45 L78.24,376.67 L78.82,376.02 L79.41,375.49 L79.99,375.10 L80.57,374.82 L81.16,374.65 L81.74,374.60 L82.32,374.64 L82.91,374.79 L83.49,375.03 L84.07,375.36 L84.66,375.77 L85.24,376.26 L85.82,376.82 L86.41,377.45 L86.99,378.14 L87.57,378.89 L88.16,379.69 L88.74,380.55 L89.32,381.45 L89.90,382.39 L90.49,383.38 L91.07,384.39 L91.65,385.44 L92.24,386.52 L92.82,387.62 L93.40,388.75 L93.99,389.89 L94.57,391.05 L95.15,392.22 L95.74,393.40 L96.32,394.59 L96.90,395.79 L97.49,397.00 L98.07,398.20 L98.65,399.41 L99.24,400.62 L99.82,401.83 L100.40,403.04 L100.98,404.24 L101.57,405.44 L102.15,406.63 L102.73,407.82 L103.32,409.00 L103.90,410.17 L104.48,411.33 L105.07,412.49 L105.65,413.63 L106.23,414.77 L106.82,415.89 L107.40,417.00 L107.98,418.10 L108.57,419.19 L109.15,420.26 L109.73,421.33 L110.32,422.38 L110.90,423.41 L111.48,424.44 L112.07,425.45 L112.65,426.44 L113.23,427.42 L113.81,428.39 L114.40,429.35 L114.98,430.29 L115.56,431.22 L116.15,432.13 L116.73,433.03 L117.31,433.92 L117.90,434.79 L118.48,435.65 L119.06,436.49 L119.65,437.33 L120.23,438.15 L120.81,438.95 L121.40,439.75 L121.98,440.53 L122.56,441.30 L123.15,442.05 L123.73,442.80 L124.31,443.53 L124.89,444.25 L125.48,444.96 L126.06,445.65 L126.64,446.34 L127.23,447.01 L127.81,447.68 L128.39,448.33 L128.98,448.97 L129.56,449.60 L130.14,450.22 L130.73,450.83 L131.31,451.43 L131.89,452.02 L132.48,452.60 L133.06,453.17 L133.64,453.73 L134.23,454.28 L134.81,454.83 L135.39,455.36 L135.97,455.89 L136.56,456.40 L137.14,456.91 L137.72,457.41 L138.31,457.91 L138.89,458.39 L139.47,458.87 L140.06,459.34 L140.64,459.80 L141.22,460.26 L141.81,460.71 L142.39,461.15 L142.97,461.58 L143.56,462.01 L144.14,462.43 L144.72,462.85 L145.31,463.26 L145.89,463.66 L146.47,464.05 L147.06,464.45 L147.64,464.83 L148.22,465.21 L148.80,465.58 L149.39,465.95 L149.97,466.31 L150.55,466.67 L151.14,467.02 L151.72,467.37 L152.30,467.71 L152.89,468.05 L153.47,468.38 L154.05,468.71 L154.64,469.03 L155.22,469.35 L155.80,469.66 L156.39,469.97 L156.97,470.28 L157.55,470.58 L158.14,470.87 L158.72,471.17 L159.30,471.46 L159.88,471.74 L160.47,472.02 L161.05,472.30 L161.63,472.57 L162.22,472.84 L162.80,473.11 L163.38,473.37 L163.97,473.63 L164.55,473.88 L165.13,474.13 L165.72,474.38 L166.30,474.63 L166.88,474.87 L167.47,475.11 L168.05,475.34 L168.63,475.58 L169.22,475.81 L169.80,476.03 L170.38,476.26 L170.96,476.48 L171.55,476.70 L172.13,476.91 L172.71,477.12 L173.30,477.33 L173.88,477.54 L174.46,477.74 L175.05,477.94 L175.63,478.14 L176.21,478.34 L176.80,478.53 L177.38,478.73 L177.96,478.91 L178.55,479.10 L179.13,479.29 L179.71,479.47 L180.30,479.65 L180.88,479.82 L181.46,480.00 L182.05,480.17 L182.63,480.34 L183.21,480.51 L183.79,480.68 L184.38,480.84 L184.96,481.01 L185.54,481.17 L186.13,481.32 L186.71,481.48 L187.29,481.64 L187.88,481.79 L188.46,481.94 L189.04,482.09 L189.63,482.24 L190.21,482.38 L190.79,482.52 L191.38,482.67 L191.96,482.81 L192.54,482.94 L193.13,483.08 L193.71,483.22 L194.29,483.35 L194.87,483.48 L195.46,483.61 L196.04,483.74 L196.62,483.87 L197.21,483.99 L197.79,484.12 L198.37,484.24 L198.96,484.36 L199.54,484.48 L200.12,484.60 L200.71,484.71 L201.29,484.83 L201.87,484.94 L202.46,485.06 L203.04,485.17 L203.62,485.28 L204.21,485.38 L204.79,485.49 L205.37,485.60 L205.95,485.70 L206.54,485.81 L207.12,485.91 L207.70,486.01 L208.29,486.11 L208.87,486.21 L209.45,486.31 L210.04,486.40 L210.62,486.50 L211.20,486.59 L211.79,486.69 L212.37,486.78 L212.95,486.87 L213.54,486.96 L214.12,487.05 L214.70,487.14 L215.29,487.22 L215.87,487.31 L216.45,487.39 L217.04,487.48 L217.62,487.56 L218.20,487.64 L218.78,487.72 L219.37,487.80 L219.95,487.88 L220.53,487.96 L221.12,488.04 L221.70,488.11 L222.28,488.19 L222.87,488.26 L223.45,488.34 L224.03,488.41 L224.62,488.48 L225.20,488.55 L225.78,488.62 L226.37,488.69 L226.95,488.76 L227.53,488.83 L228.12,488.90 L228.70,488.96 L229.28,489.03 L229.86,489.09 L230.45,489.16 L231.03,489.22 L231.61,489.28 L232.20,489.35 L232.78,489.41 L233.36,489.47 L233.95,489.53 L234.53,489.59 L235.11,489.65 L235.70,489.70 L236.28,489.76 L236.86,489.82 L237.45,489.87 L238.03,489.93 L238.61,489.98 L239.20,490.04 L239.78,490.09 L240.36,490.14 L240.94,490.20 L241.53,490.25 L242.11,490.30 L242.69,490.35 L243.28,490.40 L243.86,490.45 L244.44,490.50 L245.03,490.54 L245.61,490.59 L246.19,490.64 L246.78,490.69 L247.36,490.73 L247.94,490.78 L248.53,490.82 L249.11,490.87 L249.69,490.91 L250.28,490.95 L250.86,491.00 L251.44,491.04 L252.03,491.08 L252.61,491.12 L253.19,491.16 L253.77,491.20 L254.36,491.24 L254.94,491.28 L255.52,491.32 L256.11,491.36 L256.69,491.40 L257.27,491.44 L257.86,491.47 L258.44,491.51 L259.02,491.55 L259.61,491.58 L260.19,491.62 L260.77,491.65 L261.36,491.69 L261.94,491.72 L262.52,491.76 L263.11,491.79 L263.69,491.82 L264.27,491.86 L264.85,491.89 L265.44,491.92 L266.02,491.95 L266.60,491.98 L267.19,492.02 L267.77,492.05 L268.35,492.08 L268.94,492.11 L269.52,492.14 L270.10,492.16 L270.69,492.19 L271.27,492.22 L271.85,492.25 L272.44,492.28 L273.02,492.31 L273.60,492.33 L274.19,492.36 L274.77,492.39 L275.35,492.41 L275.93,492.44 L276.52,492.46 L277.10,492.49 L277.68,492.51 L278.27,492.54 L278.85,492.56 L279.43,492.59 L280.02,492.61 L280.60,492.64 L281.18,492.66 L281.77,492.68 L282.35,492.71 L282.93,492.73 L283.52,492.75 L284.10,492.77 L284.68,492.79 L285.27,492.82 L285.85,492.84 L286.43,492.86 L287.02,492.88 L287.60,492.90 L288.18,492.92 L288.76,492.94 L289.35,492.96 L289.93,492.98 L290.51,493.00 L291.10,493.02 L291.68,493.04 L292.26,493.06 L292.85,493.08 L293.43,493.09 L294.01,493.11 L294.60,493.13 L295.18,493.15 L295.76,493.17 L296.35,493.18 L296.93,493.20 L297.51,493.22 L298.10,493.23 L298.68,493.25 L299.26,493.27 L299.84,493.28 L300.43,493.30 L301.01,493.32 L301.59,493.33 L302.18,493.35 L302.76,493.36 L303.34,493.38 L303.93,493.39 L304.51,493.41 L305.09,493.42 L305.68,493.44 L306.26,493.45 L306.84,493.47 L307.43,493.48 L308.01,493.49 L308.59,493.51 L309.18,493.52 L309.76,493.54 L310.34,493.55 L310.92,493.56 L311.51,493.57 L312.09,493.59 L312.67,493.60 L313.26,493.61 L313.84,493.63 L314.42,493.64 L315.01,493.65 L315.59,493.66 L316.17,493.68 L316.76,493.69 L317.34,493.70 L317.92,493.71 L318.51,493.72 L319.09,493.73 L319.67,493.75 L320.26,493.76 L320.84,493.77 L321.42,493.78 L322.01,493.79 L322.59,493.80 L323.17,493.81 L323.75,493.82 L324.34,493.83 L324.92,493.84 L325.50,493.85 L326.09,493.86 L326.67,493.87 L327.25,493.88 L327.84,493.89 L328.42,493.90 L329.00,493.91 L329.59,493.92 L330.17,493.93 L330.75,493.94 L331.34,493.95 L331.92,493.96 L332.50,493.97 L333.09,493.98 L333.67,493.98 L334.25,493.99 L334.83,494.00 L335.42,494.01 L336.00,494.02 L336.58,494.03 L337.17,494.04 L337.75,494.04 L338.33,494.05 L338.92,494.06 L339.50,494.07" fill="none" stroke="#0000CD" stroke-width="1.8" stroke-linejoin="round"/>
<path d="M48.50,494.90 L49.08,494.90 L49.67,494.90 L50.25,494.90 L50.83,494.90 L51.42,494.90 L52.00,494.90 L52.58,494.90 L53.17,494.90 L53.75,494.90 L54.33,494.90 L54.91,494.88 L55.50,494.81 L56.08,494.62 L56.66,494.26 L57.25,493.68 L57.83,492.85 L58.41,491.76 L59.00,490.40 L59.58,488.76 L60.16,486.85 L60.75,484.70 L61.33,482.31 L61.91,479.72 L62.50,476.94 L63.08,474.01 L63.66,470.94 L64.25,467.78 L64.83,464.53 L65.41,461.22 L65.99,457.86 L66.58,454.49 L67.16,451.13 L67.74,447.79 L68.33,444.50 L68.91,441.28 L69.49,438.13 L70.08,435.07 L70.66,432.12 L71.24,429.29 L71.83,426.58 L72.41,424.01 L72.99,421.57 L73.58,419.29 L74.16,417.15 L74.74,415.16 L75.33,413.33 L75.91,411.66 L76.49,410.14 L77.08,408.78 L77.66,407.56 L78.24,406.50 L78.82,405.57 L79.41,404.78 L79.99,404.13 L80.57,403.60 L81.16,403.18 L81.74,402.88 L82.32,402.67 L82.91,402.56 L83.49,402.53 L84.07,402.57 L84.66,402.67 L85.24,402.83 L85.82,403.04 L86.41,403.31 L86.99,403.63 L87.57,403.99 L88.16,404.39 L88.74,404.83 L89.32,405.31 L89.90,405.82 L90.49,406.36 L91.07,406.94 L91.65,407.53 L92.24,408.16 L92.82,408.81 L93.40,409.47 L93.99,410.16 L94.57,410.87 L95.15,411.59 L95.74,412.32 L96.32,413.07 L96.90,413.83 L97.49,414.60 L98.07,415.38 L98.65,416.16 L99.24,416.95 L99.82,417.75 L100.40,418.55 L100.98,419.35 L101.57,420.16 L102.15,420.96 L102.73,421.77 L103.32,422.58 L103.90,423.38 L104.48,424.19 L105.07,424.99 L105.65,425.79 L106.23,426.59 L106.82,427.38 L107.40,428.17 L107.98,428.95 L108.57,429.73 L109.15,430.50 L109.73,431.27 L110.32,432.03 L110.90,432.79 L111.48,433.54 L112.07,434.28 L112.65,435.01 L113.23,435.74 L113.81,436.46 L114.40,437.17 L114.98,437.88 L115.56,438.57 L116.15,439.26 L116.73,439.94 L117.31,440.61 L117.90,441.27 L118.48,441.93 L119.06,442.58 L119.65,443.21 L120.23,443.84 L120.81,444.46 L121.40,445.08 L121.98,445.68 L122.56,446.28 L123.15,446.87 L123.73,447.45 L124.31,448.02 L124.89,448.58 L125.48,449.14 L126.06,449.69 L126.64,450.23 L127.23,450.77 L127.81,451.30 L128.39,451.82 L128.98,452.33 L129.56,452.84 L130.14,453.34 L130.73,453.83 L131.31,454.32 L131.89,454.80 L132.48,455.28 L133.06,455.75 L133.64,456.21 L134.23,456.67 L134.81,457.12 L135.39,457.57 L135.97,458.01 L136.56,458.45 L137.14,458.88 L137.72,459.31 L138.31,459.73 L138.89,460.15 L139.47,460.56 L140.06,460.96 L140.64,461.37 L141.22,461.77 L141.81,462.16 L142.39,462.55 L142.97,462.94 L143.56,463.32 L144.14,463.69 L144.72,464.07 L145.31,464.44 L145.89,464.80 L146.47,465.16 L147.06,465.52 L147.64,465.87 L148.22,466.22 L148.80,466.57 L149.39,466.91 L149.97,467.25 L150.55,467.58 L151.14,467.91 L151.72,468.24 L152.30,468.57 L152.89,468.89 L153.47,469.20 L154.05,469.52 L154.64,469.82 L155.22,470.13 L155.80,470.43 L156.39,470.73 L156.97,471.03 L157.55,471.32 L158.14,471.61 L158.72,471.90 L159.30,472.18 L159.88,472.46 L160.47,472.74 L161.05,473.01 L161.63,473.28 L162.22,473.54 L162.80,473.81 L163.38,474.07 L163.97,474.33 L164.55,474.58 L165.13,474.83 L165.72,475.08 L166.30,475.32 L166.88,475.57 L167.47,475.80 L168.05,476.04 L168.63,476.27 L169.22,476.50 L169.80,476.73 L170.38,476.96 L170.96,477.18 L171.55,477.40 L172.13,477.62 L172.71,477.83 L173.30,478.04 L173.88,478.25 L174.46,478.46 L175.05,478.66 L175.63,478.86 L176.21,479.06 L176.80,479.26 L177.38,479.45 L177.96,479.64 L178.55,479.83 L179.13,480.02 L179.71,480.20 L180.30,480.39 L180.88,480.57 L181.46,480.75 L182.05,480.92 L182.63,481.09 L183.21,481.27 L183.79,481.44 L184.38,481.60 L184.96,481.77 L185.54,481.93 L186.13,482.09 L186.71,482.25 L187.29,482.41 L187.88,482.56 L188.46,482.72 L189.04,482.87 L189.63,483.02 L190.21,483.16 L190.79,483.31 L191.38,483.45 L191.96,483.60 L192.54,483.74 L193.13,483.87 L193.71,484.01 L194.29,484.15 L194.87,484.28 L195.46,484.41 L196.04,484.54 L196.62,484.67 L197.21,484.80 L197.79,484.92 L198.37,485.05 L198.96,485.17 L199.54,485.29 L200.12,485.41 L200.71,485.52 L201.29,485.64 L201.87,485.75 L202.46,485.87 L203.04,485.98 L203.62,486.09 L204.21,486.20 L204.79,486.31 L205.37,486.41 L205.95,486.52 L206.54,486.62 L207.12,486.72 L207.70,486.82 L208.29,486.92 L208.87,487.02 L209.45,487.12 L210.04,487.21 L210.62,487.31 L211.20,487.40 L211.79,487.49 L212.37,487.58 L212.95,487.67 L213.54,487.76 L214.12,487.85 L214.70,487.93 L215.29,488.02 L215.87,488.10 L216.45,488.19 L217.04,488.27 L217.62,488.35 L218.20,488.43 L218.78,488.51 L219.37,488.59 L219.95,488.66 L220.53,488.74 L221.12,488.81 L221.70,488.89 L222.28,488.96 L222.87,489.03 L223.45,489.10 L224.03,489.17 L224.62,489.24 L225.20,489.31 L225.78,489.38 L226.37,489.44 L226.95,489.51 L227.53,489.57 L228.12,489.64 L228.70,489.70 L229.28,489.76 L229.86,489.82 L230.45,489.88 L231.03,489.94 L231.61,490.00 L232.20,490.06 L232.78,490.12 L233.36,490.18 L233.95,490.23 L234.53,490.29 L235.11,490.34 L235.70,490.40 L236.28,490.45 L236.86,490.50 L237.45,490.55 L238.03,490.60 L238.61,490.65 L239.20,490.70 L239.78,490.75 L240.36,490.80 L240.94,490.85 L241.53,490.90 L242.11,490.94 L242.69,490.99 L243.28,491.04 L243.86,491.08 L244.44,491.12 L245.03,491.17 L245.61,491.21 L246.19,491.25 L246.78,491.30 L247.36,491.34 L247.94,491.38 L248.53,491.42 L249.11,491.46 L249.69,491.50 L250.28,491.54 L250.86,491.58 L251.44,491.61 L252.03,491.65 L252.61,491.69 L253.19,491.72 L253.77,491.76 L254.36,491.79 L254.94,491.83 L255.52,491.86 L256.11,491.90 L256.69,491.93 L257.27,491.96 L257.86,492.00 L258.44,492.03 L259.02,492.06 L259.61,492.09 L260.19,492.12 L260.77,492.15 L261.36,492.18 L261.94,492.21 L262.52,492.24 L263.11,492.27 L263.69,492.30 L264.27,492.33 L264.85,492.36 L265.44,492.38 L266.02,492.41 L266.60,492.44 L267.19,492.46 L267.77,492.49 L268.35,492.52 L268.94,492.54 L269.52,492.57 L270.10,492.59 L270.69,492.61 L271.27,492.64 L271.85,492.66 L272.44,492.69 L273.02,492.71 L273.60,492.73 L274.19,492.75 L274.77,492.78 L275.35,492.80 L275.93,492.82 L276.52,492.84 L277.10,492.86 L277.68,492.88 L278.27,492.90 L278.85,492.92 L279.43,492.94 L280.02,492.96 L280.60,492.98 L281.18,493.00 L281.77,493.02 L282.35,493.04 L282.93,493.06 L283.52,493.07 L284.10,493.09 L284.68,493.11 L285.27,493.13 L285.85,493.14 L286.43,493.16 L287.02,493.18 L287.60,493.19 L288.18,493.21 L288.76,493.23 L289.35,493.24 L289.93,493.26 L290.51,493.27 L291.10,493.29 L291.68,493.30 L292.26,493.32 L292.85,493.33 L293.43,493.35 L294.01,493.36 L294.60,493.38 L295.18,493.39 L295.76,493.40 L296.35,493.42 L296.93,493.43 L297.51,493.44 L298.10,493.46 L298.68,493.47 L299.26,493.48 L299.84,493.49 L300.43,493.51 L301.01,493.52 L301.59,493.53 L302.18,493.54 L302.76,493.55 L303.34,493.57 L303.93,493.58 L304.51,493.59 L305.09,493.60 L305.68,493.61 L306.26,493.62 L306.84,493.63 L307.43,493.64 L308.01,493.65 L308.59,493.66 L309.18,493.67 L309.76,493.68 L310.34,493.69 L310.92,493.70 L311.51,493.71 L312.09,493.72 L312.67,493.73 L313.26,493.74 L313.84,493.75 L314.42,493.76 L315.01,493.77 L315.59,493.78 L316.17,493.79 L316.76,493.80 L317.34,493.80 L317.92,493.81 L318.51,493.82 L319.09,493.83 L319.67,493.84 L320.26,493.84 L320.84,493.85 L321.42,493.86 L322.01,493.87 L322.59,493.88 L323.17,493.88 L323.75,493.89 L324.34,493.90 L324.92,493.91 L325.50,493.91 L326.09,493.92 L326.67,493.93 L327.25,493.93 L327.84,493.94 L328.42,493.95 L329.00,493.95 L329.59,493.96 L330.17,493.97 L330.75,493.97 L331.34,493.98 L331.92,493.99 L332.50,493.99 L333.09,494.00 L333.67,494.00 L334.25,494.01 L334.83,494.02 L335.42,494.02 L336.00,494.03 L336.58,494.03 L337.17,494.04 L337.75,494.04 L338.33,494.05 L338.92,494.05 L339.50,494.06" fill="none" stroke="#1874CD" stroke-width="1.5" stroke-linejoin="round"/>
<path d="M48.50,494.90 L49.08,494.90 L49.67,494.90 L50.25,494.90 L50.83,494.90 L51.42,494.90 L52.00,494.90 L52.58,494.90 L53.17,494.90 L53.75,494.90 L54.33,494.90 L54.91,494.87 L55.50,494.78 L56.08,494.57 L56.66,494.20 L57.25,493.64 L57.83,492.86 L58.41,491.87 L59.00,490.65 L59.58,489.22 L60.16,487.57 L60.75,485.72 L61.33,483.69 L61.91,481.49 L62.50,479.15 L63.08,476.68 L63.66,474.10 L64.25,471.43 L64.83,468.69 L65.41,465.89 L65.99,463.02 L66.58,460.11 L67.16,457.18 L67.74,454.24 L68.33,451.31 L68.91,448.40 L69.49,445.52 L70.08,442.70 L70.66,439.93 L71.24,437.23 L71.83,434.61 L72.41,432.08 L72.99,429.65 L73.58,427.33 L74.16,425.13 L74.74,423.05 L75.33,421.09 L75.91,419.26 L76.49,417.57 L77.08,416.01 L77.66,414.59 L78.24,413.30 L78.82,412.15 L79.41,411.13 L79.99,410.25 L80.57,409.48 L81.16,408.84 L81.74,408.32 L82.32,407.91 L82.91,407.61 L83.49,407.41 L84.07,407.29 L84.66,407.25 L85.24,407.27 L85.82,407.37 L86.41,407.52 L86.99,407.73 L87.57,408.00 L88.16,408.31 L88.74,408.67 L89.32,409.08 L89.90,409.52 L90.49,410.00 L91.07,410.52 L91.65,411.06 L92.24,411.64 L92.82,412.24 L93.40,412.87 L93.99,413.52 L94.57,414.20 L95.15,414.89 L95.74,415.60 L96.32,416.32 L96.90,417.06 L97.49,417.81 L98.07,418.57 L98.65,419.34 L99.24,420.12 L99.82,420.90 L100.40,421.68 L100.98,422.48 L101.57,423.27 L102.15,424.06 L102.73,424.86 L103.32,425.65 L103.90,426.45 L104.48,427.24 L105.07,428.03 L105.65,428.82 L106.23,429.60 L106.82,430.38 L107.40,431.16 L107.98,431.93 L108.57,432.69 L109.15,433.45 L109.73,434.20 L110.32,434.95 L110.90,435.68 L111.48,436.41 L112.07,437.14 L112.65,437.85 L113.23,438.56 L113.81,439.26 L114.40,439.95 L114.98,440.64 L115.56,441.31 L116.15,441.98 L116.73,442.64 L117.31,443.28 L117.90,443.92 L118.48,444.56 L119.06,445.18 L119.65,445.79 L120.23,446.40 L120.81,446.99 L121.40,447.58 L121.98,448.16 L122.56,448.73 L123.15,449.29 L123.73,449.84 L124.31,450.39 L124.89,450.92 L125.48,451.45 L126.06,451.97 L126.64,452.49 L127.23,452.99 L127.81,453.49 L128.39,453.99 L128.98,454.47 L129.56,454.95 L130.14,455.42 L130.73,455.89 L131.31,456.34 L131.89,456.80 L132.48,457.24 L133.06,457.68 L133.64,458.12 L134.23,458.55 L134.81,458.97 L135.39,459.39 L135.97,459.80 L136.56,460.21 L137.14,460.61 L137.72,461.01 L138.31,461.40 L138.89,461.79 L139.47,462.18 L140.06,462.55 L140.64,462.93 L141.22,463.30 L141.81,463.67 L142.39,464.03 L142.97,464.39 L143.56,464.74 L144.14,465.10 L144.72,465.44 L145.31,465.79 L145.89,466.13 L146.47,466.46 L147.06,466.80 L147.64,467.13 L148.22,467.45 L148.80,467.77 L149.39,468.09 L149.97,468.41 L150.55,468.72 L151.14,469.03 L151.72,469.34 L152.30,469.64 L152.89,469.94 L153.47,470.24 L154.05,470.53 L154.64,470.82 L155.22,471.11 L155.80,471.39 L156.39,471.67 L156.97,471.95 L157.55,472.23 L158.14,472.50 L158.72,472.77 L159.30,473.03 L159.88,473.30 L160.47,473.56 L161.05,473.81 L161.63,474.07 L162.22,474.32 L162.80,474.57 L163.38,474.81 L163.97,475.05 L164.55,475.29 L165.13,475.53 L165.72,475.77 L166.30,476.00 L166.88,476.23 L167.47,476.45 L168.05,476.68 L168.63,476.90 L169.22,477.12 L169.80,477.33 L170.38,477.54 L170.96,477.76 L171.55,477.96 L172.13,478.17 L172.71,478.37 L173.30,478.57 L173.88,478.77 L174.46,478.97 L175.05,479.16 L175.63,479.35 L176.21,479.54 L176.80,479.73 L177.38,479.92 L177.96,480.10 L178.55,480.28 L179.13,480.46 L179.71,480.63 L180.30,480.81 L180.88,480.98 L181.46,481.15 L182.05,481.32 L182.63,481.48 L183.21,481.65 L183.79,481.81 L184.38,481.97 L184.96,482.13 L185.54,482.28 L186.13,482.44 L186.71,482.59 L187.29,482.74 L187.88,482.89 L188.46,483.04 L189.04,483.18 L189.63,483.33 L190.21,483.47 L190.79,483.61 L191.38,483.75 L191.96,483.88 L192.54,484.02 L193.13,484.15 L193.71,484.28 L194.29,484.41 L194.87,484.54 L195.46,484.67 L196.04,484.80 L196.62,484.92 L197.21,485.04 L197.79,485.16 L198.37,485.28 L198.96,485.40 L199.54,485.52 L200.12,485.63 L200.71,485.75 L201.29,485.86 L201.87,485.97 L202.46,486.08 L203.04,486.19 L203.62,486.30 L204.21,486.40 L204.79,486.51 L205.37,486.61 L205.95,486.71 L206.54,486.81 L207.12,486.91 L207.70,487.01 L208.29,487.11 L208.87,487.20 L209.45,487.30 L210.04,487.39 L210.62,487.48 L211.20,487.57 L211.79,487.66 L212.37,487.75 L212.95,487.84 L213.54,487.92 L214.12,488.01 L214.70,488.09 L215.29,488.18 L215.87,488.26 L216.45,488.34 L217.04,488.42 L217.62,488.50 L218.20,488.58 L218.78,488.66 L219.37,488.73 L219.95,488.81 L220.53,488.88 L221.12,488.96 L221.70,489.03 L222.28,489.10 L222.87,489.17 L223.45,489.24 L224.03,489.31 L224.62,489.38 L225.20,489.45 L225.78,489.51 L226.37,489.58 L226.95,489.64 L227.53,489.71 L228.12,489.77 L228.70,489.83 L229.28,489.89 L229.86,489.96 L230.45,490.02 L231.03,490.07 L231.61,490.13 L232.20,490.19 L232.78,490.25 L233.36,490.30 L233.95,490.36 L234.53,490.42 L235.11,490.47 L235.70,490.52 L236.28,490.58 L236.86,490.63 L237.45,490.68 L238.03,490.73 L238.61,490.78 L239.20,490.83 L239.78,490.88 L240.36,490.93 L240.94,490.98 L241.53,491.02 L242.11,491.07 L242.69,491.12 L243.28,491.16 L243.86,491.21 L244.44,491.25 L245.03,491.29 L245.61,491.34 L246.19,491.38 L246.78,491.42 L247.36,491.46 L247.94,491.50 L248.53,491.54 L249.11,491.58 L249.69,491.62 L250.28,491.66 L250.86,491.70 L251.44,491.74 L252.03,491.78 L252.61,491.81 L253.19,491.85 L253.77,491.89 L254.36,491.92 L254.94,491.96 L255.52,491.99 L256.11,492.02 L256.69,492.06 L257.27,492.09 L257.86,492.12 L258.44,492.16 L259.02,492.19 L259.61,492.22 L260.19,492.25 L260.77,492.28 L261.36,492.31 L261.94,492.34 L262.52,492.37 L263.11,492.40 L263.69,492.43 L264.27,492.45 L264.85,492.48 L265.44,492.51 L266.02,492.54 L266.60,492.56 L267.19,492.59 L267.77,492.61 L268.35,492.64 L268.94,492.66 L269.52,492.69 L270.10,492.71 L270.69,492.74 L271.27,492.76 L271.85,492.78 L272.44,492.81 L273.02,492.83 L273.60,492.85 L274.19,492.88 L274.77,492.90 L275.35,492.92 L275.93,492.94 L276.52,492.96 L277.10,492.98 L277.68,493.00 L278.27,493.02 L278.85,493.04 L279.43,493.06 L280.02,493.08 L280.60,493.10 L281.18,493.12 L281.77,493.14 L282.35,493.15 L282.93,493.17 L283.52,493.19 L284.10,493.21 L284.68,493.22 L285.27,493.24 L285.85,493.26 L286.43,493.27 L287.02,493.29 L287.60,493.31 L288.18,493.32 L288.76,493.34 L289.35,493.35 L289.93,493.37 L290.51,493.38 L291.10,493.40 L291.68,493.41 L292.26,493.43 L292.85,493.44 L293.43,493.46 L294.01,493.47 L294.60,493.48 L295.18,493.50 L295.76,493.51 L296.35,493.52 L296.93,493.54 L297.51,493.55 L298.10,493.56 L298.68,493.57 L299.26,493.59 L299.84,493.60 L300.43,493.61 L301.01,493.62 L301.59,493.63 L302.18,493.65 L302.76,493.66 L303.34,493.67 L303.93,493.68 L304.51,493.69 L305.09,493.70 L305.68,493.71 L306.26,493.72 L306.84,493.73 L307.43,493.74 L308.01,493.75 L308.59,493.76 L309.18,493.77 L309.76,493.78 L310.34,493.79 L310.92,493.80 L311.51,493.81 L312.09,493.82 L312.67,493.83 L313.26,493.84 L313.84,493.85 L314.42,493.86 L315.01,493.87 L315.59,493.88 L316.17,493.89 L316.76,493.89 L317.34,493.90 L317.92,493.91 L318.51,493.92 L319.09,493.93 L319.67,493.94 L320.26,493.94 L320.84,493.95 L321.42,493.96 L322.01,493.97 L322.59,493.97 L323.17,493.98 L323.75,493.99 L324.34,494.00 L324.92,494.00 L325.50,494.01 L326.09,494.02 L326.67,494.02 L327.25,494.03 L327.84,494.04 L328.42,494.05 L329.00,494.05 L329.59,494.06 L330.17,494.06 L330.75,494.07 L331.34,494.08 L331.92,494.08 L332.50,494.09 L333.09,494.10 L333.67,494.10 L334.25,494.11 L334.83,494.11 L335.42,494.12 L336.00,494.13 L336.58,494.13 L337.17,494.14 L337.75,494.14 L338.33,494.15 L338.92,494.15 L339.50,494.16" fill="none" stroke="#00B2EE" stroke-width="1.5" stroke-linejoin="round"/>
<path d="M59.91,473.02 V427.02 M57.91,473.02 H61.91 M57.91,427.02 H61.91" stroke="#3535d8" stroke-width="1.2" fill="none"/>
<path d="M65.62,443.27 V413.71 M63.62,443.27 H67.62 M63.62,413.71 H67.62" stroke="#3535d8" stroke-width="1.2" fill="none"/>
<path d="M71.32,439.52 V396.65 M69.32,439.52 H73.32 M69.32,396.65 H73.32" stroke="#3535d8" stroke-width="1.2" fill="none"/>
<path d="M77.03,427.91 V363.25 M75.03,427.91 H79.03 M75.03,363.25 H79.03" stroke="#3535d8" stroke-width="1.2" fill="none"/>
<path d="M88.44,444.08 V382.00 M86.44,444.08 H90.44 M86.44,382.00 H90.44" stroke="#3535d8" stroke-width="1.2" fill="none"/>
<path d="M99.85,447.03 V402.90 M97.85,447.03 H101.85 M97.85,402.90 H101.85" stroke="#3535d8" stroke-width="1.2" fill="none"/>
<path d="M111.26,458.01 V420.77 M109.26,458.01 H113.26 M109.26,420.77 H113.26" stroke="#3535d8" stroke-width="1.2" fill="none"/>
<path d="M122.68,468.02 V443.99 M120.68,468.02 H124.68 M120.68,443.99 H124.68" stroke="#3535d8" stroke-width="1.2" fill="none"/>
<path d="M145.50,478.82 V464.53 M143.50,478.82 H147.50 M143.50,464.53 H147.50" stroke="#3535d8" stroke-width="1.2" fill="none"/>
<path d="M59.91,463.64 V424.87 M57.91,463.64 H61.91 M57.91,424.87 H61.91" stroke="#3a86d6" stroke-width="1.0" fill="none"/>
<path d="M65.62,413.44 V379.14 M63.62,413.44 H67.62 M63.62,379.14 H67.62" stroke="#3a86d6" stroke-width="1.0" fill="none"/>
<path d="M71.32,425.23 V377.54 M69.32,425.23 H73.32 M69.32,377.54 H73.32" stroke="#3a86d6" stroke-width="1.0" fill="none"/>
<path d="M77.03,426.30 V377.54 M75.03,426.30 H79.03 M75.03,377.54 H79.03" stroke="#3a86d6" stroke-width="1.0" fill="none"/>
<path d="M88.44,427.91 V382.36 M86.44,427.91 H90.44 M86.44,382.36 H90.44" stroke="#3a86d6" stroke-width="1.0" fill="none"/>
<path d="M99.85,447.03 V407.37 M97.85,447.03 H101.85 M97.85,407.37 H101.85" stroke="#3a86d6" stroke-width="1.0" fill="none"/>
<path d="M111.26,458.01 V418.98 M109.26,458.01 H113.26 M109.26,418.98 H113.26" stroke="#3a86d6" stroke-width="1.0" fill="none"/>
<path d="M122.68,468.02 V443.99 M120.68,468.02 H124.68 M120.68,443.99 H124.68" stroke="#3a86d6" stroke-width="1.0" fill="none"/>
<path d="M145.50,479.00 V460.96 M143.50,479.00 H147.50 M143.50,460.96 H147.50" stroke="#3a86d6" stroke-width="1.0" fill="none"/>
<path d="M168.32,485.97 V476.14 M166.32,485.97 H170.32 M166.32,476.14 H170.32" stroke="#3a86d6" stroke-width="1.0" fill="none"/>
<path d="M59.91,465.60 V420.94 M57.91,465.60 H61.91 M57.91,420.94 H61.91" stroke="#2cbcee" stroke-width="1.0" fill="none"/>
<path d="M65.62,461.05 V415.41 M63.62,461.05 H67.62 M63.62,415.41 H67.62" stroke="#2cbcee" stroke-width="1.0" fill="none"/>
<path d="M71.32,455.60 V413.62 M69.32,455.60 H73.32 M69.32,413.62 H73.32" stroke="#2cbcee" stroke-width="1.0" fill="none"/>
<path d="M77.03,451.04 V412.73 M75.03,451.04 H79.03 M75.03,412.73 H79.03" stroke="#2cbcee" stroke-width="1.0" fill="none"/>
<path d="M88.44,454.08 V392.09 M86.44,454.08 H90.44 M86.44,392.09 H90.44" stroke="#2cbcee" stroke-width="1.0" fill="none"/>
<circle cx="59.91" cy="449.08" r="3.5" fill="#0000CD"/>
<circle cx="65.62" cy="428.45" r="3.5" fill="#0000CD"/>
<circle cx="71.32" cy="418.44" r="3.5" fill="#0000CD"/>
<circle cx="77.03" cy="398.08" r="3.5" fill="#0000CD"/>
<circle cx="88.44" cy="413.00" r="3.5" fill="#0000CD"/>
<circle cx="99.85" cy="425.05" r="3.5" fill="#0000CD"/>
<circle cx="111.26" cy="439.61" r="3.5" fill="#0000CD"/>
<circle cx="122.68" cy="452.92" r="3.5" fill="#0000CD"/>
<circle cx="145.50" cy="471.68" r="3.5" fill="#0000CD"/>
<circle cx="168.32" cy="481.50" r="3.5" fill="#0000CD"/>
<circle cx="191.15" cy="487.31" r="3.5" fill="#0000CD"/>
<circle cx="213.97" cy="490.43" r="3.5" fill="#0000CD"/>
<circle cx="59.91" cy="447.03" r="3.5" fill="#1874CD"/>
<circle cx="65.62" cy="406.12" r="3.5" fill="#1874CD"/>
<circle cx="71.32" cy="401.38" r="3.5" fill="#1874CD"/>
<circle cx="77.03" cy="401.38" r="3.5" fill="#1874CD"/>
<circle cx="88.44" cy="405.05" r="3.5" fill="#1874CD"/>
<circle cx="99.85" cy="417.46" r="3.5" fill="#1874CD"/>
<circle cx="111.26" cy="435.06" r="3.5" fill="#1874CD"/>
<circle cx="122.68" cy="451.67" r="3.5" fill="#1874CD"/>
<circle cx="145.50" cy="469.98" r="3.5" fill="#1874CD"/>
<circle cx="168.32" cy="481.06" r="3.5" fill="#1874CD"/>
<circle cx="191.15" cy="487.04" r="3.5" fill="#1874CD"/>
<circle cx="213.97" cy="489.63" r="3.5" fill="#1874CD"/>
<circle cx="59.91" cy="458.64" r="3.5" fill="#00B2EE"/>
<circle cx="65.62" cy="438.09" r="3.5" fill="#00B2EE"/>
<circle cx="71.32" cy="434.43" r="3.5" fill="#00B2EE"/>
<circle cx="77.03" cy="431.84" r="3.5" fill="#00B2EE"/>
<circle cx="88.44" cy="423.36" r="3.5" fill="#00B2EE"/>
<circle cx="99.85" cy="406.56" r="3.5" fill="#00B2EE"/>
<circle cx="111.26" cy="417.46" r="3.5" fill="#00B2EE"/>
<circle cx="122.68" cy="441.31" r="3.5" fill="#00B2EE"/>
<circle cx="145.50" cy="459.44" r="3.5" fill="#00B2EE"/>
<circle cx="168.32" cy="473.02" r="3.5" fill="#00B2EE"/>
<circle cx="191.15" cy="480.88" r="3.5" fill="#00B2EE"/>
<circle cx="213.97" cy="485.08" r="3.5" fill="#00B2EE"/>
<circle cx="215.94" cy="313.50" r="3.6" fill="#0000CD"/>
<text x="231.74" y="318.40" font-size="13">Wang 2008 − GG</text>
<circle cx="215.94" cy="327.90" r="3.6" fill="#1874CD"/>
<text x="231.74" y="332.80" font-size="13">Wang 2008 − GT</text>
<circle cx="215.94" cy="342.30" r="3.6" fill="#00B2EE"/>
<text x="231.74" y="347.20" font-size="13">Wang 2008 − TT</text>
<text x="231.74" y="361.60" font-size="13">n = 6/5/4</text>
<path d="M391.50,494.90 L392.47,490.94 L393.45,486.61 L394.42,481.91 L395.39,476.88 L396.37,471.53 L397.34,465.89 L398.31,459.82 L399.29,453.23 L400.26,446.21 L401.23,438.81 L402.21,431.11 L403.18,423.17 L404.15,415.08 L405.13,406.88 L406.10,398.35 L407.07,389.15 L408.05,380.66 L409.02,372.78 L409.99,365.44 L410.96,359.04 L411.94,353.56 L412.91,348.68 L413.88,344.35 L414.86,340.25 L415.83,336.33 L416.80,333.55 L417.78,332.33 L418.75,331.47 L419.72,331.02 L420.70,331.21 L421.67,332.16 L422.64,333.64 L423.62,335.39 L424.59,337.19 L425.56,338.90 L426.54,340.92 L427.51,343.05 L428.48,345.04 L429.46,346.60 L430.43,347.73 L431.40,349.01 L432.38,351.30 L433.35,355.41 L434.32,358.81 L435.30,361.46 L436.27,363.83 L437.24,366.01 L438.22,368.08 L439.19,369.97 L440.16,371.72 L441.14,373.46 L442.11,375.33 L443.08,377.31 L444.06,379.33 L445.03,381.35 L446.00,383.29 L446.97,385.17 L447.95,387.01 L448.92,388.83 L449.89,390.62 L450.87,392.40 L451.84,394.17 L452.81,395.93 L453.79,397.70 L454.76,399.47 L455.73,401.25 L456.71,403.06 L457.68,404.88 L458.65,406.71 L459.63,408.54 L460.60,410.37 L461.57,412.18 L462.55,413.97 L463.52,415.73 L464.49,417.45 L465.47,419.13 L466.44,420.76 L467.41,422.33 L468.39,423.86 L469.36,425.36 L470.33,426.84 L471.31,428.29 L472.28,429.72 L473.25,431.12 L474.23,432.48 L475.20,433.82 L476.17,435.13 L477.15,436.40 L478.12,437.63 L479.09,438.82 L480.07,439.98 L481.04,441.10 L482.01,442.18 L482.98,443.23 L483.96,444.26 L484.93,445.26 L485.90,446.22 L486.88,447.17 L487.85,448.08 L488.82,448.97 L489.80,449.84 L490.77,450.69 L491.74,451.54 L492.72,452.38 L493.69,453.22 L494.66,454.05 L495.64,454.87 L496.61,455.67 L497.58,456.47 L498.56,457.26 L499.53,458.02 L500.50,458.78 L501.48,459.51 L502.45,460.23 L503.42,460.92 L504.40,461.60 L505.37,462.25 L506.34,462.87 L507.32,463.47 L508.29,464.04 L509.26,464.58 L510.24,465.09 L511.21,465.58 L512.18,466.06 L513.16,466.52 L514.13,466.97 L515.10,467.41 L516.08,467.83 L517.05,468.24 L518.02,468.64 L518.99,469.03 L519.97,469.41 L520.94,469.78 L521.91,470.14 L522.89,470.49 L523.86,470.84 L524.83,471.18 L525.81,471.51 L526.78,471.84 L527.75,472.16 L528.73,472.48 L529.70,472.80 L530.67,473.11 L531.65,473.41 L532.62,473.70 L533.59,473.99 L534.57,474.27 L535.54,474.55 L536.51,474.82 L537.49,475.09 L538.46,475.35 L539.43,475.60 L540.41,475.86 L541.38,476.11 L542.35,476.36 L543.33,476.60 L544.30,476.85 L545.27,477.09 L546.25,477.34 L547.22,477.58 L548.19,477.83 L549.17,478.07 L550.14,478.31 L551.11,478.55 L552.09,478.78 L553.06,479.02 L554.03,479.25 L555.01,479.48 L555.98,479.71 L556.95,479.93 L557.92,480.16 L558.90,480.38 L559.87,480.60 L560.84,480.82 L561.82,481.05 L562.79,481.27 L563.76,481.49 L564.74,481.71 L565.71,481.93 L566.68,482.15 L567.66,482.37 L568.63,482.59 L569.60,482.81 L570.58,483.03 L571.55,483.26 L572.52,483.48 L573.50,483.72 L574.47,483.96 L575.44,484.21 L576.42,484.46 L577.39,484.73 L578.36,484.99 L579.34,485.26 L580.31,485.53 L581.28,485.80 L582.26,486.07 L583.23,486.35 L584.20,486.61 L585.18,486.88 L586.15,487.14 L587.12,487.40 L588.10,487.65 L589.07,487.90 L590.04,488.14 L591.02,488.37 L591.99,488.59 L592.96,488.80 L593.93,488.99 L594.91,489.18 L595.88,489.35 L596.85,489.51 L597.83,489.65 L598.80,489.77 L599.77,489.88 L600.75,489.97 L601.72,490.04 L602.69,490.11 L603.67,490.18 L604.64,490.25 L605.61,490.32 L606.59,490.39 L607.56,490.46 L608.53,490.53 L609.51,490.59 L610.48,490.66 L611.45,490.73 L612.43,490.79 L613.40,490.85 L614.37,490.92 L615.35,490.98 L616.32,491.04 L617.29,491.10 L618.27,491.16 L619.24,491.22 L620.21,491.28 L621.19,491.33 L622.16,491.39 L623.13,491.44 L624.11,491.50 L625.08,491.55 L626.05,491.60 L627.03,491.66 L628.00,491.71 L628.97,491.76 L629.94,491.81 L630.92,491.86 L631.89,491.90 L632.86,491.95 L633.84,492.00 L634.81,492.04 L635.78,492.09 L636.76,492.13 L637.73,492.17 L638.70,492.22 L639.68,492.26 L640.65,492.30 L641.62,492.34 L642.60,492.37 L643.57,492.41 L644.54,492.45 L645.52,492.48 L646.49,492.52 L647.46,492.55 L648.44,492.59 L649.41,492.62 L650.38,492.65 L651.36,492.68 L652.33,492.71 L653.30,492.74 L654.28,492.77 L655.25,492.79 L656.22,492.82 L657.20,492.84 L658.17,492.87 L659.14,492.89 L660.12,492.91 L661.09,492.93 L662.06,492.95 L663.04,492.97 L664.01,492.99 L664.98,493.01 L665.95,493.03 L666.93,493.04 L667.90,493.06 L668.87,493.07 L669.85,493.08 L670.82,493.10 L671.79,493.11 L672.77,493.12 L673.74,493.13 L674.71,493.14 L675.69,493.14 L676.66,493.15 L677.63,493.15 L678.61,493.16 L679.58,493.16 L680.55,493.16 L681.53,493.17 L682.50,493.17 L682.50,494.32 L681.53,494.32 L680.55,494.32 L679.58,494.32 L678.61,494.32 L677.63,494.31 L676.66,494.31 L675.69,494.31 L674.71,494.31 L673.74,494.30 L672.77,494.30 L671.79,494.29 L670.82,494.29 L669.85,494.29 L668.87,494.28 L667.90,494.27 L666.93,494.27 L665.95,494.26 L664.98,494.26 L664.01,494.25 L663.04,494.24 L662.06,494.24 L661.09,494.23 L660.12,494.22 L659.14,494.22 L658.17,494.21 L657.20,494.20 L656.22,494.19 L655.25,494.18 L654.28,494.17 L653.30,494.16 L652.33,494.16 L651.36,494.15 L650.38,494.14 L649.41,494.13 L648.44,494.12 L647.46,494.11 L646.49,494.09 L645.52,494.08 L644.54,494.07 L643.57,494.06 L642.60,494.05 L641.62,494.04 L640.65,494.03 L639.68,494.02 L638.70,494.00 L637.73,493.99 L636.76,493.98 L635.78,493.97 L634.81,493.95 L633.84,493.94 L632.86,493.93 L631.89,493.92 L630.92,493.90 L629.94,493.89 L628.97,493.88 L628.00,493.86 L627.03,493.85 L626.05,493.84 L625.08,493.82 L624.11,493.81 L623.13,493.79 L622.16,493.78 L621.19,493.77 L620.21,493.75 L619.24,493.74 L618.27,493.72 L617.29,493.71 L616.32,493.69 L615.35,493.68 L614.37,493.66 L613.40,493.65 L612.43,493.63 L611.45,493.62 L610.48,493.60 L609.51,493.59 L608.53,493.57 L607.56,493.56 L606.59,493.54 L605.61,493.53 L604.64,493.51 L603.67,493.50 L602.69,493.48 L601.72,493.47 L600.75,493.45 L599.77,493.44 L598.80,493.42 L597.83,493.40 L596.85,493.39 L595.88,493.37 L594.91,493.35 L593.93,493.34 L592.96,493.32 L591.99,493.30 L591.02,493.28 L590.04,493.27 L589.07,493.25 L588.10,493.23 L587.12,493.21 L586.15,493.19 L585.18,493.17 L584.20,493.15 L583.23,493.13 L582.26,493.11 L581.28,493.09 L580.31,493.07 L579.34,493.05 L578.36,493.02 L577.39,493.00 L576.42,492.98 L575.44,492.96 L574.47,492.93 L573.50,492.91 L572.52,492.88 L571.55,492.86 L570.58,492.83 L569.60,492.81 L568.63,492.78 L567.66,492.76 L566.68,492.73 L565.71,492.70 L564.74,492.68 L563.76,492.65 L562.79,492.62 L561.82,492.59 L560.84,492.56 L559.87,492.53 L558.90,492.50 L557.92,492.47 L556.95,492.44 L555.98,492.41 L555.01,492.38 L554.03,492.34 L553.06,492.31 L552.09,492.28 L551.11,492.24 L550.14,492.21 L549.17,492.17 L548.19,492.14 L547.22,492.10 L546.25,492.07 L545.27,492.03 L544.30,491.99 L543.33,491.95 L542.35,491.92 L541.38,491.88 L540.41,491.84 L539.43,491.80 L538.46,491.76 L537.49,491.71 L536.51,491.67 L535.54,491.63 L534.57,491.59 L533.59,491.54 L532.62,491.50 L531.65,491.45 L530.67,491.41 L529.70,491.36 L528.73,491.31 L527.75,491.26 L526.78,491.20 L525.81,491.15 L524.83,491.09 L523.86,491.02 L522.89,490.95 L521.91,490.88 L520.94,490.81 L519.97,490.73 L518.99,490.65 L518.02,490.57 L517.05,490.48 L516.08,490.39 L515.10,490.29 L514.13,490.19 L513.16,490.09 L512.18,489.98 L511.21,489.86 L510.24,489.74 L509.26,489.62 L508.29,489.47 L507.32,489.30 L506.34,489.11 L505.37,488.90 L504.40,488.67 L503.42,488.43 L502.45,488.17 L501.48,487.90 L500.50,487.62 L499.53,487.32 L498.56,487.01 L497.58,486.69 L496.61,486.37 L495.64,486.04 L494.66,485.70 L493.69,485.35 L492.72,485.00 L491.74,484.65 L490.77,484.30 L489.80,483.95 L488.82,483.60 L487.85,483.25 L486.88,482.89 L485.90,482.51 L484.93,482.12 L483.96,481.71 L482.98,481.28 L482.01,480.84 L481.04,480.36 L480.07,479.87 L479.09,479.32 L478.12,478.73 L477.15,478.09 L476.17,477.41 L475.20,476.71 L474.23,476.00 L473.25,475.29 L472.28,474.58 L471.31,473.89 L470.33,473.22 L469.36,472.59 L468.39,472.00 L467.41,471.42 L466.44,470.86 L465.47,470.30 L464.49,469.75 L463.52,469.19 L462.55,468.62 L461.57,468.03 L460.60,467.41 L459.63,466.75 L458.65,466.04 L457.68,465.27 L456.71,464.46 L455.73,463.62 L454.76,462.77 L453.79,461.92 L452.81,461.10 L451.84,460.32 L450.87,459.59 L449.89,458.94 L448.92,458.36 L447.95,457.81 L446.97,457.30 L446.00,456.81 L445.03,456.34 L444.06,455.88 L443.08,455.43 L442.11,454.98 L441.14,454.52 L440.16,454.04 L439.19,453.53 L438.22,452.95 L437.24,452.31 L436.27,451.66 L435.30,451.02 L434.32,450.42 L433.35,449.88 L432.38,449.43 L431.40,449.10 L430.43,448.92 L429.46,448.90 L428.48,448.92 L427.51,448.97 L426.54,449.03 L425.56,449.12 L424.59,449.23 L423.62,449.35 L422.64,449.50 L421.67,449.66 L420.70,449.83 L419.72,450.03 L418.75,450.39 L417.78,450.89 L416.80,451.51 L415.83,452.22 L414.86,453.16 L413.88,454.40 L412.91,455.84 L411.94,457.41 L410.96,459.02 L409.99,460.76 L409.02,462.71 L408.05,464.79 L407.07,466.92 L406.10,469.04 L405.13,471.24 L404.15,473.57 L403.18,475.98 L402.21,478.38 L401.23,480.71 L400.26,482.88 L399.29,484.84 L398.31,486.50 L397.34,488.01 L396.37,489.44 L395.39,490.78 L394.42,492.00 L393.45,493.11 L392.47,494.08 L391.50,494.90Z" fill="#0000CD" fill-opacity="0.1"/>
<path d="M391.50,494.90 L392.47,491.23 L393.45,487.28 L394.42,483.06 L395.39,478.56 L396.37,473.81 L397.34,468.79 L398.31,463.52 L399.29,458.01 L400.26,452.22 L401.23,446.16 L402.21,439.81 L403.18,433.15 L404.15,426.18 L405.13,418.88 L406.10,411.23 L407.07,403.21 L408.05,393.00 L409.02,382.70 L409.99,375.84 L410.96,370.16 L411.94,365.27 L412.91,361.25 L413.88,358.15 L414.86,355.73 L415.83,353.45 L416.80,351.41 L417.78,349.73 L418.75,348.54 L419.72,347.96 L420.70,348.07 L421.67,348.70 L422.64,349.70 L423.62,350.93 L424.59,352.26 L425.56,353.64 L426.54,355.43 L427.51,357.52 L428.48,359.73 L429.46,361.89 L430.43,363.88 L431.40,365.80 L432.38,367.70 L433.35,369.61 L434.32,371.53 L435.30,373.49 L436.27,375.48 L437.24,377.48 L438.22,379.50 L439.19,381.51 L440.16,383.50 L441.14,385.49 L442.11,387.49 L443.08,389.48 L444.06,391.47 L445.03,393.45 L446.00,395.41 L446.97,397.35 L447.95,399.27 L448.92,401.15 L449.89,403.02 L450.87,404.86 L451.84,406.69 L452.81,408.49 L453.79,410.25 L454.76,411.97 L455.73,413.66 L456.71,415.34 L457.68,417.01 L458.65,418.67 L459.63,420.31 L460.60,421.93 L461.57,423.52 L462.55,425.09 L463.52,426.62 L464.49,428.12 L465.47,429.57 L466.44,430.99 L467.41,432.35 L468.39,433.67 L469.36,434.97 L470.33,436.25 L471.31,437.50 L472.28,438.72 L473.25,439.91 L474.23,441.08 L475.20,442.22 L476.17,443.33 L477.15,444.42 L478.12,445.47 L479.09,446.50 L480.07,447.49 L481.04,448.47 L482.01,449.44 L482.98,450.39 L483.96,451.33 L484.93,452.26 L485.90,453.18 L486.88,454.08 L487.85,454.96 L488.82,455.82 L489.80,456.66 L490.77,457.48 L491.74,458.28 L492.72,459.05 L493.69,459.80 L494.66,460.52 L495.64,461.21 L496.61,461.87 L497.58,462.50 L498.56,463.11 L499.53,463.70 L500.50,464.27 L501.48,464.82 L502.45,465.36 L503.42,465.88 L504.40,466.39 L505.37,466.88 L506.34,467.36 L507.32,467.84 L508.29,468.30 L509.26,468.76 L510.24,469.21 L511.21,469.65 L512.18,470.09 L513.16,470.52 L514.13,470.95 L515.10,471.39 L516.08,471.82 L517.05,472.25 L518.02,472.68 L518.99,473.12 L519.97,473.57 L520.94,474.02 L521.91,474.47 L522.89,474.92 L523.86,475.38 L524.83,475.83 L525.81,476.28 L526.78,476.73 L527.75,477.17 L528.73,477.61 L529.70,478.04 L530.67,478.46 L531.65,478.87 L532.62,479.27 L533.59,479.66 L534.57,480.04 L535.54,480.40 L536.51,480.74 L537.49,481.07 L538.46,481.38 L539.43,481.68 L540.41,481.95 L541.38,482.20 L542.35,482.42 L543.33,482.63 L544.30,482.84 L545.27,483.04 L546.25,483.24 L547.22,483.43 L548.19,483.63 L549.17,483.82 L550.14,484.01 L551.11,484.19 L552.09,484.37 L553.06,484.55 L554.03,484.73 L555.01,484.90 L555.98,485.07 L556.95,485.24 L557.92,485.41 L558.90,485.57 L559.87,485.73 L560.84,485.89 L561.82,486.04 L562.79,486.20 L563.76,486.35 L564.74,486.49 L565.71,486.64 L566.68,486.78 L567.66,486.92 L568.63,487.06 L569.60,487.19 L570.58,487.32 L571.55,487.45 L572.52,487.58 L573.50,487.71 L574.47,487.83 L575.44,487.95 L576.42,488.06 L577.39,488.18 L578.36,488.29 L579.34,488.40 L580.31,488.51 L581.28,488.62 L582.26,488.72 L583.23,488.82 L584.20,488.92 L585.18,489.01 L586.15,489.11 L587.12,489.20 L588.10,489.29 L589.07,489.38 L590.04,489.46 L591.02,489.55 L591.99,489.63 L592.96,489.70 L593.93,489.78 L594.91,489.86 L595.88,489.93 L596.85,490.00 L597.83,490.07 L598.80,490.13 L599.77,490.20 L600.75,490.26 L601.72,490.32 L602.69,490.38 L603.67,490.44 L604.64,490.50 L605.61,490.56 L606.59,490.62 L607.56,490.68 L608.53,490.74 L609.51,490.80 L610.48,490.86 L611.45,490.91 L612.43,490.97 L613.40,491.03 L614.37,491.09 L615.35,491.14 L616.32,491.20 L617.29,491.25 L618.27,491.31 L619.24,491.37 L620.21,491.42 L621.19,491.48 L622.16,491.53 L623.13,491.58 L624.11,491.64 L625.08,491.69 L626.05,491.74 L627.03,491.79 L628.00,491.84 L628.97,491.89 L629.94,491.94 L630.92,491.99 L631.89,492.04 L632.86,492.09 L633.84,492.14 L634.81,492.18 L635.78,492.23 L636.76,492.28 L637.73,492.32 L638.70,492.37 L639.68,492.41 L640.65,492.45 L641.62,492.49 L642.60,492.54 L643.57,492.58 L644.54,492.62 L645.52,492.66 L646.49,492.69 L647.46,492.73 L648.44,492.77 L649.41,492.81 L650.38,492.84 L651.36,492.87 L652.33,492.91 L653.30,492.94 L654.28,492.97 L655.25,493.00 L656.22,493.03 L657.20,493.06 L658.17,493.09 L659.14,493.12 L660.12,493.14 L661.09,493.17 L662.06,493.19 L663.04,493.22 L664.01,493.24 L664.98,493.26 L665.95,493.28 L666.93,493.30 L667.90,493.32 L668.87,493.34 L669.85,493.35 L670.82,493.37 L671.79,493.38 L672.77,493.39 L673.74,493.41 L674.71,493.42 L675.69,493.42 L676.66,493.43 L677.63,493.44 L678.61,493.45 L679.58,493.45 L680.55,493.45 L681.53,493.45 L682.50,493.46 L682.50,494.55 L681.53,494.55 L680.55,494.55 L679.58,494.55 L678.61,494.55 L677.63,494.55 L676.66,494.54 L675.69,494.54 L674.71,494.54 L673.74,494.54 L672.77,494.54 L671.79,494.53 L670.82,494.53 L669.85,494.53 L668.87,494.52 L667.90,494.52 L666.93,494.52 L665.95,494.51 L664.98,494.51 L664.01,494.51 L663.04,494.50 L662.06,494.50 L661.09,494.49 L660.12,494.49 L659.14,494.48 L658.17,494.48 L657.20,494.47 L656.22,494.47 L655.25,494.46 L654.28,494.46 L653.30,494.45 L652.33,494.45 L651.36,494.44 L650.38,494.44 L649.41,494.43 L648.44,494.42 L647.46,494.42 L646.49,494.41 L645.52,494.40 L644.54,494.40 L643.57,494.39 L642.60,494.38 L641.62,494.38 L640.65,494.37 L639.68,494.36 L638.70,494.36 L637.73,494.35 L636.76,494.34 L635.78,494.34 L634.81,494.33 L633.84,494.32 L632.86,494.31 L631.89,494.30 L630.92,494.30 L629.94,494.29 L628.97,494.28 L628.00,494.27 L627.03,494.27 L626.05,494.26 L625.08,494.25 L624.11,494.24 L623.13,494.23 L622.16,494.22 L621.19,494.22 L620.21,494.21 L619.24,494.20 L618.27,494.19 L617.29,494.18 L616.32,494.17 L615.35,494.16 L614.37,494.16 L613.40,494.15 L612.43,494.14 L611.45,494.13 L610.48,494.12 L609.51,494.11 L608.53,494.10 L607.56,494.09 L606.59,494.08 L605.61,494.08 L604.64,494.07 L603.67,494.06 L602.69,494.05 L601.72,494.04 L600.75,494.03 L599.77,494.02 L598.80,494.01 L597.83,494.00 L596.85,493.99 L595.88,493.98 L594.91,493.97 L593.93,493.96 L592.96,493.95 L591.99,493.94 L591.02,493.93 L590.04,493.92 L589.07,493.91 L588.10,493.90 L587.12,493.89 L586.15,493.88 L585.18,493.87 L584.20,493.86 L583.23,493.85 L582.26,493.84 L581.28,493.83 L580.31,493.81 L579.34,493.80 L578.36,493.79 L577.39,493.78 L576.42,493.76 L575.44,493.75 L574.47,493.74 L573.50,493.73 L572.52,493.71 L571.55,493.70 L570.58,493.69 L569.60,493.67 L568.63,493.66 L567.66,493.64 L566.68,493.63 L565.71,493.61 L564.74,493.60 L563.76,493.58 L562.79,493.57 L561.82,493.55 L560.84,493.53 L559.87,493.52 L558.90,493.50 L557.92,493.48 L556.95,493.46 L555.98,493.45 L555.01,493.43 L554.03,493.41 L553.06,493.39 L552.09,493.37 L551.11,493.35 L550.14,493.33 L549.17,493.31 L548.19,493.29 L547.22,493.27 L546.25,493.25 L545.27,493.23 L544.30,493.21 L543.33,493.19 L542.35,493.16 L541.38,493.14 L540.41,493.12 L539.43,493.09 L538.46,493.07 L537.49,493.05 L536.51,493.02 L535.54,493.00 L534.57,492.97 L533.59,492.94 L532.62,492.92 L531.65,492.89 L530.67,492.86 L529.70,492.83 L528.73,492.80 L527.75,492.77 L526.78,492.74 L525.81,492.70 L524.83,492.66 L523.86,492.62 L522.89,492.58 L521.91,492.53 L520.94,492.49 L519.97,492.44 L518.99,492.38 L518.02,492.33 L517.05,492.27 L516.08,492.20 L515.10,492.14 L514.13,492.07 L513.16,492.00 L512.18,491.92 L511.21,491.84 L510.24,491.75 L509.26,491.66 L508.29,491.53 L507.32,491.37 L506.34,491.19 L505.37,490.98 L504.40,490.74 L503.42,490.48 L502.45,490.21 L501.48,489.91 L500.50,489.61 L499.53,489.29 L498.56,488.97 L497.58,488.64 L496.61,488.31 L495.64,487.97 L494.66,487.64 L493.69,487.32 L492.72,486.99 L491.74,486.68 L490.77,486.39 L489.80,486.10 L488.82,485.84 L487.85,485.59 L486.88,485.37 L485.90,485.17 L484.93,484.98 L483.96,484.79 L482.98,484.59 L482.01,484.36 L481.04,484.10 L480.07,483.80 L479.09,483.40 L478.12,482.89 L477.15,482.28 L476.17,481.60 L475.20,480.87 L474.23,480.10 L473.25,479.31 L472.28,478.54 L471.31,477.79 L470.33,477.10 L469.36,476.47 L468.39,475.88 L467.41,475.31 L466.44,474.76 L465.47,474.22 L464.49,473.68 L463.52,473.14 L462.55,472.58 L461.57,472.00 L460.60,471.39 L459.63,470.74 L458.65,470.03 L457.68,469.26 L456.71,468.44 L455.73,467.59 L454.76,466.73 L453.79,465.87 L452.81,465.04 L451.84,464.25 L450.87,463.52 L449.89,462.87 L448.92,462.29 L447.95,461.75 L446.97,461.24 L446.00,460.76 L445.03,460.30 L444.06,459.85 L443.08,459.40 L442.11,458.96 L441.14,458.50 L440.16,458.03 L439.19,457.52 L438.22,456.94 L437.24,456.31 L436.27,455.66 L435.30,455.01 L434.32,454.41 L433.35,453.87 L432.38,453.42 L431.40,453.09 L430.43,452.91 L429.46,452.90 L428.48,453.00 L427.51,453.20 L426.54,453.47 L425.56,453.80 L424.59,454.17 L423.62,454.56 L422.64,454.96 L421.67,455.35 L420.70,455.70 L419.72,456.01 L418.75,456.28 L417.78,456.55 L416.80,456.85 L415.83,457.23 L414.86,457.72 L413.88,458.37 L412.91,459.19 L411.94,460.16 L410.96,461.29 L409.99,462.85 L409.02,464.99 L408.05,467.47 L407.07,470.04 L406.10,472.46 L405.13,474.92 L404.15,477.57 L403.18,480.27 L402.21,482.85 L401.23,485.16 L400.26,487.06 L399.29,488.43 L398.31,489.66 L397.34,490.84 L396.37,491.93 L395.39,492.91 L394.42,493.73 L393.45,494.35 L392.47,494.76 L391.50,494.90Z" fill="#1874CD" fill-opacity="0.1"/>
<path d="M391.50,494.90 L392.08,494.65 L392.67,493.87 L393.25,492.58 L393.83,490.83 L394.42,488.67 L395.00,486.16 L395.58,483.35 L396.17,480.29 L396.75,477.03 L397.33,473.62 L397.91,470.09 L398.50,466.47 L399.08,462.81 L399.66,459.13 L400.25,455.46 L400.83,451.83 L401.41,448.24 L402.00,444.72 L402.58,441.28 L403.16,437.94 L403.75,434.66 L404.33,431.47 L404.91,428.40 L405.50,425.42 L406.08,422.56 L406.66,419.80 L407.25,417.16 L407.83,414.62 L408.41,412.20 L408.99,409.89 L409.58,407.69 L410.16,405.61 L410.74,403.64 L411.33,401.79 L411.91,400.05 L412.49,398.43 L413.08,396.93 L413.66,395.55 L414.24,394.30 L414.83,393.16 L415.41,392.14 L415.99,391.23 L416.58,390.44 L417.16,389.77 L417.74,389.20 L418.33,388.73 L418.91,388.36 L419.49,388.09 L420.08,387.91 L420.66,387.82 L421.24,387.82 L421.82,387.89 L422.41,388.04 L422.99,388.24 L423.57,388.51 L424.16,388.83 L424.74,389.20 L425.32,389.63 L425.91,390.10 L426.49,390.61 L427.07,391.16 L427.66,391.75 L428.24,392.37 L428.82,393.03 L429.41,393.71 L429.99,394.42 L430.57,395.16 L431.16,395.92 L431.74,396.71 L432.32,397.51 L432.90,398.34 L433.49,399.18 L434.07,400.03 L434.65,400.90 L435.24,401.78 L435.82,402.67 L436.40,403.57 L436.99,404.48 L437.57,405.40 L438.15,406.32 L438.74,407.25 L439.32,408.18 L439.90,409.11 L440.49,410.04 L441.07,410.97 L441.65,411.90 L442.24,412.84 L442.82,413.76 L443.40,414.69 L443.98,415.61 L444.57,416.53 L445.15,417.44 L445.73,418.35 L446.32,419.26 L446.90,420.16 L447.48,421.05 L448.07,421.94 L448.65,422.81 L449.23,423.69 L449.82,424.55 L450.40,425.41 L450.98,426.26 L451.57,427.10 L452.15,427.94 L452.73,428.76 L453.32,429.58 L453.90,430.39 L454.48,431.19 L455.07,431.98 L455.65,432.76 L456.23,433.53 L456.81,434.29 L457.40,435.04 L457.98,435.79 L458.56,436.52 L459.15,437.25 L459.73,437.96 L460.31,438.67 L460.90,439.36 L461.48,440.05 L462.06,440.73 L462.65,441.40 L463.23,442.06 L463.81,442.71 L464.40,443.36 L464.98,443.99 L465.56,444.62 L466.15,445.24 L466.73,445.85 L467.31,446.45 L467.89,447.04 L468.48,447.63 L469.06,448.20 L469.64,448.77 L470.23,449.34 L470.81,449.89 L471.39,450.44 L471.98,450.98 L472.56,451.51 L473.14,452.04 L473.73,452.56 L474.31,453.07 L474.89,453.58 L475.48,454.08 L476.06,454.57 L476.64,455.06 L477.23,455.54 L477.81,456.01 L478.39,456.48 L478.97,456.94 L479.56,457.39 L480.14,457.84 L480.72,458.29 L481.31,458.72 L481.89,459.16 L482.47,459.58 L483.06,460.00 L483.64,460.42 L484.22,460.83 L484.81,461.23 L485.39,461.63 L485.97,462.02 L486.56,462.41 L487.14,462.80 L487.72,463.17 L488.31,463.55 L488.89,463.92 L489.47,464.28 L490.06,464.64 L490.64,464.99 L491.22,465.34 L491.80,465.69 L492.39,466.03 L492.97,466.37 L493.55,466.70 L494.14,467.03 L494.72,467.35 L495.30,467.67 L495.89,467.98 L496.47,468.29 L497.05,468.60 L497.64,468.90 L498.22,469.20 L498.80,469.50 L499.39,469.79 L499.97,470.08 L500.55,470.36 L501.14,470.64 L501.72,470.92 L502.30,471.19 L502.88,471.46 L503.47,471.73 L504.05,471.99 L504.63,472.25 L505.22,472.51 L505.80,472.76 L506.38,473.01 L506.97,473.25 L507.55,473.50 L508.13,473.74 L508.72,473.97 L509.30,474.21 L509.88,474.44 L510.47,474.67 L511.05,474.89 L511.63,475.11 L512.22,475.33 L512.80,475.55 L513.38,475.76 L513.96,475.97 L514.55,476.18 L515.13,476.38 L515.71,476.59 L516.30,476.79 L516.88,476.98 L517.46,477.18 L518.05,477.37 L518.63,477.56 L519.21,477.75 L519.80,477.93 L520.38,478.11 L520.96,478.29 L521.55,478.47 L522.13,478.64 L522.71,478.82 L523.30,478.99 L523.88,479.16 L524.46,479.32 L525.05,479.49 L525.63,479.65 L526.21,479.81 L526.79,479.96 L527.38,480.12 L527.96,480.27 L528.54,480.42 L529.13,480.57 L529.71,480.72 L530.29,480.87 L530.88,481.01 L531.46,481.15 L532.04,481.29 L532.63,481.43 L533.21,481.57 L533.79,481.70 L534.38,481.84 L534.96,481.97 L535.54,482.10 L536.13,482.22 L536.71,482.35 L537.29,482.48 L537.87,482.60 L538.46,482.72 L539.04,482.84 L539.62,482.96 L540.21,483.08 L540.79,483.19 L541.37,483.31 L541.96,483.42 L542.54,483.53 L543.12,483.64 L543.71,483.75 L544.29,483.86 L544.87,483.96 L545.46,484.07 L546.04,484.17 L546.62,484.27 L547.21,484.37 L547.79,484.47 L548.37,484.57 L548.95,484.67 L549.54,484.76 L550.12,484.86 L550.70,484.95 L551.29,485.04 L551.87,485.13 L552.45,485.22 L553.04,485.31 L553.62,485.40 L554.20,485.49 L554.79,485.57 L555.37,485.66 L555.95,485.74 L556.54,485.83 L557.12,485.91 L557.70,485.99 L558.29,486.07 L558.87,486.15 L559.45,486.23 L560.04,486.30 L560.62,486.38 L561.20,486.46 L561.78,486.53 L562.37,486.60 L562.95,486.68 L563.53,486.75 L564.12,486.82 L564.70,486.89 L565.28,486.96 L565.87,487.03 L566.45,487.10 L567.03,487.16 L567.62,487.23 L568.20,487.30 L568.78,487.36 L569.37,487.43 L569.95,487.49 L570.53,487.55 L571.12,487.61 L571.70,487.68 L572.28,487.74 L572.86,487.80 L573.45,487.86 L574.03,487.91 L574.61,487.97 L575.20,488.03 L575.78,488.09 L576.36,488.14 L576.95,488.20 L577.53,488.25 L578.11,488.31 L578.70,488.36 L579.28,488.42 L579.86,488.47 L580.45,488.52 L581.03,488.57 L581.61,488.62 L582.20,488.67 L582.78,488.72 L583.36,488.77 L583.94,488.82 L584.53,488.87 L585.11,488.92 L585.69,488.97 L586.28,489.01 L586.86,489.06 L587.44,489.10 L588.03,489.15 L588.61,489.19 L589.19,489.24 L589.78,489.28 L590.36,489.33 L590.94,489.37 L591.53,489.41 L592.11,489.45 L592.69,489.50 L593.28,489.54 L593.86,489.58 L594.44,489.62 L595.03,489.66 L595.61,489.70 L596.19,489.74 L596.77,489.78 L597.36,489.82 L597.94,489.85 L598.52,489.89 L599.11,489.93 L599.69,489.97 L600.27,490.00 L600.86,490.04 L601.44,490.07 L602.02,490.11 L602.61,490.14 L603.19,490.18 L603.77,490.21 L604.36,490.25 L604.94,490.28 L605.52,490.32 L606.11,490.35 L606.69,490.38 L607.27,490.41 L607.85,490.45 L608.44,490.48 L609.02,490.51 L609.60,490.54 L610.19,490.57 L610.77,490.60 L611.35,490.63 L611.94,490.66 L612.52,490.69 L613.10,490.72 L613.69,490.75 L614.27,490.78 L614.85,490.81 L615.44,490.84 L616.02,490.86 L616.60,490.89 L617.19,490.92 L617.77,490.95 L618.35,490.97 L618.93,491.00 L619.52,491.03 L620.10,491.05 L620.68,491.08 L621.27,491.11 L621.85,491.13 L622.43,491.16 L623.02,491.18 L623.60,491.21 L624.18,491.23 L624.77,491.26 L625.35,491.28 L625.93,491.31 L626.52,491.33 L627.10,491.35 L627.68,491.38 L628.27,491.40 L628.85,491.42 L629.43,491.45 L630.02,491.47 L630.60,491.49 L631.18,491.51 L631.76,491.53 L632.35,491.56 L632.93,491.58 L633.51,491.60 L634.10,491.62 L634.68,491.64 L635.26,491.66 L635.85,491.68 L636.43,491.70 L637.01,491.72 L637.60,491.74 L638.18,491.76 L638.76,491.78 L639.35,491.80 L639.93,491.82 L640.51,491.84 L641.10,491.86 L641.68,491.88 L642.26,491.90 L642.84,491.92 L643.43,491.94 L644.01,491.96 L644.59,491.98 L645.18,491.99 L645.76,492.01 L646.34,492.03 L646.93,492.05 L647.51,492.07 L648.09,492.08 L648.68,492.10 L649.26,492.12 L649.84,492.13 L650.43,492.15 L651.01,492.17 L651.59,492.19 L652.18,492.20 L652.76,492.22 L653.34,492.24 L653.92,492.25 L654.51,492.27 L655.09,492.28 L655.67,492.30 L656.26,492.32 L656.84,492.33 L657.42,492.35 L658.01,492.36 L658.59,492.38 L659.17,492.39 L659.76,492.41 L660.34,492.42 L660.92,492.44 L661.51,492.45 L662.09,492.47 L662.67,492.48 L663.26,492.50 L663.84,492.51 L664.42,492.52 L665.01,492.54 L665.59,492.55 L666.17,492.57 L666.75,492.58 L667.34,492.59 L667.92,492.61 L668.50,492.62 L669.09,492.64 L669.67,492.65 L670.25,492.66 L670.84,492.68 L671.42,492.69 L672.00,492.70 L672.59,492.71 L673.17,492.73 L673.75,492.74 L674.34,492.75 L674.92,492.77 L675.50,492.78 L676.09,492.79 L676.67,492.80 L677.25,492.81 L677.83,492.83 L678.42,492.84 L679.00,492.85 L679.58,492.86 L680.17,492.87 L680.75,492.89 L681.33,492.90 L681.92,492.91 L682.50,492.92" fill="none" stroke="#0000CD" stroke-width="1.8" stroke-linejoin="round"/>
<path d="M391.50,494.90 L392.08,494.71 L392.67,494.08 L393.25,493.01 L393.83,491.53 L394.42,489.67 L395.00,487.48 L395.58,485.01 L396.17,482.29 L396.75,479.38 L397.33,476.31 L397.91,473.13 L398.50,469.86 L399.08,466.53 L399.66,463.19 L400.25,459.84 L400.83,456.51 L401.41,453.23 L402.00,450.01 L402.58,446.86 L403.16,443.80 L403.75,440.79 L404.33,437.87 L404.91,435.05 L405.50,432.32 L406.08,429.70 L406.66,427.18 L407.25,424.76 L407.83,422.44 L408.41,420.23 L408.99,418.12 L409.58,416.11 L410.16,414.21 L410.74,412.41 L411.33,410.72 L411.91,409.13 L412.49,407.65 L413.08,406.27 L413.66,404.99 L414.24,403.82 L414.83,402.76 L415.41,401.80 L415.99,400.94 L416.58,400.19 L417.16,399.53 L417.74,398.98 L418.33,398.52 L418.91,398.16 L419.49,397.88 L420.08,397.70 L420.66,397.59 L421.24,397.59 L421.82,397.65 L422.41,397.78 L422.99,397.97 L423.57,398.21 L424.16,398.50 L424.74,398.84 L425.32,399.23 L425.91,399.65 L426.49,400.11 L427.07,400.61 L427.66,401.14 L428.24,401.70 L428.82,402.29 L429.41,402.91 L429.99,403.55 L430.57,404.21 L431.16,404.90 L431.74,405.61 L432.32,406.34 L432.90,407.08 L433.49,407.84 L434.07,408.62 L434.65,409.42 L435.24,410.22 L435.82,411.04 L436.40,411.88 L436.99,412.72 L437.57,413.57 L438.15,414.42 L438.74,415.28 L439.32,416.15 L439.90,417.01 L440.49,417.88 L441.07,418.75 L441.65,419.62 L442.24,420.48 L442.82,421.34 L443.40,422.20 L443.98,423.05 L444.57,423.89 L445.15,424.73 L445.73,425.56 L446.32,426.39 L446.90,427.21 L447.48,428.02 L448.07,428.82 L448.65,429.61 L449.23,430.40 L449.82,431.17 L450.40,431.94 L450.98,432.70 L451.57,433.45 L452.15,434.19 L452.73,434.93 L453.32,435.65 L453.90,436.37 L454.48,437.07 L455.07,437.77 L455.65,438.46 L456.23,439.14 L456.81,439.81 L457.40,440.48 L457.98,441.13 L458.56,441.78 L459.15,442.42 L459.73,443.05 L460.31,443.67 L460.90,444.29 L461.48,444.90 L462.06,445.50 L462.65,446.09 L463.23,446.67 L463.81,447.25 L464.40,447.82 L464.98,448.39 L465.56,448.95 L466.15,449.50 L466.73,450.04 L467.31,450.58 L467.89,451.11 L468.48,451.64 L469.06,452.15 L469.64,452.67 L470.23,453.17 L470.81,453.67 L471.39,454.17 L471.98,454.66 L472.56,455.14 L473.14,455.62 L473.73,456.09 L474.31,456.56 L474.89,457.02 L475.48,457.47 L476.06,457.92 L476.64,458.37 L477.23,458.80 L477.81,459.24 L478.39,459.67 L478.97,460.09 L479.56,460.51 L480.14,460.92 L480.72,461.33 L481.31,461.74 L481.89,462.13 L482.47,462.53 L483.06,462.92 L483.64,463.30 L484.22,463.68 L484.81,464.06 L485.39,464.43 L485.97,464.79 L486.56,465.16 L487.14,465.51 L487.72,465.87 L488.31,466.22 L488.89,466.56 L489.47,466.90 L490.06,467.24 L490.64,467.57 L491.22,467.90 L491.80,468.22 L492.39,468.54 L492.97,468.86 L493.55,469.17 L494.14,469.48 L494.72,469.78 L495.30,470.08 L495.89,470.38 L496.47,470.67 L497.05,470.96 L497.64,471.25 L498.22,471.53 L498.80,471.81 L499.39,472.09 L499.97,472.36 L500.55,472.63 L501.14,472.89 L501.72,473.15 L502.30,473.41 L502.88,473.67 L503.47,473.92 L504.05,474.17 L504.63,474.42 L505.22,474.66 L505.80,474.90 L506.38,475.13 L506.97,475.37 L507.55,475.60 L508.13,475.83 L508.72,476.05 L509.30,476.27 L509.88,476.49 L510.47,476.71 L511.05,476.92 L511.63,477.13 L512.22,477.34 L512.80,477.55 L513.38,477.75 L513.96,477.95 L514.55,478.15 L515.13,478.34 L515.71,478.54 L516.30,478.73 L516.88,478.92 L517.46,479.10 L518.05,479.28 L518.63,479.46 L519.21,479.64 L519.80,479.82 L520.38,479.99 L520.96,480.16 L521.55,480.33 L522.13,480.50 L522.71,480.66 L523.30,480.83 L523.88,480.99 L524.46,481.15 L525.05,481.30 L525.63,481.46 L526.21,481.61 L526.79,481.76 L527.38,481.91 L527.96,482.06 L528.54,482.20 L529.13,482.34 L529.71,482.48 L530.29,482.62 L530.88,482.76 L531.46,482.90 L532.04,483.03 L532.63,483.16 L533.21,483.30 L533.79,483.42 L534.38,483.55 L534.96,483.68 L535.54,483.80 L536.13,483.92 L536.71,484.05 L537.29,484.17 L537.87,484.28 L538.46,484.40 L539.04,484.52 L539.62,484.63 L540.21,484.74 L540.79,484.85 L541.37,484.96 L541.96,485.07 L542.54,485.18 L543.12,485.28 L543.71,485.39 L544.29,485.49 L544.87,485.59 L545.46,485.69 L546.04,485.79 L546.62,485.89 L547.21,485.98 L547.79,486.08 L548.37,486.17 L548.95,486.27 L549.54,486.36 L550.12,486.45 L550.70,486.54 L551.29,486.63 L551.87,486.72 L552.45,486.80 L553.04,486.89 L553.62,486.97 L554.20,487.06 L554.79,487.14 L555.37,487.22 L555.95,487.30 L556.54,487.38 L557.12,487.46 L557.70,487.54 L558.29,487.61 L558.87,487.69 L559.45,487.76 L560.04,487.84 L560.62,487.91 L561.20,487.98 L561.78,488.05 L562.37,488.12 L562.95,488.19 L563.53,488.26 L564.12,488.33 L564.70,488.39 L565.28,488.46 L565.87,488.53 L566.45,488.59 L567.03,488.65 L567.62,488.72 L568.20,488.78 L568.78,488.84 L569.37,488.90 L569.95,488.96 L570.53,489.02 L571.12,489.08 L571.70,489.13 L572.28,489.19 L572.86,489.25 L573.45,489.30 L574.03,489.36 L574.61,489.41 L575.20,489.46 L575.78,489.52 L576.36,489.57 L576.95,489.62 L577.53,489.67 L578.11,489.72 L578.70,489.77 L579.28,489.82 L579.86,489.87 L580.45,489.92 L581.03,489.96 L581.61,490.01 L582.20,490.06 L582.78,490.10 L583.36,490.15 L583.94,490.19 L584.53,490.24 L585.11,490.28 L585.69,490.32 L586.28,490.36 L586.86,490.41 L587.44,490.45 L588.03,490.49 L588.61,490.53 L589.19,490.57 L589.78,490.61 L590.36,490.65 L590.94,490.69 L591.53,490.72 L592.11,490.76 L592.69,490.80 L593.28,490.83 L593.86,490.87 L594.44,490.91 L595.03,490.94 L595.61,490.98 L596.19,491.01 L596.77,491.04 L597.36,491.08 L597.94,491.11 L598.52,491.14 L599.11,491.18 L599.69,491.21 L600.27,491.24 L600.86,491.27 L601.44,491.30 L602.02,491.33 L602.61,491.36 L603.19,491.39 L603.77,491.42 L604.36,491.45 L604.94,491.48 L605.52,491.51 L606.11,491.54 L606.69,491.56 L607.27,491.59 L607.85,491.62 L608.44,491.65 L609.02,491.67 L609.60,491.70 L610.19,491.72 L610.77,491.75 L611.35,491.77 L611.94,491.80 L612.52,491.82 L613.10,491.85 L613.69,491.87 L614.27,491.90 L614.85,491.92 L615.44,491.94 L616.02,491.97 L616.60,491.99 L617.19,492.01 L617.77,492.03 L618.35,492.06 L618.93,492.08 L619.52,492.10 L620.10,492.12 L620.68,492.14 L621.27,492.16 L621.85,492.18 L622.43,492.20 L623.02,492.22 L623.60,492.24 L624.18,492.26 L624.77,492.28 L625.35,492.30 L625.93,492.32 L626.52,492.34 L627.10,492.36 L627.68,492.37 L628.27,492.39 L628.85,492.41 L629.43,492.43 L630.02,492.45 L630.60,492.46 L631.18,492.48 L631.76,492.50 L632.35,492.51 L632.93,492.53 L633.51,492.55 L634.10,492.56 L634.68,492.58 L635.26,492.60 L635.85,492.61 L636.43,492.63 L637.01,492.64 L637.60,492.66 L638.18,492.67 L638.76,492.69 L639.35,492.70 L639.93,492.72 L640.51,492.73 L641.10,492.75 L641.68,492.76 L642.26,492.78 L642.84,492.79 L643.43,492.81 L644.01,492.82 L644.59,492.83 L645.18,492.85 L645.76,492.86 L646.34,492.87 L646.93,492.89 L647.51,492.90 L648.09,492.91 L648.68,492.92 L649.26,492.94 L649.84,492.95 L650.43,492.96 L651.01,492.97 L651.59,492.99 L652.18,493.00 L652.76,493.01 L653.34,493.02 L653.92,493.03 L654.51,493.05 L655.09,493.06 L655.67,493.07 L656.26,493.08 L656.84,493.09 L657.42,493.10 L658.01,493.11 L658.59,493.13 L659.17,493.14 L659.76,493.15 L660.34,493.16 L660.92,493.17 L661.51,493.18 L662.09,493.19 L662.67,493.20 L663.26,493.21 L663.84,493.22 L664.42,493.23 L665.01,493.24 L665.59,493.25 L666.17,493.26 L666.75,493.27 L667.34,493.28 L667.92,493.29 L668.50,493.30 L669.09,493.31 L669.67,493.32 L670.25,493.33 L670.84,493.33 L671.42,493.34 L672.00,493.35 L672.59,493.36 L673.17,493.37 L673.75,493.38 L674.34,493.39 L674.92,493.40 L675.50,493.41 L676.09,493.41 L676.67,493.42 L677.25,493.43 L677.83,493.44 L678.42,493.45 L679.00,493.46 L679.58,493.46 L680.17,493.47 L680.75,493.48 L681.33,493.49 L681.92,493.50 L682.50,493.50" fill="none" stroke="#1874CD" stroke-width="1.5" stroke-linejoin="round"/>
<path d="M397.32,474.09 V441.61 M395.32,474.09 H399.32 M395.32,441.61 H399.32" stroke="#3535d8" stroke-width="1.2" fill="none"/>
<path d="M403.14,457.39 V409.02 M401.14,457.39 H405.14 M401.14,409.02 H405.14" stroke="#3535d8" stroke-width="1.2" fill="none"/>
<path d="M414.78,445.49 V387.40 M412.78,445.49 H416.78 M412.78,387.40 H416.78" stroke="#3535d8" stroke-width="1.2" fill="none"/>
<path d="M426.42,449.13 V399.14 M424.42,449.13 H428.42 M424.42,399.14 H428.42" stroke="#3535d8" stroke-width="1.2" fill="none"/>
<path d="M438.06,462.13 V411.33 M436.06,462.13 H440.06 M436.06,411.33 H440.06" stroke="#3535d8" stroke-width="1.2" fill="none"/>
<path d="M461.34,483.34 V426.18 M459.34,483.34 H463.34 M459.34,426.18 H463.34" stroke="#3535d8" stroke-width="1.2" fill="none"/>
<path d="M484.62,486.52 V463.92 M482.62,486.52 H486.62 M482.62,463.92 H486.62" stroke="#3535d8" stroke-width="1.2" fill="none"/>
<path d="M507.90,491.20 V474.79 M505.90,491.20 H509.90 M505.90,474.79 H509.90" stroke="#3535d8" stroke-width="1.2" fill="none"/>
<path d="M531.18,493.22 V481.78 M529.18,493.22 H533.18 M529.18,481.78 H533.18" stroke="#3535d8" stroke-width="1.2" fill="none"/>
<path d="M397.32,487.21 V467.62 M395.32,487.21 H399.32 M395.32,467.62 H399.32" stroke="#3a86d6" stroke-width="1.0" fill="none"/>
<path d="M403.14,463.69 V439.53 M401.14,463.69 H405.14 M401.14,439.53 H405.14" stroke="#3a86d6" stroke-width="1.0" fill="none"/>
<path d="M414.78,450.40 V408.21 M412.78,450.40 H416.78 M412.78,408.21 H416.78" stroke="#3a86d6" stroke-width="1.0" fill="none"/>
<path d="M426.42,455.20 V408.21 M424.42,455.20 H428.42 M424.42,408.21 H428.42" stroke="#3a86d6" stroke-width="1.0" fill="none"/>
<path d="M438.06,464.50 V426.30 M436.06,464.50 H440.06 M436.06,426.30 H440.06" stroke="#3a86d6" stroke-width="1.0" fill="none"/>
<path d="M461.34,475.48 V456.76 M459.34,475.48 H463.34 M459.34,456.76 H463.34" stroke="#3a86d6" stroke-width="1.0" fill="none"/>
<path d="M484.62,480.45 V474.09 M482.62,480.45 H486.62 M482.62,474.09 H486.62" stroke="#3a86d6" stroke-width="1.0" fill="none"/>
<path d="M507.90,487.96 V481.61 M505.90,487.96 H509.90 M505.90,481.61 H509.90" stroke="#3a86d6" stroke-width="1.0" fill="none"/>
<path d="M531.18,490.85 V485.65 M529.18,490.85 H533.18 M529.18,485.65 H533.18" stroke="#3a86d6" stroke-width="1.0" fill="none"/>
<circle cx="397.32" cy="457.91" r="3.5" fill="#0000CD"/>
<circle cx="403.14" cy="433.12" r="3.5" fill="#0000CD"/>
<circle cx="414.78" cy="416.30" r="3.5" fill="#0000CD"/>
<circle cx="426.42" cy="424.33" r="3.5" fill="#0000CD"/>
<circle cx="438.06" cy="436.59" r="3.5" fill="#0000CD"/>
<circle cx="461.34" cy="454.50" r="3.5" fill="#0000CD"/>
<circle cx="484.62" cy="474.33" r="3.5" fill="#0000CD"/>
<circle cx="507.90" cy="481.78" r="3.5" fill="#0000CD"/>
<circle cx="531.18" cy="487.39" r="3.5" fill="#0000CD"/>
<circle cx="397.32" cy="477.27" r="3.5" fill="#1874CD"/>
<circle cx="403.14" cy="451.90" r="3.5" fill="#1874CD"/>
<circle cx="414.78" cy="428.90" r="3.5" fill="#1874CD"/>
<circle cx="426.42" cy="431.73" r="3.5" fill="#1874CD"/>
<circle cx="438.06" cy="445.20" r="3.5" fill="#1874CD"/>
<circle cx="461.34" cy="466.29" r="3.5" fill="#1874CD"/>
<circle cx="484.62" cy="477.27" r="3.5" fill="#1874CD"/>
<circle cx="507.90" cy="484.79" r="3.5" fill="#1874CD"/>
<circle cx="531.18" cy="488.20" r="3.5" fill="#1874CD"/>
<circle cx="670.86" cy="492.41" r="3.5" fill="#1874CD"/>
<circle cx="561.33" cy="313.50" r="3.6" fill="#0000CD"/>
<text x="577.13" y="318.40" font-size="13">Chen 2009 − GG</text>
<circle cx="561.33" cy="327.90" r="3.6" fill="#1874CD"/>
<text x="577.13" y="332.80" font-size="13">Chen 2009 − GT</text>
<text x="577.13" y="347.20" font-size="13">n = 14/9</text>
<circle cx="180.03" cy="45.90" r="3.6" fill="#0000CD"/>
<text x="195.83" y="50.80" font-size="13">Christensen 2013 − GG</text>
<circle cx="180.03" cy="60.30" r="3.6" fill="#1874CD"/>
<text x="195.83" y="65.20" font-size="13">Christensen 2013 − GT</text>
<circle cx="180.03" cy="74.70" r="3.6" fill="#00B2EE"/>
<text x="195.83" y="79.60" font-size="13">Christensen 2013 − TT</text>
<text x="195.83" y="94.00" font-size="13">n = 24/20/5</text>
<line x1="48.50" y1="30.80" x2="48.50" y2="227.30" stroke="#3a3a3a" stroke-width="1.1"/>
<line x1="48.50" y1="227.30" x2="339.50" y2="227.30" stroke="#3a3a3a" stroke-width="1.1"/>
<line x1="45.00" y1="227.30" x2="48.50" y2="227.30" stroke="#666" stroke-width="0.8"/>
<text x="43.90" y="233.60" text-anchor="end" font-size="16.5">0</text>
<line x1="45.00" y1="182.64" x2="48.50" y2="182.64" stroke="#666" stroke-width="0.8"/>
<text x="43.90" y="188.94" text-anchor="end" font-size="16.5">0.5</text>
<line x1="45.00" y1="137.98" x2="48.50" y2="137.98" stroke="#666" stroke-width="0.8"/>
<text x="43.90" y="144.28" text-anchor="end" font-size="16.5">1</text>
<line x1="45.00" y1="93.32" x2="48.50" y2="93.32" stroke="#666" stroke-width="0.8"/>
<text x="43.90" y="99.62" text-anchor="end" font-size="16.5">1.5</text>
<line x1="45.00" y1="48.66" x2="48.50" y2="48.66" stroke="#666" stroke-width="0.8"/>
<text x="43.90" y="54.96" text-anchor="end" font-size="16.5">2</text>
<line x1="48.50" y1="227.30" x2="48.50" y2="230.80" stroke="#666" stroke-width="0.8"/>
<text x="48.50" y="244.10" text-anchor="middle" font-size="16.5">0</text>
<line x1="118.34" y1="227.30" x2="118.34" y2="230.80" stroke="#666" stroke-width="0.8"/>
<text x="118.34" y="244.10" text-anchor="middle" font-size="16.5">6</text>
<line x1="188.18" y1="227.30" x2="188.18" y2="230.80" stroke="#666" stroke-width="0.8"/>
<text x="188.18" y="244.10" text-anchor="middle" font-size="16.5">12</text>
<line x1="258.02" y1="227.30" x2="258.02" y2="230.80" stroke="#666" stroke-width="0.8"/>
<text x="258.02" y="244.10" text-anchor="middle" font-size="16.5">18</text>
<line x1="327.86" y1="227.30" x2="327.86" y2="230.80" stroke="#666" stroke-width="0.8"/>
<text x="327.86" y="244.10" text-anchor="middle" font-size="16.5">24</text>
<text transform="translate(15.40,129.10) rotate(-90)" x="0" y="0" text-anchor="middle" font-size="16.5">Metformin plasma [µg/ml]</text>
<line x1="391.50" y1="30.80" x2="391.50" y2="227.30" stroke="#3a3a3a" stroke-width="1.1"/>
<line x1="391.50" y1="227.30" x2="682.50" y2="227.30" stroke="#3a3a3a" stroke-width="1.1"/>
<line x1="388.00" y1="227.30" x2="391.50" y2="227.30" stroke="#666" stroke-width="0.8"/>
<text x="386.90" y="233.60" text-anchor="end" font-size="16.5">0</text>
<line x1="388.00" y1="182.64" x2="391.50" y2="182.64" stroke="#666" stroke-width="0.8"/>
<text x="386.90" y="188.94" text-anchor="end" font-size="16.5">0.5</text>
<line x1="388.00" y1="137.98" x2="391.50" y2="137.98" stroke="#666" stroke-width="0.8"/>
<text x="386.90" y="144.28" text-anchor="end" font-size="16.5">1</text>
<line x1="388.00" y1="93.32" x2="391.50" y2="93.32" stroke="#666" stroke-width="0.8"/>
<text x="386.90" y="99.62" text-anchor="end" font-size="16.5">1.5</text>
<line x1="388.00" y1="48.66" x2="391.50" y2="48.66" stroke="#666" stroke-width="0.8"/>
<text x="386.90" y="54.96" text-anchor="end" font-size="16.5">2</text>
<line x1="391.50" y1="227.30" x2="391.50" y2="230.80" stroke="#666" stroke-width="0.8"/>
<text x="391.50" y="244.10" text-anchor="middle" font-size="16.5">0</text>
<line x1="461.34" y1="227.30" x2="461.34" y2="230.80" stroke="#666" stroke-width="0.8"/>
<text x="461.34" y="244.10" text-anchor="middle" font-size="16.5">6</text>
<line x1="531.18" y1="227.30" x2="531.18" y2="230.80" stroke="#666" stroke-width="0.8"/>
<text x="531.18" y="244.10" text-anchor="middle" font-size="16.5">12</text>
<line x1="601.02" y1="227.30" x2="601.02" y2="230.80" stroke="#666" stroke-width="0.8"/>
<text x="601.02" y="244.10" text-anchor="middle" font-size="16.5">18</text>
<line x1="670.86" y1="227.30" x2="670.86" y2="230.80" stroke="#666" stroke-width="0.8"/>
<text x="670.86" y="244.10" text-anchor="middle" font-size="16.5">24</text>
<line x1="48.50" y1="298.40" x2="48.50" y2="494.90" stroke="#3a3a3a" stroke-width="1.1"/>
<line x1="48.50" y1="494.90" x2="339.50" y2="494.90" stroke="#3a3a3a" stroke-width="1.1"/>
<line x1="45.00" y1="494.90" x2="48.50" y2="494.90" stroke="#666" stroke-width="0.8"/>
<text x="43.90" y="501.20" text-anchor="end" font-size="16.5">0</text>
<line x1="45.00" y1="450.24" x2="48.50" y2="450.24" stroke="#666" stroke-width="0.8"/>
<text x="43.90" y="456.54" text-anchor="end" font-size="16.5">0.5</text>
<line x1="45.00" y1="405.58" x2="48.50" y2="405.58" stroke="#666" stroke-width="0.8"/>
<text x="43.90" y="411.88" text-anchor="end" font-size="16.5">1</text>
<line x1="45.00" y1="360.92" x2="48.50" y2="360.92" stroke="#666" stroke-width="0.8"/>
<text x="43.90" y="367.22" text-anchor="end" font-size="16.5">1.5</text>
<line x1="45.00" y1="316.26" x2="48.50" y2="316.26" stroke="#666" stroke-width="0.8"/>
<text x="43.90" y="322.56" text-anchor="end" font-size="16.5">2</text>
<line x1="54.21" y1="494.90" x2="54.21" y2="498.40" stroke="#666" stroke-width="0.8"/>
<text x="54.21" y="511.70" text-anchor="middle" font-size="16.5">146</text>
<line x1="122.68" y1="494.90" x2="122.68" y2="498.40" stroke="#666" stroke-width="0.8"/>
<text x="122.68" y="511.70" text-anchor="middle" font-size="16.5">152</text>
<line x1="191.15" y1="494.90" x2="191.15" y2="498.40" stroke="#666" stroke-width="0.8"/>
<text x="191.15" y="511.70" text-anchor="middle" font-size="16.5">158</text>
<line x1="259.62" y1="494.90" x2="259.62" y2="498.40" stroke="#666" stroke-width="0.8"/>
<text x="259.62" y="511.70" text-anchor="middle" font-size="16.5">164</text>
<line x1="328.09" y1="494.90" x2="328.09" y2="498.40" stroke="#666" stroke-width="0.8"/>
<text x="328.09" y="511.70" text-anchor="middle" font-size="16.5">170</text>
<text transform="translate(15.40,396.70) rotate(-90)" x="0" y="0" text-anchor="middle" font-size="16.5">Metformin plasma [µg/ml]</text>
<text x="193.70" y="530.20" text-anchor="middle" font-size="17">Time [h]</text>
<line x1="391.50" y1="298.40" x2="391.50" y2="494.90" stroke="#3a3a3a" stroke-width="1.1"/>
<line x1="391.50" y1="494.90" x2="682.50" y2="494.90" stroke="#3a3a3a" stroke-width="1.1"/>
<line x1="388.00" y1="494.90" x2="391.50" y2="494.90" stroke="#666" stroke-width="0.8"/>
<text x="386.90" y="501.20" text-anchor="end" font-size="16.5">0</text>
<line x1="388.00" y1="466.00" x2="391.50" y2="466.00" stroke="#666" stroke-width="0.8"/>
<text x="386.90" y="472.30" text-anchor="end" font-size="16.5">0.5</text>
<line x1="388.00" y1="437.11" x2="391.50" y2="437.11" stroke="#666" stroke-width="0.8"/>
<text x="386.90" y="443.41" text-anchor="end" font-size="16.5">1</text>
<line x1="388.00" y1="408.21" x2="391.50" y2="408.21" stroke="#666" stroke-width="0.8"/>
<text x="386.90" y="414.51" text-anchor="end" font-size="16.5">1.5</text>
<line x1="388.00" y1="379.31" x2="391.50" y2="379.31" stroke="#666" stroke-width="0.8"/>
<text x="386.90" y="385.61" text-anchor="end" font-size="16.5">2</text>
<line x1="388.00" y1="350.41" x2="391.50" y2="350.41" stroke="#666" stroke-width="0.8"/>
<text x="386.90" y="356.71" text-anchor="end" font-size="16.5">2.5</text>
<line x1="388.00" y1="321.52" x2="391.50" y2="321.52" stroke="#666" stroke-width="0.8"/>
<text x="386.90" y="327.82" text-anchor="end" font-size="16.5">3</text>
<line x1="391.50" y1="494.90" x2="391.50" y2="498.40" stroke="#666" stroke-width="0.8"/>
<text x="391.50" y="511.70" text-anchor="middle" font-size="16.5">0</text>
<line x1="461.34" y1="494.90" x2="461.34" y2="498.40" stroke="#666" stroke-width="0.8"/>
<text x="461.34" y="511.70" text-anchor="middle" font-size="16.5">6</text>
<line x1="531.18" y1="494.90" x2="531.18" y2="498.40" stroke="#666" stroke-width="0.8"/>
<text x="531.18" y="511.70" text-anchor="middle" font-size="16.5">12</text>
<line x1="601.02" y1="494.90" x2="601.02" y2="498.40" stroke="#666" stroke-width="0.8"/>
<text x="601.02" y="511.70" text-anchor="middle" font-size="16.5">18</text>
<line x1="670.86" y1="494.90" x2="670.86" y2="498.40" stroke="#666" stroke-width="0.8"/>
<text x="670.86" y="511.70" text-anchor="middle" font-size="16.5">24</text>
<text x="536.70" y="530.20" text-anchor="middle" font-size="17">Time [h]</text>
<text x="48.40" y="22.20" font-size="23" font-weight="bold">a</text>
<text x="82.50" y="21.50" font-size="19">Metformin − 500 mg po</text>
<text x="391.40" y="22.20" font-size="23" font-weight="bold">b</text>
<text x="425.50" y="21.50" font-size="19">Metformin − 500 mg po</text>
<text x="48.40" y="289.80" font-size="23" font-weight="bold">c</text>
<text x="82.50" y="289.10" font-size="19">Metformin − 500 mg po</text>
<text x="391.40" y="289.80" font-size="23" font-weight="bold">d</text>
<text x="425.50" y="289.10" font-size="19">Metformin − 850 mg po</text>
</svg></body></html>
